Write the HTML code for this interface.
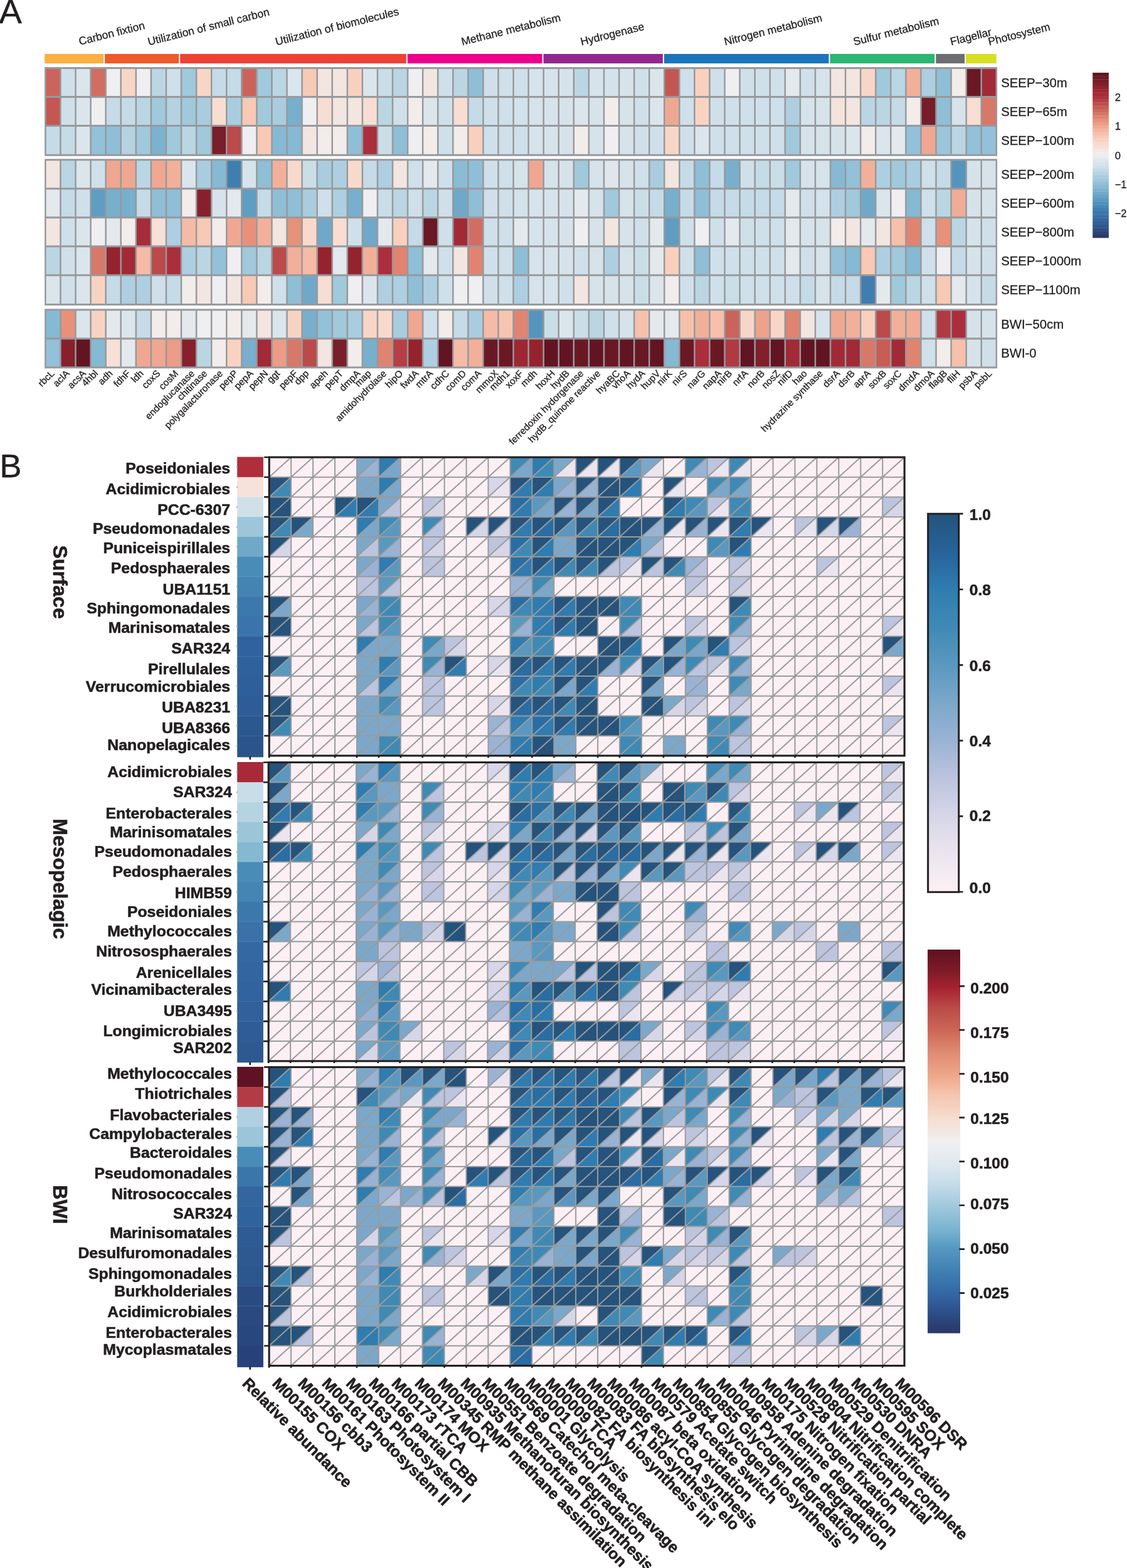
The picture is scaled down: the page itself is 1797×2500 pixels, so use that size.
<!DOCTYPE html>
<html lang="en">
<head>
<meta charset="utf-8">
<title>Figure: gene abundance heatmap and metabolic module completeness</title>
<style>
html,body{margin:0;padding:0;background:#fff}
body{width:1797px;height:2500px;overflow:hidden}
svg{display:block}
</style>
</head>
<body>
<svg xmlns="http://www.w3.org/2000/svg" width="1797" height="2500" viewBox="0 0 1797 2500" font-family="'Liberation Sans', Arial, Helvetica, sans-serif" fill="#231f20">
<defs>
<linearGradient id="ga" x1="0" y1="0" x2="0" y2="1"><stop offset="0" stop-color="#5c1122"/><stop offset="0.03" stop-color="#6b1825"/><stop offset="0.06" stop-color="#7a1e2a"/><stop offset="0.1" stop-color="#95232d"/><stop offset="0.14" stop-color="#ab2e3c"/><stop offset="0.19" stop-color="#bb4a4a"/><stop offset="0.22" stop-color="#cc635a"/><stop offset="0.26" stop-color="#d87868"/><stop offset="0.29" stop-color="#e8917a"/><stop offset="0.33" stop-color="#efa791"/><stop offset="0.34" stop-color="#f2b09a"/><stop offset="0.36" stop-color="#f5bba6"/><stop offset="0.39" stop-color="#f8c9b5"/><stop offset="0.41" stop-color="#f9d3c2"/><stop offset="0.44" stop-color="#f7ddd2"/><stop offset="0.47" stop-color="#f3e5e0"/><stop offset="0.48" stop-color="#f2ecea"/><stop offset="0.5" stop-color="#efeef0"/><stop offset="0.53" stop-color="#e3e9ed"/><stop offset="0.54" stop-color="#dbe5ec"/><stop offset="0.57" stop-color="#cfe0ea"/><stop offset="0.59" stop-color="#c5dbe7"/><stop offset="0.6" stop-color="#bad6e3"/><stop offset="0.62" stop-color="#aecfe1"/><stop offset="0.65" stop-color="#a0c9dc"/><stop offset="0.67" stop-color="#93c1d9"/><stop offset="0.69" stop-color="#86b9d3"/><stop offset="0.74" stop-color="#6fa8c9"/><stop offset="0.78" stop-color="#5595bd"/><stop offset="0.83" stop-color="#3f7faf"/><stop offset="0.87" stop-color="#3a6fa8"/><stop offset="0.92" stop-color="#305b95"/><stop offset="1" stop-color="#2a3762"/></linearGradient>
<linearGradient id="gb" x1="0" y1="0" x2="0" y2="1"><stop offset="0" stop-color="#25537c"/><stop offset="0.1" stop-color="#26639a"/><stop offset="0.2" stop-color="#2f7cb0"/><stop offset="0.3" stop-color="#3f8ab5"/><stop offset="0.4" stop-color="#5a98bf"/><stop offset="0.5" stop-color="#7ba8ca"/><stop offset="0.6" stop-color="#9ab3d4"/><stop offset="0.7" stop-color="#bcc4de"/><stop offset="0.8" stop-color="#d6d6e8"/><stop offset="0.9" stop-color="#ebe5f0"/><stop offset="1" stop-color="#fdf0f4"/></linearGradient>
<linearGradient id="gc" x1="0" y1="0" x2="0" y2="1"><stop offset="0" stop-color="#5e1021"/><stop offset="0.05" stop-color="#7a1a27"/><stop offset="0.1" stop-color="#a5222f"/><stop offset="0.15" stop-color="#b94a48"/><stop offset="0.21" stop-color="#cc6656"/><stop offset="0.27" stop-color="#e08c74"/><stop offset="0.33" stop-color="#eea88c"/><stop offset="0.38" stop-color="#f5c6b0"/><stop offset="0.44" stop-color="#f6ddd0"/><stop offset="0.5" stop-color="#f0f0f1"/><stop offset="0.56" stop-color="#dde8ef"/><stop offset="0.61" stop-color="#c6dce9"/><stop offset="0.67" stop-color="#a0c8dd"/><stop offset="0.73" stop-color="#7ab3d0"/><stop offset="0.78" stop-color="#5597c0"/><stop offset="0.84" stop-color="#3f7fb2"/><stop offset="0.9" stop-color="#3366a3"/><stop offset="0.95" stop-color="#2d4c85"/><stop offset="1" stop-color="#2a3765"/></linearGradient>
</defs>
<rect width="1797" height="2500" fill="#fff"/>
<text x="-1.5" y="37" font-size="54.5" stroke="#231f20" stroke-width="0.4">A</text>
<text x="-0.5" y="760.6" font-size="52.5" stroke="#231f20" stroke-width="0.4">B</text>
<g id="a-cat">
<rect x="71.2" y="86" width="94" height="15.1" fill="#fbb040"/>
<rect x="167.2" y="86" width="118" height="15.1" fill="#f15a29"/>
<rect x="287.2" y="86" width="360.5" height="15.1" fill="#ef4136"/>
<rect x="649.7" y="86" width="214.8" height="15.1" fill="#ec008c"/>
<rect x="866.5" y="86" width="190.4" height="15.1" fill="#92278f"/>
<rect x="1058.9" y="86" width="262.6" height="15.1" fill="#1b75bc"/>
<rect x="1323.5" y="86" width="166.8" height="15.1" fill="#2bb673"/>
<rect x="1492.3" y="86" width="45.8" height="15.1" fill="#6d6e71"/>
<rect x="1540.1" y="86" width="48.6" height="15.1" fill="#d7df23"/>
</g>
<g id="a-catlab" font-size="17.5" stroke="#231f20" stroke-width="0.3">
<text transform="translate(127.2 72) rotate(-14)">Carbon fixtion</text>
<text transform="translate(237.2 72.5) rotate(-14)">Utilization of small carbon</text>
<text transform="translate(440.7 72.5) rotate(-14)">Utilization of biomolecules</text>
<text transform="translate(737.2 72.5) rotate(-14)">Methane metabolism</text>
<text transform="translate(927.2 72.5) rotate(-14)">Hydrogenase</text>
<text transform="translate(1156.2 72.5) rotate(-14)">Nitrogen metabolism</text>
<text transform="translate(1362.2 72.5) rotate(-14)">Sulfur metabolism</text>
<text transform="translate(1516.8 72.5) rotate(-14)">Flagellar</text>
<text transform="translate(1577.2 72.5) rotate(-14)">Photosystem</text>
</g>
<g id="a-heat">
<rect x="71.15" y="107" width="1518.91" height="141.8" fill="#97999c"/>
<rect x="73.65" y="110" width="21.57" height="43" fill="#cc635a"/>
<rect x="97.72" y="110" width="21.57" height="43" fill="#cfe0ea"/>
<rect x="121.79" y="110" width="21.57" height="43" fill="#dbe5ec"/>
<rect x="145.86" y="110" width="21.57" height="43" fill="#d26e61"/>
<rect x="169.93" y="110" width="21.57" height="43" fill="#efeef0"/>
<rect x="194" y="110" width="21.57" height="43" fill="#f8d6c7"/>
<rect x="218.07" y="110" width="21.57" height="43" fill="#efeef0"/>
<rect x="242.14" y="110" width="21.57" height="43" fill="#bad6e3"/>
<rect x="266.21" y="110" width="21.57" height="43" fill="#cfe0ea"/>
<rect x="290.28" y="110" width="21.57" height="43" fill="#a0c9dc"/>
<rect x="314.35" y="110" width="21.57" height="43" fill="#f8d6c7"/>
<rect x="338.42" y="110" width="21.57" height="43" fill="#c5dbe7"/>
<rect x="362.49" y="110" width="21.57" height="43" fill="#c5dbe7"/>
<rect x="386.56" y="110" width="21.57" height="43" fill="#cc635a"/>
<rect x="410.63" y="110" width="21.57" height="43" fill="#a0c9dc"/>
<rect x="434.7" y="110" width="21.57" height="43" fill="#bad6e3"/>
<rect x="458.77" y="110" width="21.57" height="43" fill="#dbe5ec"/>
<rect x="482.84" y="110" width="21.57" height="43" fill="#f8c9b5"/>
<rect x="506.91" y="110" width="21.57" height="43" fill="#f3e5e0"/>
<rect x="530.98" y="110" width="21.57" height="43" fill="#f3e5e0"/>
<rect x="555.05" y="110" width="21.57" height="43" fill="#f9d0be"/>
<rect x="579.12" y="110" width="21.57" height="43" fill="#dbe5ec"/>
<rect x="603.19" y="110" width="21.57" height="43" fill="#cadee8"/>
<rect x="627.26" y="110" width="21.57" height="43" fill="#bad6e3"/>
<rect x="651.33" y="110" width="21.57" height="43" fill="#efeef0"/>
<rect x="675.4" y="110" width="21.57" height="43" fill="#f3e5e0"/>
<rect x="699.47" y="110" width="21.57" height="43" fill="#cfe0ea"/>
<rect x="723.54" y="110" width="21.57" height="43" fill="#bad6e3"/>
<rect x="747.61" y="110" width="21.57" height="43" fill="#8fbed7"/>
<rect x="771.68" y="110" width="21.57" height="43" fill="#cfe0ea"/>
<rect x="795.75" y="110" width="21.57" height="43" fill="#cfe0ea"/>
<rect x="819.82" y="110" width="21.57" height="43" fill="#cfe0ea"/>
<rect x="843.89" y="110" width="21.57" height="43" fill="#d7e3eb"/>
<rect x="867.96" y="110" width="21.57" height="43" fill="#d7e3eb"/>
<rect x="892.03" y="110" width="21.57" height="43" fill="#d7e3eb"/>
<rect x="916.1" y="110" width="21.57" height="43" fill="#bad6e3"/>
<rect x="940.17" y="110" width="21.57" height="43" fill="#d7e3eb"/>
<rect x="964.24" y="110" width="21.57" height="43" fill="#d3e2eb"/>
<rect x="988.31" y="110" width="21.57" height="43" fill="#d7e3eb"/>
<rect x="1012.38" y="110" width="21.57" height="43" fill="#cfe0ea"/>
<rect x="1036.45" y="110" width="21.57" height="43" fill="#dbe5ec"/>
<rect x="1060.52" y="110" width="21.57" height="43" fill="#c45752"/>
<rect x="1084.59" y="110" width="21.57" height="43" fill="#cfe0ea"/>
<rect x="1108.66" y="110" width="21.57" height="43" fill="#f9d0be"/>
<rect x="1132.73" y="110" width="21.57" height="43" fill="#cfe0ea"/>
<rect x="1156.8" y="110" width="21.57" height="43" fill="#efeef0"/>
<rect x="1180.87" y="110" width="21.57" height="43" fill="#cfe0ea"/>
<rect x="1204.94" y="110" width="21.57" height="43" fill="#cfe0ea"/>
<rect x="1229.01" y="110" width="21.57" height="43" fill="#cfe0ea"/>
<rect x="1253.08" y="110" width="21.57" height="43" fill="#e3e9ed"/>
<rect x="1277.15" y="110" width="21.57" height="43" fill="#cfe0ea"/>
<rect x="1301.22" y="110" width="21.57" height="43" fill="#d7e3eb"/>
<rect x="1325.29" y="110" width="21.57" height="43" fill="#f3e5e0"/>
<rect x="1349.36" y="110" width="21.57" height="43" fill="#f3e5e0"/>
<rect x="1373.43" y="110" width="21.57" height="43" fill="#f8d6c7"/>
<rect x="1397.5" y="110" width="21.57" height="43" fill="#a0c9dc"/>
<rect x="1421.57" y="110" width="21.57" height="43" fill="#bad6e3"/>
<rect x="1445.64" y="110" width="21.57" height="43" fill="#f2b09a"/>
<rect x="1469.71" y="110" width="21.57" height="43" fill="#aecfe1"/>
<rect x="1493.78" y="110" width="21.57" height="43" fill="#8fbed7"/>
<rect x="1517.85" y="110" width="21.57" height="43" fill="#f2ecea"/>
<rect x="1541.92" y="110" width="21.57" height="43" fill="#6b1825"/>
<rect x="1565.99" y="110" width="21.57" height="43" fill="#a22a36"/>
<rect x="73.65" y="156" width="21.57" height="43" fill="#c45752"/>
<rect x="97.72" y="156" width="21.57" height="43" fill="#cfe0ea"/>
<rect x="121.79" y="156" width="21.57" height="43" fill="#dbe5ec"/>
<rect x="145.86" y="156" width="21.57" height="43" fill="#efeef0"/>
<rect x="169.93" y="156" width="21.57" height="43" fill="#c5dbe7"/>
<rect x="194" y="156" width="21.57" height="43" fill="#c5dbe7"/>
<rect x="218.07" y="156" width="21.57" height="43" fill="#bad6e3"/>
<rect x="242.14" y="156" width="21.57" height="43" fill="#a0c9dc"/>
<rect x="266.21" y="156" width="21.57" height="43" fill="#b4d2e2"/>
<rect x="290.28" y="156" width="21.57" height="43" fill="#a0c9dc"/>
<rect x="314.35" y="156" width="21.57" height="43" fill="#a9cddf"/>
<rect x="338.42" y="156" width="21.57" height="43" fill="#f7ddd2"/>
<rect x="362.49" y="156" width="21.57" height="43" fill="#a9cddf"/>
<rect x="386.56" y="156" width="21.57" height="43" fill="#f8c9b5"/>
<rect x="410.63" y="156" width="21.57" height="43" fill="#a0c9dc"/>
<rect x="434.7" y="156" width="21.57" height="43" fill="#a9cddf"/>
<rect x="458.77" y="156" width="21.57" height="43" fill="#78afcd"/>
<rect x="482.84" y="156" width="21.57" height="43" fill="#efeef0"/>
<rect x="506.91" y="156" width="21.57" height="43" fill="#f7ddd2"/>
<rect x="530.98" y="156" width="21.57" height="43" fill="#f3e5e0"/>
<rect x="555.05" y="156" width="21.57" height="43" fill="#f3e5e0"/>
<rect x="579.12" y="156" width="21.57" height="43" fill="#f7ddd2"/>
<rect x="603.19" y="156" width="21.57" height="43" fill="#bad6e3"/>
<rect x="627.26" y="156" width="21.57" height="43" fill="#cfe0ea"/>
<rect x="651.33" y="156" width="21.57" height="43" fill="#f2ecea"/>
<rect x="675.4" y="156" width="21.57" height="43" fill="#dbe5ec"/>
<rect x="699.47" y="156" width="21.57" height="43" fill="#cfe0ea"/>
<rect x="723.54" y="156" width="21.57" height="43" fill="#f7ddd2"/>
<rect x="747.61" y="156" width="21.57" height="43" fill="#c5dbe7"/>
<rect x="771.68" y="156" width="21.57" height="43" fill="#cfe0ea"/>
<rect x="795.75" y="156" width="21.57" height="43" fill="#cfe0ea"/>
<rect x="819.82" y="156" width="21.57" height="43" fill="#d3e2eb"/>
<rect x="843.89" y="156" width="21.57" height="43" fill="#d7e3eb"/>
<rect x="867.96" y="156" width="21.57" height="43" fill="#d7e3eb"/>
<rect x="892.03" y="156" width="21.57" height="43" fill="#d7e3eb"/>
<rect x="916.1" y="156" width="21.57" height="43" fill="#dbe5ec"/>
<rect x="940.17" y="156" width="21.57" height="43" fill="#d7e3eb"/>
<rect x="964.24" y="156" width="21.57" height="43" fill="#f2ecea"/>
<rect x="988.31" y="156" width="21.57" height="43" fill="#d7e3eb"/>
<rect x="1012.38" y="156" width="21.57" height="43" fill="#cfe0ea"/>
<rect x="1036.45" y="156" width="21.57" height="43" fill="#dbe5ec"/>
<rect x="1060.52" y="156" width="21.57" height="43" fill="#efa791"/>
<rect x="1084.59" y="156" width="21.57" height="43" fill="#cfe0ea"/>
<rect x="1108.66" y="156" width="21.57" height="43" fill="#f9d3c2"/>
<rect x="1132.73" y="156" width="21.57" height="43" fill="#cfe0ea"/>
<rect x="1156.8" y="156" width="21.57" height="43" fill="#cfe0ea"/>
<rect x="1180.87" y="156" width="21.57" height="43" fill="#cfe0ea"/>
<rect x="1204.94" y="156" width="21.57" height="43" fill="#cfe0ea"/>
<rect x="1229.01" y="156" width="21.57" height="43" fill="#cfe0ea"/>
<rect x="1253.08" y="156" width="21.57" height="43" fill="#aecfe1"/>
<rect x="1277.15" y="156" width="21.57" height="43" fill="#d7e3eb"/>
<rect x="1301.22" y="156" width="21.57" height="43" fill="#d7e3eb"/>
<rect x="1325.29" y="156" width="21.57" height="43" fill="#f4e2db"/>
<rect x="1349.36" y="156" width="21.57" height="43" fill="#f3e5e0"/>
<rect x="1373.43" y="156" width="21.57" height="43" fill="#bad6e3"/>
<rect x="1397.5" y="156" width="21.57" height="43" fill="#bad6e3"/>
<rect x="1421.57" y="156" width="21.57" height="43" fill="#c5dbe7"/>
<rect x="1445.64" y="156" width="21.57" height="43" fill="#f2ecea"/>
<rect x="1469.71" y="156" width="21.57" height="43" fill="#761d29"/>
<rect x="1493.78" y="156" width="21.57" height="43" fill="#8fbed7"/>
<rect x="1517.85" y="156" width="21.57" height="43" fill="#d7e3eb"/>
<rect x="1541.92" y="156" width="21.57" height="43" fill="#f7ddd2"/>
<rect x="1565.99" y="156" width="21.57" height="43" fill="#d87868"/>
<rect x="73.65" y="202" width="21.57" height="43.8" fill="#c5dbe7"/>
<rect x="97.72" y="202" width="21.57" height="43.8" fill="#c5dbe7"/>
<rect x="121.79" y="202" width="21.57" height="43.8" fill="#dbe5ec"/>
<rect x="145.86" y="202" width="21.57" height="43.8" fill="#93c1d9"/>
<rect x="169.93" y="202" width="21.57" height="43.8" fill="#8fbed7"/>
<rect x="194" y="202" width="21.57" height="43.8" fill="#b4d2e2"/>
<rect x="218.07" y="202" width="21.57" height="43.8" fill="#a0c9dc"/>
<rect x="242.14" y="202" width="21.57" height="43.8" fill="#7db2cf"/>
<rect x="266.21" y="202" width="21.57" height="43.8" fill="#a0c9dc"/>
<rect x="290.28" y="202" width="21.57" height="43.8" fill="#bad6e3"/>
<rect x="314.35" y="202" width="21.57" height="43.8" fill="#a0c9dc"/>
<rect x="338.42" y="202" width="21.57" height="43.8" fill="#7a1e2a"/>
<rect x="362.49" y="202" width="21.57" height="43.8" fill="#bb4a4a"/>
<rect x="386.56" y="202" width="21.57" height="43.8" fill="#efeef0"/>
<rect x="410.63" y="202" width="21.57" height="43.8" fill="#f8c9b5"/>
<rect x="434.7" y="202" width="21.57" height="43.8" fill="#86b9d3"/>
<rect x="458.77" y="202" width="21.57" height="43.8" fill="#86b9d3"/>
<rect x="482.84" y="202" width="21.57" height="43.8" fill="#f3e5e0"/>
<rect x="506.91" y="202" width="21.57" height="43.8" fill="#f2ecea"/>
<rect x="530.98" y="202" width="21.57" height="43.8" fill="#f2ecea"/>
<rect x="555.05" y="202" width="21.57" height="43.8" fill="#8fbed7"/>
<rect x="579.12" y="202" width="21.57" height="43.8" fill="#ab2e3c"/>
<rect x="603.19" y="202" width="21.57" height="43.8" fill="#cadee8"/>
<rect x="627.26" y="202" width="21.57" height="43.8" fill="#8fbed7"/>
<rect x="651.33" y="202" width="21.57" height="43.8" fill="#efeef0"/>
<rect x="675.4" y="202" width="21.57" height="43.8" fill="#f2ecea"/>
<rect x="699.47" y="202" width="21.57" height="43.8" fill="#cfe0ea"/>
<rect x="723.54" y="202" width="21.57" height="43.8" fill="#f2ecea"/>
<rect x="747.61" y="202" width="21.57" height="43.8" fill="#f9d0be"/>
<rect x="771.68" y="202" width="21.57" height="43.8" fill="#cfe0ea"/>
<rect x="795.75" y="202" width="21.57" height="43.8" fill="#cfe0ea"/>
<rect x="819.82" y="202" width="21.57" height="43.8" fill="#cfe0ea"/>
<rect x="843.89" y="202" width="21.57" height="43.8" fill="#d7e3eb"/>
<rect x="867.96" y="202" width="21.57" height="43.8" fill="#d7e3eb"/>
<rect x="892.03" y="202" width="21.57" height="43.8" fill="#d7e3eb"/>
<rect x="916.1" y="202" width="21.57" height="43.8" fill="#f2ecea"/>
<rect x="940.17" y="202" width="21.57" height="43.8" fill="#d7e3eb"/>
<rect x="964.24" y="202" width="21.57" height="43.8" fill="#efeef0"/>
<rect x="988.31" y="202" width="21.57" height="43.8" fill="#d7e3eb"/>
<rect x="1012.38" y="202" width="21.57" height="43.8" fill="#cfe0ea"/>
<rect x="1036.45" y="202" width="21.57" height="43.8" fill="#cfe0ea"/>
<rect x="1060.52" y="202" width="21.57" height="43.8" fill="#f8d6c7"/>
<rect x="1084.59" y="202" width="21.57" height="43.8" fill="#cfe0ea"/>
<rect x="1108.66" y="202" width="21.57" height="43.8" fill="#dbe5ec"/>
<rect x="1132.73" y="202" width="21.57" height="43.8" fill="#cfe0ea"/>
<rect x="1156.8" y="202" width="21.57" height="43.8" fill="#cfe0ea"/>
<rect x="1180.87" y="202" width="21.57" height="43.8" fill="#cfe0ea"/>
<rect x="1204.94" y="202" width="21.57" height="43.8" fill="#cfe0ea"/>
<rect x="1229.01" y="202" width="21.57" height="43.8" fill="#cfe0ea"/>
<rect x="1253.08" y="202" width="21.57" height="43.8" fill="#a0c9dc"/>
<rect x="1277.15" y="202" width="21.57" height="43.8" fill="#d7e3eb"/>
<rect x="1301.22" y="202" width="21.57" height="43.8" fill="#d7e3eb"/>
<rect x="1325.29" y="202" width="21.57" height="43.8" fill="#d7e3eb"/>
<rect x="1349.36" y="202" width="21.57" height="43.8" fill="#dbe5ec"/>
<rect x="1373.43" y="202" width="21.57" height="43.8" fill="#f2ecea"/>
<rect x="1397.5" y="202" width="21.57" height="43.8" fill="#dbe5ec"/>
<rect x="1421.57" y="202" width="21.57" height="43.8" fill="#e3e9ed"/>
<rect x="1445.64" y="202" width="21.57" height="43.8" fill="#93c1d9"/>
<rect x="1469.71" y="202" width="21.57" height="43.8" fill="#efa791"/>
<rect x="1493.78" y="202" width="21.57" height="43.8" fill="#9ac5da"/>
<rect x="1517.85" y="202" width="21.57" height="43.8" fill="#bad6e3"/>
<rect x="1541.92" y="202" width="21.57" height="43.8" fill="#93c1d9"/>
<rect x="1565.99" y="202" width="21.57" height="43.8" fill="#93c1d9"/>
<rect x="71.15" y="253.3" width="1518.91" height="233.8" fill="#97999c"/>
<rect x="73.65" y="256.3" width="21.57" height="43" fill="#f3e5e0"/>
<rect x="97.72" y="256.3" width="21.57" height="43" fill="#bad6e3"/>
<rect x="121.79" y="256.3" width="21.57" height="43" fill="#dbe5ec"/>
<rect x="145.86" y="256.3" width="21.57" height="43" fill="#cfe0ea"/>
<rect x="169.93" y="256.3" width="21.57" height="43" fill="#efa791"/>
<rect x="194" y="256.3" width="21.57" height="43" fill="#efa791"/>
<rect x="218.07" y="256.3" width="21.57" height="43" fill="#bad6e3"/>
<rect x="242.14" y="256.3" width="21.57" height="43" fill="#efa791"/>
<rect x="266.21" y="256.3" width="21.57" height="43" fill="#f2b09a"/>
<rect x="290.28" y="256.3" width="21.57" height="43" fill="#dbe5ec"/>
<rect x="314.35" y="256.3" width="21.57" height="43" fill="#a9cddf"/>
<rect x="338.42" y="256.3" width="21.57" height="43" fill="#86b9d3"/>
<rect x="362.49" y="256.3" width="21.57" height="43" fill="#3f7faf"/>
<rect x="386.56" y="256.3" width="21.57" height="43" fill="#d7e3eb"/>
<rect x="410.63" y="256.3" width="21.57" height="43" fill="#8fbed7"/>
<rect x="434.7" y="256.3" width="21.57" height="43" fill="#f2b09a"/>
<rect x="458.77" y="256.3" width="21.57" height="43" fill="#f8dacd"/>
<rect x="482.84" y="256.3" width="21.57" height="43" fill="#cadee8"/>
<rect x="506.91" y="256.3" width="21.57" height="43" fill="#a9cddf"/>
<rect x="530.98" y="256.3" width="21.57" height="43" fill="#aecfe1"/>
<rect x="555.05" y="256.3" width="21.57" height="43" fill="#f8dacd"/>
<rect x="579.12" y="256.3" width="21.57" height="43" fill="#c5dbe7"/>
<rect x="603.19" y="256.3" width="21.57" height="43" fill="#aecfe1"/>
<rect x="627.26" y="256.3" width="21.57" height="43" fill="#f3e5e0"/>
<rect x="651.33" y="256.3" width="21.57" height="43" fill="#cfe0ea"/>
<rect x="675.4" y="256.3" width="21.57" height="43" fill="#e3e9ed"/>
<rect x="699.47" y="256.3" width="21.57" height="43" fill="#cfe0ea"/>
<rect x="723.54" y="256.3" width="21.57" height="43" fill="#8abcd5"/>
<rect x="747.61" y="256.3" width="21.57" height="43" fill="#8fbed7"/>
<rect x="771.68" y="256.3" width="21.57" height="43" fill="#cfe0ea"/>
<rect x="795.75" y="256.3" width="21.57" height="43" fill="#cfe0ea"/>
<rect x="819.82" y="256.3" width="21.57" height="43" fill="#d7e3eb"/>
<rect x="843.89" y="256.3" width="21.57" height="43" fill="#efa791"/>
<rect x="867.96" y="256.3" width="21.57" height="43" fill="#d7e3eb"/>
<rect x="892.03" y="256.3" width="21.57" height="43" fill="#d7e3eb"/>
<rect x="916.1" y="256.3" width="21.57" height="43" fill="#a0c9dc"/>
<rect x="940.17" y="256.3" width="21.57" height="43" fill="#d7e3eb"/>
<rect x="964.24" y="256.3" width="21.57" height="43" fill="#dfe7ec"/>
<rect x="988.31" y="256.3" width="21.57" height="43" fill="#d7e3eb"/>
<rect x="1012.38" y="256.3" width="21.57" height="43" fill="#cfe0ea"/>
<rect x="1036.45" y="256.3" width="21.57" height="43" fill="#a9cddf"/>
<rect x="1060.52" y="256.3" width="21.57" height="43" fill="#f3e5e0"/>
<rect x="1084.59" y="256.3" width="21.57" height="43" fill="#c5dbe7"/>
<rect x="1108.66" y="256.3" width="21.57" height="43" fill="#8fbed7"/>
<rect x="1132.73" y="256.3" width="21.57" height="43" fill="#c5dbe7"/>
<rect x="1156.8" y="256.3" width="21.57" height="43" fill="#78afcd"/>
<rect x="1180.87" y="256.3" width="21.57" height="43" fill="#cfe0ea"/>
<rect x="1204.94" y="256.3" width="21.57" height="43" fill="#c5dbe7"/>
<rect x="1229.01" y="256.3" width="21.57" height="43" fill="#cadee8"/>
<rect x="1253.08" y="256.3" width="21.57" height="43" fill="#a0c9dc"/>
<rect x="1277.15" y="256.3" width="21.57" height="43" fill="#d7e3eb"/>
<rect x="1301.22" y="256.3" width="21.57" height="43" fill="#d7e3eb"/>
<rect x="1325.29" y="256.3" width="21.57" height="43" fill="#86b9d3"/>
<rect x="1349.36" y="256.3" width="21.57" height="43" fill="#93c1d9"/>
<rect x="1373.43" y="256.3" width="21.57" height="43" fill="#f2b09a"/>
<rect x="1397.5" y="256.3" width="21.57" height="43" fill="#aecfe1"/>
<rect x="1421.57" y="256.3" width="21.57" height="43" fill="#a0c9dc"/>
<rect x="1445.64" y="256.3" width="21.57" height="43" fill="#a9cddf"/>
<rect x="1469.71" y="256.3" width="21.57" height="43" fill="#cfe0ea"/>
<rect x="1493.78" y="256.3" width="21.57" height="43" fill="#c5dbe7"/>
<rect x="1517.85" y="256.3" width="21.57" height="43" fill="#5595bd"/>
<rect x="1541.92" y="256.3" width="21.57" height="43" fill="#d7e3eb"/>
<rect x="1565.99" y="256.3" width="21.57" height="43" fill="#d7e3eb"/>
<rect x="73.65" y="302.3" width="21.57" height="43" fill="#e3e9ed"/>
<rect x="97.72" y="302.3" width="21.57" height="43" fill="#c5dbe7"/>
<rect x="121.79" y="302.3" width="21.57" height="43" fill="#cfe0ea"/>
<rect x="145.86" y="302.3" width="21.57" height="43" fill="#5f9dc2"/>
<rect x="169.93" y="302.3" width="21.57" height="43" fill="#78afcd"/>
<rect x="194" y="302.3" width="21.57" height="43" fill="#78afcd"/>
<rect x="218.07" y="302.3" width="21.57" height="43" fill="#c5dbe7"/>
<rect x="242.14" y="302.3" width="21.57" height="43" fill="#8fbed7"/>
<rect x="266.21" y="302.3" width="21.57" height="43" fill="#8fbed7"/>
<rect x="290.28" y="302.3" width="21.57" height="43" fill="#f2ecea"/>
<rect x="314.35" y="302.3" width="21.57" height="43" fill="#88202c"/>
<rect x="338.42" y="302.3" width="21.57" height="43" fill="#d7e3eb"/>
<rect x="362.49" y="302.3" width="21.57" height="43" fill="#e3e9ed"/>
<rect x="386.56" y="302.3" width="21.57" height="43" fill="#5f9dc2"/>
<rect x="410.63" y="302.3" width="21.57" height="43" fill="#c5dbe7"/>
<rect x="434.7" y="302.3" width="21.57" height="43" fill="#8fbed7"/>
<rect x="458.77" y="302.3" width="21.57" height="43" fill="#8fbed7"/>
<rect x="482.84" y="302.3" width="21.57" height="43" fill="#a9cddf"/>
<rect x="506.91" y="302.3" width="21.57" height="43" fill="#cfe0ea"/>
<rect x="530.98" y="302.3" width="21.57" height="43" fill="#aecfe1"/>
<rect x="555.05" y="302.3" width="21.57" height="43" fill="#78afcd"/>
<rect x="579.12" y="302.3" width="21.57" height="43" fill="#efeef0"/>
<rect x="603.19" y="302.3" width="21.57" height="43" fill="#cadee8"/>
<rect x="627.26" y="302.3" width="21.57" height="43" fill="#bad6e3"/>
<rect x="651.33" y="302.3" width="21.57" height="43" fill="#cfe0ea"/>
<rect x="675.4" y="302.3" width="21.57" height="43" fill="#bad6e3"/>
<rect x="699.47" y="302.3" width="21.57" height="43" fill="#cfe0ea"/>
<rect x="723.54" y="302.3" width="21.57" height="43" fill="#6fa8c9"/>
<rect x="747.61" y="302.3" width="21.57" height="43" fill="#8fbed7"/>
<rect x="771.68" y="302.3" width="21.57" height="43" fill="#cfe0ea"/>
<rect x="795.75" y="302.3" width="21.57" height="43" fill="#cfe0ea"/>
<rect x="819.82" y="302.3" width="21.57" height="43" fill="#d3e2eb"/>
<rect x="843.89" y="302.3" width="21.57" height="43" fill="#d7e3eb"/>
<rect x="867.96" y="302.3" width="21.57" height="43" fill="#d7e3eb"/>
<rect x="892.03" y="302.3" width="21.57" height="43" fill="#d7e3eb"/>
<rect x="916.1" y="302.3" width="21.57" height="43" fill="#e3e9ed"/>
<rect x="940.17" y="302.3" width="21.57" height="43" fill="#d7e3eb"/>
<rect x="964.24" y="302.3" width="21.57" height="43" fill="#a0c9dc"/>
<rect x="988.31" y="302.3" width="21.57" height="43" fill="#d7e3eb"/>
<rect x="1012.38" y="302.3" width="21.57" height="43" fill="#cadee8"/>
<rect x="1036.45" y="302.3" width="21.57" height="43" fill="#c5dbe7"/>
<rect x="1060.52" y="302.3" width="21.57" height="43" fill="#78afcd"/>
<rect x="1084.59" y="302.3" width="21.57" height="43" fill="#c5dbe7"/>
<rect x="1108.66" y="302.3" width="21.57" height="43" fill="#8fbed7"/>
<rect x="1132.73" y="302.3" width="21.57" height="43" fill="#c5dbe7"/>
<rect x="1156.8" y="302.3" width="21.57" height="43" fill="#c5dbe7"/>
<rect x="1180.87" y="302.3" width="21.57" height="43" fill="#c5dbe7"/>
<rect x="1204.94" y="302.3" width="21.57" height="43" fill="#c5dbe7"/>
<rect x="1229.01" y="302.3" width="21.57" height="43" fill="#c5dbe7"/>
<rect x="1253.08" y="302.3" width="21.57" height="43" fill="#e3e9ed"/>
<rect x="1277.15" y="302.3" width="21.57" height="43" fill="#cfe0ea"/>
<rect x="1301.22" y="302.3" width="21.57" height="43" fill="#d3e2eb"/>
<rect x="1325.29" y="302.3" width="21.57" height="43" fill="#aecfe1"/>
<rect x="1349.36" y="302.3" width="21.57" height="43" fill="#a0c9dc"/>
<rect x="1373.43" y="302.3" width="21.57" height="43" fill="#6fa8c9"/>
<rect x="1397.5" y="302.3" width="21.57" height="43" fill="#dbe5ec"/>
<rect x="1421.57" y="302.3" width="21.57" height="43" fill="#efeef0"/>
<rect x="1445.64" y="302.3" width="21.57" height="43" fill="#86b9d3"/>
<rect x="1469.71" y="302.3" width="21.57" height="43" fill="#cfe0ea"/>
<rect x="1493.78" y="302.3" width="21.57" height="43" fill="#bad6e3"/>
<rect x="1517.85" y="302.3" width="21.57" height="43" fill="#f0ac96"/>
<rect x="1541.92" y="302.3" width="21.57" height="43" fill="#d7e3eb"/>
<rect x="1565.99" y="302.3" width="21.57" height="43" fill="#d7e3eb"/>
<rect x="73.65" y="348.3" width="21.57" height="43" fill="#f3e5e0"/>
<rect x="97.72" y="348.3" width="21.57" height="43" fill="#cfe0ea"/>
<rect x="121.79" y="348.3" width="21.57" height="43" fill="#dbe5ec"/>
<rect x="145.86" y="348.3" width="21.57" height="43" fill="#efeef0"/>
<rect x="169.93" y="348.3" width="21.57" height="43" fill="#e3e9ed"/>
<rect x="194" y="348.3" width="21.57" height="43" fill="#f2ecea"/>
<rect x="218.07" y="348.3" width="21.57" height="43" fill="#a72c39"/>
<rect x="242.14" y="348.3" width="21.57" height="43" fill="#f6e0d7"/>
<rect x="266.21" y="348.3" width="21.57" height="43" fill="#aecfe1"/>
<rect x="290.28" y="348.3" width="21.57" height="43" fill="#f5bba6"/>
<rect x="314.35" y="348.3" width="21.57" height="43" fill="#f8c9b5"/>
<rect x="338.42" y="348.3" width="21.57" height="43" fill="#f2ecea"/>
<rect x="362.49" y="348.3" width="21.57" height="43" fill="#efa791"/>
<rect x="386.56" y="348.3" width="21.57" height="43" fill="#e8917a"/>
<rect x="410.63" y="348.3" width="21.57" height="43" fill="#f2b09a"/>
<rect x="434.7" y="348.3" width="21.57" height="43" fill="#f3e5e0"/>
<rect x="458.77" y="348.3" width="21.57" height="43" fill="#e8917a"/>
<rect x="482.84" y="348.3" width="21.57" height="43" fill="#f8dacd"/>
<rect x="506.91" y="348.3" width="21.57" height="43" fill="#6fa8c9"/>
<rect x="530.98" y="348.3" width="21.57" height="43" fill="#f7ddd2"/>
<rect x="555.05" y="348.3" width="21.57" height="43" fill="#cfe0ea"/>
<rect x="579.12" y="348.3" width="21.57" height="43" fill="#6fa8c9"/>
<rect x="603.19" y="348.3" width="21.57" height="43" fill="#e3e9ed"/>
<rect x="627.26" y="348.3" width="21.57" height="43" fill="#f9d0be"/>
<rect x="651.33" y="348.3" width="21.57" height="43" fill="#c5dbe7"/>
<rect x="675.4" y="348.3" width="21.57" height="43" fill="#6b1825"/>
<rect x="699.47" y="348.3" width="21.57" height="43" fill="#cfe0ea"/>
<rect x="723.54" y="348.3" width="21.57" height="43" fill="#a22a36"/>
<rect x="747.61" y="348.3" width="21.57" height="43" fill="#d26e61"/>
<rect x="771.68" y="348.3" width="21.57" height="43" fill="#cfe0ea"/>
<rect x="795.75" y="348.3" width="21.57" height="43" fill="#cfe0ea"/>
<rect x="819.82" y="348.3" width="21.57" height="43" fill="#e3e9ed"/>
<rect x="843.89" y="348.3" width="21.57" height="43" fill="#d7e3eb"/>
<rect x="867.96" y="348.3" width="21.57" height="43" fill="#d7e3eb"/>
<rect x="892.03" y="348.3" width="21.57" height="43" fill="#d7e3eb"/>
<rect x="916.1" y="348.3" width="21.57" height="43" fill="#efeef0"/>
<rect x="940.17" y="348.3" width="21.57" height="43" fill="#d7e3eb"/>
<rect x="964.24" y="348.3" width="21.57" height="43" fill="#f3e5e0"/>
<rect x="988.31" y="348.3" width="21.57" height="43" fill="#d7e3eb"/>
<rect x="1012.38" y="348.3" width="21.57" height="43" fill="#cfe0ea"/>
<rect x="1036.45" y="348.3" width="21.57" height="43" fill="#e3e9ed"/>
<rect x="1060.52" y="348.3" width="21.57" height="43" fill="#5f9dc2"/>
<rect x="1084.59" y="348.3" width="21.57" height="43" fill="#cfe0ea"/>
<rect x="1108.66" y="348.3" width="21.57" height="43" fill="#efeef0"/>
<rect x="1132.73" y="348.3" width="21.57" height="43" fill="#cfe0ea"/>
<rect x="1156.8" y="348.3" width="21.57" height="43" fill="#e3e9ed"/>
<rect x="1180.87" y="348.3" width="21.57" height="43" fill="#cfe0ea"/>
<rect x="1204.94" y="348.3" width="21.57" height="43" fill="#cfe0ea"/>
<rect x="1229.01" y="348.3" width="21.57" height="43" fill="#cfe0ea"/>
<rect x="1253.08" y="348.3" width="21.57" height="43" fill="#e3e9ed"/>
<rect x="1277.15" y="348.3" width="21.57" height="43" fill="#d7e3eb"/>
<rect x="1301.22" y="348.3" width="21.57" height="43" fill="#d7e3eb"/>
<rect x="1325.29" y="348.3" width="21.57" height="43" fill="#f2ecea"/>
<rect x="1349.36" y="348.3" width="21.57" height="43" fill="#f3e5e0"/>
<rect x="1373.43" y="348.3" width="21.57" height="43" fill="#e3e9ed"/>
<rect x="1397.5" y="348.3" width="21.57" height="43" fill="#f3e5e0"/>
<rect x="1421.57" y="348.3" width="21.57" height="43" fill="#f6c0ab"/>
<rect x="1445.64" y="348.3" width="21.57" height="43" fill="#e08471"/>
<rect x="1469.71" y="348.3" width="21.57" height="43" fill="#cfe0ea"/>
<rect x="1493.78" y="348.3" width="21.57" height="43" fill="#e8917a"/>
<rect x="1517.85" y="348.3" width="21.57" height="43" fill="#bad6e3"/>
<rect x="1541.92" y="348.3" width="21.57" height="43" fill="#d7e3eb"/>
<rect x="1565.99" y="348.3" width="21.57" height="43" fill="#cfe0ea"/>
<rect x="73.65" y="394.3" width="21.57" height="43" fill="#bad6e3"/>
<rect x="97.72" y="394.3" width="21.57" height="43" fill="#cfe0ea"/>
<rect x="121.79" y="394.3" width="21.57" height="43" fill="#dbe5ec"/>
<rect x="145.86" y="394.3" width="21.57" height="43" fill="#d87868"/>
<rect x="169.93" y="394.3" width="21.57" height="43" fill="#95232d"/>
<rect x="194" y="394.3" width="21.57" height="43" fill="#a22a36"/>
<rect x="218.07" y="394.3" width="21.57" height="43" fill="#f5bba6"/>
<rect x="242.14" y="394.3" width="21.57" height="43" fill="#bb4a4a"/>
<rect x="266.21" y="394.3" width="21.57" height="43" fill="#ab2e3c"/>
<rect x="290.28" y="394.3" width="21.57" height="43" fill="#aecfe1"/>
<rect x="314.35" y="394.3" width="21.57" height="43" fill="#bad6e3"/>
<rect x="338.42" y="394.3" width="21.57" height="43" fill="#93c1d9"/>
<rect x="362.49" y="394.3" width="21.57" height="43" fill="#efeef0"/>
<rect x="386.56" y="394.3" width="21.57" height="43" fill="#a0c9dc"/>
<rect x="410.63" y="394.3" width="21.57" height="43" fill="#bad6e3"/>
<rect x="434.7" y="394.3" width="21.57" height="43" fill="#bb4a4a"/>
<rect x="458.77" y="394.3" width="21.57" height="43" fill="#f2b09a"/>
<rect x="482.84" y="394.3" width="21.57" height="43" fill="#f5bba6"/>
<rect x="506.91" y="394.3" width="21.57" height="43" fill="#95232d"/>
<rect x="530.98" y="394.3" width="21.57" height="43" fill="#e3e9ed"/>
<rect x="555.05" y="394.3" width="21.57" height="43" fill="#95232d"/>
<rect x="579.12" y="394.3" width="21.57" height="43" fill="#f2b09a"/>
<rect x="603.19" y="394.3" width="21.57" height="43" fill="#ab2e3c"/>
<rect x="627.26" y="394.3" width="21.57" height="43" fill="#e08471"/>
<rect x="651.33" y="394.3" width="21.57" height="43" fill="#8fbed7"/>
<rect x="675.4" y="394.3" width="21.57" height="43" fill="#e3e9ed"/>
<rect x="699.47" y="394.3" width="21.57" height="43" fill="#cfe0ea"/>
<rect x="723.54" y="394.3" width="21.57" height="43" fill="#f3e5e0"/>
<rect x="747.61" y="394.3" width="21.57" height="43" fill="#e08471"/>
<rect x="771.68" y="394.3" width="21.57" height="43" fill="#cfe0ea"/>
<rect x="795.75" y="394.3" width="21.57" height="43" fill="#cfe0ea"/>
<rect x="819.82" y="394.3" width="21.57" height="43" fill="#8fbed7"/>
<rect x="843.89" y="394.3" width="21.57" height="43" fill="#d7e3eb"/>
<rect x="867.96" y="394.3" width="21.57" height="43" fill="#d7e3eb"/>
<rect x="892.03" y="394.3" width="21.57" height="43" fill="#d7e3eb"/>
<rect x="916.1" y="394.3" width="21.57" height="43" fill="#cfe0ea"/>
<rect x="940.17" y="394.3" width="21.57" height="43" fill="#d7e3eb"/>
<rect x="964.24" y="394.3" width="21.57" height="43" fill="#aecfe1"/>
<rect x="988.31" y="394.3" width="21.57" height="43" fill="#d7e3eb"/>
<rect x="1012.38" y="394.3" width="21.57" height="43" fill="#cadee8"/>
<rect x="1036.45" y="394.3" width="21.57" height="43" fill="#e3e9ed"/>
<rect x="1060.52" y="394.3" width="21.57" height="43" fill="#f9d0be"/>
<rect x="1084.59" y="394.3" width="21.57" height="43" fill="#cfe0ea"/>
<rect x="1108.66" y="394.3" width="21.57" height="43" fill="#8fbed7"/>
<rect x="1132.73" y="394.3" width="21.57" height="43" fill="#cfe0ea"/>
<rect x="1156.8" y="394.3" width="21.57" height="43" fill="#cfe0ea"/>
<rect x="1180.87" y="394.3" width="21.57" height="43" fill="#cfe0ea"/>
<rect x="1204.94" y="394.3" width="21.57" height="43" fill="#cfe0ea"/>
<rect x="1229.01" y="394.3" width="21.57" height="43" fill="#cfe0ea"/>
<rect x="1253.08" y="394.3" width="21.57" height="43" fill="#e3e9ed"/>
<rect x="1277.15" y="394.3" width="21.57" height="43" fill="#cfe0ea"/>
<rect x="1301.22" y="394.3" width="21.57" height="43" fill="#d7e3eb"/>
<rect x="1325.29" y="394.3" width="21.57" height="43" fill="#93c1d9"/>
<rect x="1349.36" y="394.3" width="21.57" height="43" fill="#86b9d3"/>
<rect x="1373.43" y="394.3" width="21.57" height="43" fill="#f8c9b5"/>
<rect x="1397.5" y="394.3" width="21.57" height="43" fill="#aecfe1"/>
<rect x="1421.57" y="394.3" width="21.57" height="43" fill="#a0c9dc"/>
<rect x="1445.64" y="394.3" width="21.57" height="43" fill="#86b9d3"/>
<rect x="1469.71" y="394.3" width="21.57" height="43" fill="#cfe0ea"/>
<rect x="1493.78" y="394.3" width="21.57" height="43" fill="#efeef0"/>
<rect x="1517.85" y="394.3" width="21.57" height="43" fill="#c5dbe7"/>
<rect x="1541.92" y="394.3" width="21.57" height="43" fill="#d7e3eb"/>
<rect x="1565.99" y="394.3" width="21.57" height="43" fill="#cfe0ea"/>
<rect x="73.65" y="440.3" width="21.57" height="43.8" fill="#dbe5ec"/>
<rect x="97.72" y="440.3" width="21.57" height="43.8" fill="#cfe0ea"/>
<rect x="121.79" y="440.3" width="21.57" height="43.8" fill="#dbe5ec"/>
<rect x="145.86" y="440.3" width="21.57" height="43.8" fill="#f9d3c2"/>
<rect x="169.93" y="440.3" width="21.57" height="43.8" fill="#c5dbe7"/>
<rect x="194" y="440.3" width="21.57" height="43.8" fill="#aecfe1"/>
<rect x="218.07" y="440.3" width="21.57" height="43.8" fill="#aecfe1"/>
<rect x="242.14" y="440.3" width="21.57" height="43.8" fill="#cfe0ea"/>
<rect x="266.21" y="440.3" width="21.57" height="43.8" fill="#c5dbe7"/>
<rect x="290.28" y="440.3" width="21.57" height="43.8" fill="#f2ecea"/>
<rect x="314.35" y="440.3" width="21.57" height="43.8" fill="#f3e5e0"/>
<rect x="338.42" y="440.3" width="21.57" height="43.8" fill="#efeef0"/>
<rect x="362.49" y="440.3" width="21.57" height="43.8" fill="#f3e5e0"/>
<rect x="386.56" y="440.3" width="21.57" height="43.8" fill="#f8c9b5"/>
<rect x="410.63" y="440.3" width="21.57" height="43.8" fill="#f2ecea"/>
<rect x="434.7" y="440.3" width="21.57" height="43.8" fill="#cfe0ea"/>
<rect x="458.77" y="440.3" width="21.57" height="43.8" fill="#8fbed7"/>
<rect x="482.84" y="440.3" width="21.57" height="43.8" fill="#6fa8c9"/>
<rect x="506.91" y="440.3" width="21.57" height="43.8" fill="#f7ddd2"/>
<rect x="530.98" y="440.3" width="21.57" height="43.8" fill="#a0c9dc"/>
<rect x="555.05" y="440.3" width="21.57" height="43.8" fill="#efeef0"/>
<rect x="579.12" y="440.3" width="21.57" height="43.8" fill="#dbe5ec"/>
<rect x="603.19" y="440.3" width="21.57" height="43.8" fill="#aecfe1"/>
<rect x="627.26" y="440.3" width="21.57" height="43.8" fill="#aecfe1"/>
<rect x="651.33" y="440.3" width="21.57" height="43.8" fill="#8fbed7"/>
<rect x="675.4" y="440.3" width="21.57" height="43.8" fill="#aecfe1"/>
<rect x="699.47" y="440.3" width="21.57" height="43.8" fill="#cfe0ea"/>
<rect x="723.54" y="440.3" width="21.57" height="43.8" fill="#efeef0"/>
<rect x="747.61" y="440.3" width="21.57" height="43.8" fill="#efeef0"/>
<rect x="771.68" y="440.3" width="21.57" height="43.8" fill="#cfe0ea"/>
<rect x="795.75" y="440.3" width="21.57" height="43.8" fill="#cfe0ea"/>
<rect x="819.82" y="440.3" width="21.57" height="43.8" fill="#aecfe1"/>
<rect x="843.89" y="440.3" width="21.57" height="43.8" fill="#d7e3eb"/>
<rect x="867.96" y="440.3" width="21.57" height="43.8" fill="#d7e3eb"/>
<rect x="892.03" y="440.3" width="21.57" height="43.8" fill="#cfe0ea"/>
<rect x="916.1" y="440.3" width="21.57" height="43.8" fill="#f3e5e0"/>
<rect x="940.17" y="440.3" width="21.57" height="43.8" fill="#d7e3eb"/>
<rect x="964.24" y="440.3" width="21.57" height="43.8" fill="#d7e3eb"/>
<rect x="988.31" y="440.3" width="21.57" height="43.8" fill="#d7e3eb"/>
<rect x="1012.38" y="440.3" width="21.57" height="43.8" fill="#cadee8"/>
<rect x="1036.45" y="440.3" width="21.57" height="43.8" fill="#dbe5ec"/>
<rect x="1060.52" y="440.3" width="21.57" height="43.8" fill="#f2ecea"/>
<rect x="1084.59" y="440.3" width="21.57" height="43.8" fill="#cfe0ea"/>
<rect x="1108.66" y="440.3" width="21.57" height="43.8" fill="#bad6e3"/>
<rect x="1132.73" y="440.3" width="21.57" height="43.8" fill="#cfe0ea"/>
<rect x="1156.8" y="440.3" width="21.57" height="43.8" fill="#cadee8"/>
<rect x="1180.87" y="440.3" width="21.57" height="43.8" fill="#cfe0ea"/>
<rect x="1204.94" y="440.3" width="21.57" height="43.8" fill="#cfe0ea"/>
<rect x="1229.01" y="440.3" width="21.57" height="43.8" fill="#cfe0ea"/>
<rect x="1253.08" y="440.3" width="21.57" height="43.8" fill="#cfe0ea"/>
<rect x="1277.15" y="440.3" width="21.57" height="43.8" fill="#c5dbe7"/>
<rect x="1301.22" y="440.3" width="21.57" height="43.8" fill="#d7e3eb"/>
<rect x="1325.29" y="440.3" width="21.57" height="43.8" fill="#c5dbe7"/>
<rect x="1349.36" y="440.3" width="21.57" height="43.8" fill="#c5dbe7"/>
<rect x="1373.43" y="440.3" width="21.57" height="43.8" fill="#3f7faf"/>
<rect x="1397.5" y="440.3" width="21.57" height="43.8" fill="#e3e9ed"/>
<rect x="1421.57" y="440.3" width="21.57" height="43.8" fill="#a0c9dc"/>
<rect x="1445.64" y="440.3" width="21.57" height="43.8" fill="#bad6e3"/>
<rect x="1469.71" y="440.3" width="21.57" height="43.8" fill="#cfe0ea"/>
<rect x="1493.78" y="440.3" width="21.57" height="43.8" fill="#f8c9b5"/>
<rect x="1517.85" y="440.3" width="21.57" height="43.8" fill="#e3e9ed"/>
<rect x="1541.92" y="440.3" width="21.57" height="43.8" fill="#d7e3eb"/>
<rect x="1565.99" y="440.3" width="21.57" height="43.8" fill="#c5dbe7"/>
<rect x="71.15" y="492.4" width="1518.91" height="95" fill="#97999c"/>
<rect x="73.65" y="495.4" width="21.57" height="43" fill="#86b9d3"/>
<rect x="97.72" y="495.4" width="21.57" height="43" fill="#e8917a"/>
<rect x="121.79" y="495.4" width="21.57" height="43" fill="#dbe5ec"/>
<rect x="145.86" y="495.4" width="21.57" height="43" fill="#f9d3c2"/>
<rect x="169.93" y="495.4" width="21.57" height="43" fill="#e3e9ed"/>
<rect x="194" y="495.4" width="21.57" height="43" fill="#dbe5ec"/>
<rect x="218.07" y="495.4" width="21.57" height="43" fill="#c5dbe7"/>
<rect x="242.14" y="495.4" width="21.57" height="43" fill="#f2ecea"/>
<rect x="266.21" y="495.4" width="21.57" height="43" fill="#f2ecea"/>
<rect x="290.28" y="495.4" width="21.57" height="43" fill="#e3e9ed"/>
<rect x="314.35" y="495.4" width="21.57" height="43" fill="#efeef0"/>
<rect x="338.42" y="495.4" width="21.57" height="43" fill="#efeef0"/>
<rect x="362.49" y="495.4" width="21.57" height="43" fill="#f2ecea"/>
<rect x="386.56" y="495.4" width="21.57" height="43" fill="#e3e9ed"/>
<rect x="410.63" y="495.4" width="21.57" height="43" fill="#f3e5e0"/>
<rect x="434.7" y="495.4" width="21.57" height="43" fill="#dbe5ec"/>
<rect x="458.77" y="495.4" width="21.57" height="43" fill="#f9d3c2"/>
<rect x="482.84" y="495.4" width="21.57" height="43" fill="#78afcd"/>
<rect x="506.91" y="495.4" width="21.57" height="43" fill="#93c1d9"/>
<rect x="530.98" y="495.4" width="21.57" height="43" fill="#a0c9dc"/>
<rect x="555.05" y="495.4" width="21.57" height="43" fill="#a9cddf"/>
<rect x="579.12" y="495.4" width="21.57" height="43" fill="#f8d6c7"/>
<rect x="603.19" y="495.4" width="21.57" height="43" fill="#f8dacd"/>
<rect x="627.26" y="495.4" width="21.57" height="43" fill="#a9cddf"/>
<rect x="651.33" y="495.4" width="21.57" height="43" fill="#efa791"/>
<rect x="675.4" y="495.4" width="21.57" height="43" fill="#cfe0ea"/>
<rect x="699.47" y="495.4" width="21.57" height="43" fill="#f2ecea"/>
<rect x="723.54" y="495.4" width="21.57" height="43" fill="#c5dbe7"/>
<rect x="747.61" y="495.4" width="21.57" height="43" fill="#a9cddf"/>
<rect x="771.68" y="495.4" width="21.57" height="43" fill="#f5bba6"/>
<rect x="795.75" y="495.4" width="21.57" height="43" fill="#f7c4b0"/>
<rect x="819.82" y="495.4" width="21.57" height="43" fill="#e08471"/>
<rect x="843.89" y="495.4" width="21.57" height="43" fill="#5595bd"/>
<rect x="867.96" y="495.4" width="21.57" height="43" fill="#cadee8"/>
<rect x="892.03" y="495.4" width="21.57" height="43" fill="#dbe5ec"/>
<rect x="916.1" y="495.4" width="21.57" height="43" fill="#cadee8"/>
<rect x="940.17" y="495.4" width="21.57" height="43" fill="#bad6e3"/>
<rect x="964.24" y="495.4" width="21.57" height="43" fill="#cfe0ea"/>
<rect x="988.31" y="495.4" width="21.57" height="43" fill="#d7e3eb"/>
<rect x="1012.38" y="495.4" width="21.57" height="43" fill="#f6c0ab"/>
<rect x="1036.45" y="495.4" width="21.57" height="43" fill="#e3e9ed"/>
<rect x="1060.52" y="495.4" width="21.57" height="43" fill="#e3e9ed"/>
<rect x="1084.59" y="495.4" width="21.57" height="43" fill="#f6c0ab"/>
<rect x="1108.66" y="495.4" width="21.57" height="43" fill="#f2b09a"/>
<rect x="1132.73" y="495.4" width="21.57" height="43" fill="#f6c0ab"/>
<rect x="1156.8" y="495.4" width="21.57" height="43" fill="#cc635a"/>
<rect x="1180.87" y="495.4" width="21.57" height="43" fill="#f8d6c7"/>
<rect x="1204.94" y="495.4" width="21.57" height="43" fill="#eda28b"/>
<rect x="1229.01" y="495.4" width="21.57" height="43" fill="#f8d6c7"/>
<rect x="1253.08" y="495.4" width="21.57" height="43" fill="#e08471"/>
<rect x="1277.15" y="495.4" width="21.57" height="43" fill="#f3e5e0"/>
<rect x="1301.22" y="495.4" width="21.57" height="43" fill="#d7e3eb"/>
<rect x="1325.29" y="495.4" width="21.57" height="43" fill="#efa791"/>
<rect x="1349.36" y="495.4" width="21.57" height="43" fill="#f2b09a"/>
<rect x="1373.43" y="495.4" width="21.57" height="43" fill="#f9d0be"/>
<rect x="1397.5" y="495.4" width="21.57" height="43" fill="#bb4a4a"/>
<rect x="1421.57" y="495.4" width="21.57" height="43" fill="#f2b09a"/>
<rect x="1445.64" y="495.4" width="21.57" height="43" fill="#f0ac96"/>
<rect x="1469.71" y="495.4" width="21.57" height="43" fill="#cfe0ea"/>
<rect x="1493.78" y="495.4" width="21.57" height="43" fill="#b13942"/>
<rect x="1517.85" y="495.4" width="21.57" height="43" fill="#ab2e3c"/>
<rect x="1541.92" y="495.4" width="21.57" height="43" fill="#d7e3eb"/>
<rect x="1565.99" y="495.4" width="21.57" height="43" fill="#d7e3eb"/>
<rect x="73.65" y="541.4" width="21.57" height="43" fill="#93c1d9"/>
<rect x="97.72" y="541.4" width="21.57" height="43" fill="#88202c"/>
<rect x="121.79" y="541.4" width="21.57" height="43" fill="#621423"/>
<rect x="145.86" y="541.4" width="21.57" height="43" fill="#86b9d3"/>
<rect x="169.93" y="541.4" width="21.57" height="43" fill="#f6e0d7"/>
<rect x="194" y="541.4" width="21.57" height="43" fill="#e3e9ed"/>
<rect x="218.07" y="541.4" width="21.57" height="43" fill="#efa791"/>
<rect x="242.14" y="541.4" width="21.57" height="43" fill="#efa791"/>
<rect x="266.21" y="541.4" width="21.57" height="43" fill="#ec9c86"/>
<rect x="290.28" y="541.4" width="21.57" height="43" fill="#88202c"/>
<rect x="314.35" y="541.4" width="21.57" height="43" fill="#bad6e3"/>
<rect x="338.42" y="541.4" width="21.57" height="43" fill="#f2ecea"/>
<rect x="362.49" y="541.4" width="21.57" height="43" fill="#f9d3c2"/>
<rect x="386.56" y="541.4" width="21.57" height="43" fill="#78afcd"/>
<rect x="410.63" y="541.4" width="21.57" height="43" fill="#a22a36"/>
<rect x="434.7" y="541.4" width="21.57" height="43" fill="#ec9c86"/>
<rect x="458.77" y="541.4" width="21.57" height="43" fill="#d87868"/>
<rect x="482.84" y="541.4" width="21.57" height="43" fill="#bb4a4a"/>
<rect x="506.91" y="541.4" width="21.57" height="43" fill="#f3e5e0"/>
<rect x="530.98" y="541.4" width="21.57" height="43" fill="#7a1e2a"/>
<rect x="555.05" y="541.4" width="21.57" height="43" fill="#f2ecea"/>
<rect x="579.12" y="541.4" width="21.57" height="43" fill="#78afcd"/>
<rect x="603.19" y="541.4" width="21.57" height="43" fill="#e08471"/>
<rect x="627.26" y="541.4" width="21.57" height="43" fill="#b53f44"/>
<rect x="651.33" y="541.4" width="21.57" height="43" fill="#95232d"/>
<rect x="675.4" y="541.4" width="21.57" height="43" fill="#aecfe1"/>
<rect x="699.47" y="541.4" width="21.57" height="43" fill="#621423"/>
<rect x="723.54" y="541.4" width="21.57" height="43" fill="#f5bba6"/>
<rect x="747.61" y="541.4" width="21.57" height="43" fill="#f2b09a"/>
<rect x="771.68" y="541.4" width="21.57" height="43" fill="#6b1825"/>
<rect x="795.75" y="541.4" width="21.57" height="43" fill="#6b1825"/>
<rect x="819.82" y="541.4" width="21.57" height="43" fill="#9e2733"/>
<rect x="843.89" y="541.4" width="21.57" height="43" fill="#95232d"/>
<rect x="867.96" y="541.4" width="21.57" height="43" fill="#621423"/>
<rect x="892.03" y="541.4" width="21.57" height="43" fill="#621423"/>
<rect x="916.1" y="541.4" width="21.57" height="43" fill="#6b1825"/>
<rect x="940.17" y="541.4" width="21.57" height="43" fill="#621423"/>
<rect x="964.24" y="541.4" width="21.57" height="43" fill="#6b1825"/>
<rect x="988.31" y="541.4" width="21.57" height="43" fill="#621423"/>
<rect x="1012.38" y="541.4" width="21.57" height="43" fill="#6b1825"/>
<rect x="1036.45" y="541.4" width="21.57" height="43" fill="#621423"/>
<rect x="1060.52" y="541.4" width="21.57" height="43" fill="#86b9d3"/>
<rect x="1084.59" y="541.4" width="21.57" height="43" fill="#6b1825"/>
<rect x="1108.66" y="541.4" width="21.57" height="43" fill="#ab2e3c"/>
<rect x="1132.73" y="541.4" width="21.57" height="43" fill="#6b1825"/>
<rect x="1156.8" y="541.4" width="21.57" height="43" fill="#b13942"/>
<rect x="1180.87" y="541.4" width="21.57" height="43" fill="#621423"/>
<rect x="1204.94" y="541.4" width="21.57" height="43" fill="#811f2b"/>
<rect x="1229.01" y="541.4" width="21.57" height="43" fill="#621423"/>
<rect x="1253.08" y="541.4" width="21.57" height="43" fill="#a22a36"/>
<rect x="1277.15" y="541.4" width="21.57" height="43" fill="#621423"/>
<rect x="1301.22" y="541.4" width="21.57" height="43" fill="#621423"/>
<rect x="1325.29" y="541.4" width="21.57" height="43" fill="#a22a36"/>
<rect x="1349.36" y="541.4" width="21.57" height="43" fill="#a22a36"/>
<rect x="1373.43" y="541.4" width="21.57" height="43" fill="#d87868"/>
<rect x="1397.5" y="541.4" width="21.57" height="43" fill="#c85d56"/>
<rect x="1421.57" y="541.4" width="21.57" height="43" fill="#a22a36"/>
<rect x="1445.64" y="541.4" width="21.57" height="43" fill="#e08471"/>
<rect x="1469.71" y="541.4" width="21.57" height="43" fill="#cfe0ea"/>
<rect x="1493.78" y="541.4" width="21.57" height="43" fill="#f2ecea"/>
<rect x="1517.85" y="541.4" width="21.57" height="43" fill="#f6c0ab"/>
<rect x="1541.92" y="541.4" width="21.57" height="43" fill="#d7e3eb"/>
<rect x="1565.99" y="541.4" width="21.57" height="43" fill="#cfe0ea"/>
</g>
<g id="a-rowlab" font-size="20.3" stroke="#231f20" stroke-width="0.3">
<text x="1596.3" y="139">SEEP−30m</text>
<text x="1596.3" y="185">SEEP−65m</text>
<text x="1596.3" y="231">SEEP−100m</text>
<text x="1596.3" y="285.3">SEEP−200m</text>
<text x="1596.3" y="331.3">SEEP−600m</text>
<text x="1596.3" y="377.3">SEEP−800m</text>
<text x="1596.3" y="423.3">SEEP−1000m</text>
<text x="1596.3" y="469.3">SEEP−1100m</text>
<text x="1596.3" y="524.4">BWI−50cm</text>
<text x="1596.3" y="570.4">BWI-0</text>
</g>
<g id="a-collab" font-size="15.3" text-anchor="end" stroke="#231f20" stroke-width="0.3">
<text transform="translate(87.73 596.4) rotate(-45)">rbcL</text>
<text transform="translate(111.81 596.4) rotate(-45)">aclA</text>
<text transform="translate(138.07 596.4) rotate(-45)">acsA</text>
<text transform="translate(157.05 596.4) rotate(-45)">4hbl</text>
<text transform="translate(180.52 596.4) rotate(-45)">adh</text>
<text transform="translate(208.78 596.4) rotate(-45)">fdhF</text>
<text transform="translate(229.76 596.4) rotate(-45)">ldh</text>
<text transform="translate(256.43 596.4) rotate(-45)">coxS</text>
<text transform="translate(285.3 596.4) rotate(-45)">cosM</text>
<text transform="translate(311.17 596.4) rotate(-45)">endoglucanase</text>
<text transform="translate(331.53 596.4) rotate(-45)">chitinase</text>
<text transform="translate(356.21 596.4) rotate(-45)">polygalacturonase</text>
<text transform="translate(380.27 596.4) rotate(-45)">pepP</text>
<text transform="translate(404.65 596.4) rotate(-45)">pepA</text>
<text transform="translate(428.41 596.4) rotate(-45)">pepN</text>
<text transform="translate(446.99 596.4) rotate(-45)">ggt</text>
<text transform="translate(475.66 596.4) rotate(-45)">pepF</text>
<text transform="translate(493.62 596.4) rotate(-45)">dpp</text>
<text transform="translate(523.8 596.4) rotate(-45)">apeh</text>
<text transform="translate(548.16 596.4) rotate(-45)">pepT</text>
<text transform="translate(575.54 596.4) rotate(-45)">dmpA</text>
<text transform="translate(592.7 596.4) rotate(-45)">map</text>
<text transform="translate(617.27 596.4) rotate(-45)">amidohydrolase</text>
<text transform="translate(643.34 596.4) rotate(-45)">hipO</text>
<text transform="translate(668.51 596.4) rotate(-45)">fwdA</text>
<text transform="translate(691.28 596.4) rotate(-45)">mtrA</text>
<text transform="translate(717.25 596.4) rotate(-45)">cdhC</text>
<text transform="translate(744.22 596.4) rotate(-45)">comD</text>
<text transform="translate(768.5 596.4) rotate(-45)">comA</text>
<text transform="translate(795.67 596.4) rotate(-45)">mmoX</text>
<text transform="translate(813.83 596.4) rotate(-45)">mdh1</text>
<text transform="translate(835.21 596.4) rotate(-45)">xoxF</text>
<text transform="translate(857.47 596.4) rotate(-45)">mdh</text>
<text transform="translate(885.75 596.4) rotate(-45)">hoxH</text>
<text transform="translate(908.91 596.4) rotate(-45)">hydB</text>
<text transform="translate(931.49 596.4) rotate(-45)">ferredoxin hydorgenase</text>
<text transform="translate(958.46 596.4) rotate(-45)">hydB_quinone reactive</text>
<text transform="translate(989.32 596.4) rotate(-45)">hyaBC</text>
<text transform="translate(1006.1 596.4) rotate(-45)">vhoA</text>
<text transform="translate(1029.57 596.4) rotate(-45)">hydA</text>
<text transform="translate(1053.64 596.4) rotate(-45)">hupV</text>
<text transform="translate(1072.81 596.4) rotate(-45)">nirK</text>
<text transform="translate(1096.47 596.4) rotate(-45)">nirS</text>
<text transform="translate(1125.55 596.4) rotate(-45)">narG</text>
<text transform="translate(1151.22 596.4) rotate(-45)">napA</text>
<text transform="translate(1168.09 596.4) rotate(-45)">nirB</text>
<text transform="translate(1193.76 596.4) rotate(-45)">nrfA</text>
<text transform="translate(1220.33 596.4) rotate(-45)">norB</text>
<text transform="translate(1244.89 596.4) rotate(-45)">nosZ</text>
<text transform="translate(1264.77 596.4) rotate(-45)">nifD</text>
<text transform="translate(1287.74 596.4) rotate(-45)">hao</text>
<text transform="translate(1312.91 596.4) rotate(-45)">hydrazine synthase</text>
<text transform="translate(1340.28 596.4) rotate(-45)">dsrA</text>
<text transform="translate(1363.95 596.4) rotate(-45)">dsrB</text>
<text transform="translate(1389.32 596.4) rotate(-45)">aprA</text>
<text transform="translate(1414.19 596.4) rotate(-45)">soxB</text>
<text transform="translate(1438.65 596.4) rotate(-45)">soxC</text>
<text transform="translate(1466.43 596.4) rotate(-45)">dmdA</text>
<text transform="translate(1490.8 596.4) rotate(-45)">dmoA</text>
<text transform="translate(1511.16 596.4) rotate(-45)">flagB</text>
<text transform="translate(1531.94 596.4) rotate(-45)">fliH</text>
<text transform="translate(1559.11 596.4) rotate(-45)">psbA</text>
<text transform="translate(1582.48 596.4) rotate(-45)">psbL</text>
</g>
<g id="a-cb">
<rect x="1742.2" y="115.9" width="25.7" height="5.56" fill="#611423"/>
<rect x="1742.2" y="121.16" width="25.7" height="5.56" fill="#6c1825"/>
<rect x="1742.2" y="126.43" width="25.7" height="5.56" fill="#741c28"/>
<rect x="1742.2" y="131.69" width="25.7" height="5.56" fill="#7f1f2b"/>
<rect x="1742.2" y="136.96" width="25.7" height="5.56" fill="#8f222c"/>
<rect x="1742.2" y="142.22" width="25.7" height="5.56" fill="#9b2631"/>
<rect x="1742.2" y="147.48" width="25.7" height="5.56" fill="#a52b38"/>
<rect x="1742.2" y="152.75" width="25.7" height="5.56" fill="#ae333f"/>
<rect x="1742.2" y="158.01" width="25.7" height="5.56" fill="#b54045"/>
<rect x="1742.2" y="163.28" width="25.7" height="5.56" fill="#bd4d4c"/>
<rect x="1742.2" y="168.54" width="25.7" height="5.56" fill="#c75c55"/>
<rect x="1742.2" y="173.8" width="25.7" height="5.56" fill="#cf695e"/>
<rect x="1742.2" y="179.07" width="25.7" height="5.56" fill="#d67566"/>
<rect x="1742.2" y="184.33" width="25.7" height="5.56" fill="#df8370"/>
<rect x="1742.2" y="189.6" width="25.7" height="5.56" fill="#e8917a"/>
<rect x="1742.2" y="194.86" width="25.7" height="5.56" fill="#ec9d87"/>
<rect x="1742.2" y="200.12" width="25.7" height="5.56" fill="#f0a993"/>
<rect x="1742.2" y="205.39" width="25.7" height="5.56" fill="#f3b59f"/>
<rect x="1742.2" y="210.65" width="25.7" height="5.56" fill="#f6c0ac"/>
<rect x="1742.2" y="215.92" width="25.7" height="5.56" fill="#f8cab7"/>
<rect x="1742.2" y="221.18" width="25.7" height="5.56" fill="#f9d2c1"/>
<rect x="1742.2" y="226.44" width="25.7" height="5.56" fill="#f8dacd"/>
<rect x="1742.2" y="231.71" width="25.7" height="5.56" fill="#f5e0d8"/>
<rect x="1742.2" y="236.97" width="25.7" height="5.56" fill="#f3e7e3"/>
<rect x="1742.2" y="242.24" width="25.7" height="5.56" fill="#f1eded"/>
<rect x="1742.2" y="247.5" width="25.7" height="5.56" fill="#eaecef"/>
<rect x="1742.2" y="252.76" width="25.7" height="5.56" fill="#e1e8ed"/>
<rect x="1742.2" y="258.03" width="25.7" height="5.56" fill="#d8e4ec"/>
<rect x="1742.2" y="263.29" width="25.7" height="5.56" fill="#cfe0ea"/>
<rect x="1742.2" y="268.56" width="25.7" height="5.56" fill="#c3dae6"/>
<rect x="1742.2" y="273.82" width="25.7" height="5.56" fill="#b6d4e2"/>
<rect x="1742.2" y="279.08" width="25.7" height="5.56" fill="#aacde0"/>
<rect x="1742.2" y="284.35" width="25.7" height="5.56" fill="#9fc8dc"/>
<rect x="1742.2" y="289.61" width="25.7" height="5.56" fill="#91c0d8"/>
<rect x="1742.2" y="294.88" width="25.7" height="5.56" fill="#87bad4"/>
<rect x="1742.2" y="300.14" width="25.7" height="5.56" fill="#7db2cf"/>
<rect x="1742.2" y="305.4" width="25.7" height="5.56" fill="#72aaca"/>
<rect x="1742.2" y="310.67" width="25.7" height="5.56" fill="#67a2c5"/>
<rect x="1742.2" y="315.93" width="25.7" height="5.56" fill="#5b99c0"/>
<rect x="1742.2" y="321.2" width="25.7" height="5.56" fill="#5191ba"/>
<rect x="1742.2" y="326.46" width="25.7" height="5.56" fill="#4888b5"/>
<rect x="1742.2" y="331.72" width="25.7" height="5.56" fill="#4080b0"/>
<rect x="1742.2" y="336.99" width="25.7" height="5.56" fill="#3c77ab"/>
<rect x="1742.2" y="342.25" width="25.7" height="5.56" fill="#396ea7"/>
<rect x="1742.2" y="347.52" width="25.7" height="5.56" fill="#3666a0"/>
<rect x="1742.2" y="352.78" width="25.7" height="5.56" fill="#325f98"/>
<rect x="1742.2" y="358.04" width="25.7" height="5.56" fill="#2f568e"/>
<rect x="1742.2" y="363.31" width="25.7" height="5.56" fill="#2e4d82"/>
<rect x="1742.2" y="368.57" width="25.7" height="5.56" fill="#2c4475"/>
<rect x="1742.2" y="373.84" width="25.7" height="5.56" fill="#2b3b68"/>
</g>
<g id="a-cblab" font-size="16.5" stroke="#231f20" stroke-width="0.3">
<text x="1777.7" y="161.4">2</text>
<text x="1777.7" y="207.4">1</text>
<text x="1777.7" y="253.8">0</text>
<text x="1777.7" y="299.8">−1</text>
<text x="1777.7" y="345.8">−2</text>
</g>
<g id="b-heat">
<rect x="378.2" y="728.5" width="41.7" height="32.53" fill="#b02d3b"/>
<rect x="378.2" y="760.73" width="41.7" height="32.03" fill="#f6e2da"/>
<rect x="378.2" y="792.45" width="41.7" height="32.03" fill="#cfe0e8"/>
<rect x="378.2" y="824.18" width="41.7" height="32.03" fill="#9dc6da"/>
<rect x="378.2" y="855.91" width="41.7" height="32.03" fill="#6fa8c8"/>
<rect x="378.2" y="887.63" width="41.7" height="32.03" fill="#4a8cb8"/>
<rect x="378.2" y="919.36" width="41.7" height="32.03" fill="#4484b3"/>
<rect x="378.2" y="951.09" width="41.7" height="32.03" fill="#3d78ad"/>
<rect x="378.2" y="982.82" width="41.7" height="32.03" fill="#3a74aa"/>
<rect x="378.2" y="1014.54" width="41.7" height="32.03" fill="#30629f"/>
<rect x="378.2" y="1046.27" width="41.7" height="32.03" fill="#2f619d"/>
<rect x="378.2" y="1078" width="41.7" height="32.03" fill="#2e5f9a"/>
<rect x="378.2" y="1109.72" width="41.7" height="32.03" fill="#2d5c96"/>
<rect x="378.2" y="1141.45" width="41.7" height="32.03" fill="#2c5890"/>
<rect x="378.2" y="1173.18" width="41.7" height="34.13" fill="#2b548b"/>
<path d="M377.8 743.26V746.46M377.8 774.99V778.19M377.8 806.72V809.92M377.8 838.44V841.64M377.8 870.17V873.37M377.8 901.9V905.1M377.8 933.63V936.83M377.8 965.35V968.55M377.8 997.08V1000.28M377.8 1028.81V1032.01M377.8 1060.53V1063.73M377.8 1092.26V1095.46M377.8 1123.99V1127.19M377.8 1155.71V1158.91M377.8 1187.44V1190.64" fill="none" stroke="#b3b5b7" stroke-width="1.6"/>
<rect x="429.2" y="729" width="1012.97" height="475.9" fill="#fdf0f4"/>
<path d="M568.92 729H603.85L568.92 760.73Z" fill="#7ba8ca"/>
<path d="M603.85 729V760.73H568.92Z" fill="#9ab3d4"/>
<path d="M603.85 729H638.78L603.85 760.73Z" fill="#2f7cb0"/>
<path d="M638.78 729V760.73H603.85Z" fill="#7ba8ca"/>
<path d="M813.43 729H848.36L813.43 760.73Z" fill="#3f8ab5"/>
<path d="M848.36 729V760.73H813.43Z" fill="#7ba8ca"/>
<path d="M848.36 729H883.29L848.36 760.73Z" fill="#2f7cb0"/>
<path d="M883.29 729V760.73H848.36Z" fill="#3f8ab5"/>
<path d="M883.29 729H918.22L883.29 760.73Z" fill="#7ba8ca"/>
<path d="M918.22 729V760.73H883.29Z" fill="#ebe5f0"/>
<path d="M918.22 729H953.15L918.22 760.73Z" fill="#25537c"/>
<path d="M953.15 729V760.73H918.22Z" fill="#ebe5f0"/>
<path d="M953.15 729H988.08L953.15 760.73Z" fill="#25537c"/>
<path d="M988.08 729V760.73H953.15Z" fill="#ebe5f0"/>
<path d="M988.08 729H1023.01L988.08 760.73Z" fill="#25537c"/>
<path d="M1023.01 729V760.73H988.08Z" fill="#5a98bf"/>
<path d="M1023.01 729H1057.94L1023.01 760.73Z" fill="#7ba8ca"/>
<path d="M1057.94 729V760.73H1023.01Z" fill="#ebe5f0"/>
<path d="M1092.87 729H1127.8L1092.87 760.73Z" fill="#3f8ab5"/>
<path d="M1127.8 729V760.73H1092.87Z" fill="#9ab3d4"/>
<path d="M1127.8 729H1162.73L1127.8 760.73Z" fill="#bcc4de"/>
<path d="M1162.73 729V760.73H1127.8Z" fill="#ebe5f0"/>
<path d="M1162.73 729H1197.66L1162.73 760.73Z" fill="#3f8ab5"/>
<path d="M1197.66 729V760.73H1162.73Z" fill="#ebe5f0"/>
<path d="M429.2 760.73H464.13L429.2 792.45Z" fill="#25537c"/>
<path d="M464.13 760.73V792.45H429.2Z" fill="#3f8ab5"/>
<path d="M568.92 760.73H603.85L568.92 792.45Z" fill="#7ba8ca"/>
<path d="M603.85 760.73V792.45H568.92Z" fill="#7ba8ca"/>
<path d="M603.85 760.73H638.78L603.85 792.45Z" fill="#2f7cb0"/>
<path d="M638.78 760.73V792.45H603.85Z" fill="#7ba8ca"/>
<path d="M778.5 760.73H813.43L778.5 792.45Z" fill="#d6d6e8"/>
<path d="M813.43 760.73V792.45H778.5Z" fill="#ebe5f0"/>
<path d="M813.43 760.73H848.36L813.43 792.45Z" fill="#25537c"/>
<path d="M848.36 760.73V792.45H813.43Z" fill="#2f7cb0"/>
<path d="M848.36 760.73H883.29L848.36 792.45Z" fill="#25537c"/>
<path d="M883.29 760.73V792.45H848.36Z" fill="#2f7cb0"/>
<path d="M883.29 760.73H918.22L883.29 792.45Z" fill="#7ba8ca"/>
<path d="M918.22 760.73V792.45H883.29Z" fill="#9ab3d4"/>
<path d="M918.22 760.73H953.15L918.22 792.45Z" fill="#25537c"/>
<path d="M953.15 760.73V792.45H918.22Z" fill="#9ab3d4"/>
<path d="M953.15 760.73H988.08L953.15 792.45Z" fill="#25537c"/>
<path d="M988.08 760.73V792.45H953.15Z" fill="#25537c"/>
<path d="M988.08 760.73H1023.01L988.08 792.45Z" fill="#25537c"/>
<path d="M1023.01 760.73V792.45H988.08Z" fill="#2f7cb0"/>
<path d="M1057.94 760.73H1092.87L1057.94 792.45Z" fill="#25537c"/>
<path d="M1092.87 760.73V792.45H1057.94Z" fill="#ebe5f0"/>
<path d="M1127.8 760.73H1162.73L1127.8 792.45Z" fill="#3f8ab5"/>
<path d="M1162.73 760.73V792.45H1127.8Z" fill="#7ba8ca"/>
<path d="M1162.73 760.73H1197.66L1162.73 792.45Z" fill="#3f8ab5"/>
<path d="M1197.66 760.73V792.45H1162.73Z" fill="#7ba8ca"/>
<path d="M429.2 792.45H464.13L429.2 824.18Z" fill="#25537c"/>
<path d="M464.13 792.45V824.18H429.2Z" fill="#25537c"/>
<path d="M533.99 792.45H568.92L533.99 824.18Z" fill="#25537c"/>
<path d="M568.92 792.45V824.18H533.99Z" fill="#2f7cb0"/>
<path d="M568.92 792.45H603.85L568.92 824.18Z" fill="#25537c"/>
<path d="M603.85 792.45V824.18H568.92Z" fill="#2f7cb0"/>
<path d="M603.85 792.45H638.78L603.85 824.18Z" fill="#7ba8ca"/>
<path d="M638.78 792.45V824.18H603.85Z" fill="#bcc4de"/>
<path d="M673.71 792.45H708.64L673.71 824.18Z" fill="#bcc4de"/>
<path d="M708.64 792.45V824.18H673.71Z" fill="#d6d6e8"/>
<path d="M813.43 792.45H848.36L813.43 824.18Z" fill="#2a6da3"/>
<path d="M848.36 792.45V824.18H813.43Z" fill="#2f7cb0"/>
<path d="M848.36 792.45H883.29L848.36 824.18Z" fill="#5a98bf"/>
<path d="M883.29 792.45V824.18H848.36Z" fill="#7ba8ca"/>
<path d="M883.29 792.45H918.22L883.29 824.18Z" fill="#25537c"/>
<path d="M918.22 792.45V824.18H883.29Z" fill="#9ab3d4"/>
<path d="M918.22 792.45H953.15L918.22 824.18Z" fill="#25537c"/>
<path d="M953.15 792.45V824.18H918.22Z" fill="#7ba8ca"/>
<path d="M953.15 792.45H988.08L953.15 824.18Z" fill="#25537c"/>
<path d="M988.08 792.45V824.18H953.15Z" fill="#2f7cb0"/>
<path d="M1057.94 792.45H1092.87L1057.94 824.18Z" fill="#25537c"/>
<path d="M1092.87 792.45V824.18H1057.94Z" fill="#2f7cb0"/>
<path d="M1092.87 792.45H1127.8L1092.87 824.18Z" fill="#3f8ab5"/>
<path d="M1127.8 792.45V824.18H1092.87Z" fill="#5a98bf"/>
<path d="M1127.8 792.45H1162.73L1127.8 824.18Z" fill="#bcc4de"/>
<path d="M1162.73 792.45V824.18H1127.8Z" fill="#ebe5f0"/>
<path d="M1162.73 792.45H1197.66L1162.73 824.18Z" fill="#3f8ab5"/>
<path d="M1197.66 792.45V824.18H1162.73Z" fill="#3f8ab5"/>
<path d="M1407.24 792.45H1442.17L1407.24 824.18Z" fill="#bcc4de"/>
<path d="M1442.17 792.45V824.18H1407.24Z" fill="#d6d6e8"/>
<path d="M429.2 824.18H464.13L429.2 855.91Z" fill="#25537c"/>
<path d="M464.13 824.18V855.91H429.2Z" fill="#3f8ab5"/>
<path d="M464.13 824.18H499.06L464.13 855.91Z" fill="#25537c"/>
<path d="M499.06 824.18V855.91H464.13Z" fill="#7ba8ca"/>
<path d="M568.92 824.18H603.85L568.92 855.91Z" fill="#2f7cb0"/>
<path d="M603.85 824.18V855.91H568.92Z" fill="#7ba8ca"/>
<path d="M603.85 824.18H638.78L603.85 855.91Z" fill="#3f8ab5"/>
<path d="M638.78 824.18V855.91H603.85Z" fill="#5a98bf"/>
<path d="M673.71 824.18H708.64L673.71 855.91Z" fill="#3f8ab5"/>
<path d="M708.64 824.18V855.91H673.71Z" fill="#bcc4de"/>
<path d="M743.57 824.18H778.5L743.57 855.91Z" fill="#25537c"/>
<path d="M778.5 824.18V855.91H743.57Z" fill="#d6d6e8"/>
<path d="M778.5 824.18H813.43L778.5 855.91Z" fill="#25537c"/>
<path d="M813.43 824.18V855.91H778.5Z" fill="#d6d6e8"/>
<path d="M813.43 824.18H848.36L813.43 855.91Z" fill="#25537c"/>
<path d="M848.36 824.18V855.91H813.43Z" fill="#2f7cb0"/>
<path d="M848.36 824.18H883.29L848.36 855.91Z" fill="#25537c"/>
<path d="M883.29 824.18V855.91H848.36Z" fill="#2a6da3"/>
<path d="M883.29 824.18H918.22L883.29 855.91Z" fill="#25537c"/>
<path d="M918.22 824.18V855.91H883.29Z" fill="#5a98bf"/>
<path d="M918.22 824.18H953.15L918.22 855.91Z" fill="#25537c"/>
<path d="M953.15 824.18V855.91H918.22Z" fill="#3f8ab5"/>
<path d="M953.15 824.18H988.08L953.15 855.91Z" fill="#25537c"/>
<path d="M988.08 824.18V855.91H953.15Z" fill="#2a6da3"/>
<path d="M988.08 824.18H1023.01L988.08 855.91Z" fill="#25537c"/>
<path d="M1023.01 824.18V855.91H988.08Z" fill="#25537c"/>
<path d="M1023.01 824.18H1057.94L1023.01 855.91Z" fill="#25537c"/>
<path d="M1057.94 824.18V855.91H1023.01Z" fill="#9ab3d4"/>
<path d="M1057.94 824.18H1092.87L1057.94 855.91Z" fill="#25537c"/>
<path d="M1092.87 824.18V855.91H1057.94Z" fill="#ebe5f0"/>
<path d="M1092.87 824.18H1127.8L1092.87 855.91Z" fill="#25537c"/>
<path d="M1127.8 824.18V855.91H1092.87Z" fill="#9ab3d4"/>
<path d="M1127.8 824.18H1162.73L1127.8 855.91Z" fill="#25537c"/>
<path d="M1162.73 824.18V855.91H1127.8Z" fill="#ebe5f0"/>
<path d="M1162.73 824.18H1197.66L1162.73 855.91Z" fill="#25537c"/>
<path d="M1197.66 824.18V855.91H1162.73Z" fill="#2f7cb0"/>
<path d="M1197.66 824.18H1232.59L1197.66 855.91Z" fill="#25537c"/>
<path d="M1232.59 824.18V855.91H1197.66Z" fill="#ebe5f0"/>
<path d="M1267.52 824.18H1302.45L1267.52 855.91Z" fill="#bcc4de"/>
<path d="M1302.45 824.18V855.91H1267.52Z" fill="#ebe5f0"/>
<path d="M1302.45 824.18H1337.38L1302.45 855.91Z" fill="#25537c"/>
<path d="M1337.38 824.18V855.91H1302.45Z" fill="#d6d6e8"/>
<path d="M1337.38 824.18H1372.31L1337.38 855.91Z" fill="#25537c"/>
<path d="M1372.31 824.18V855.91H1337.38Z" fill="#9ab3d4"/>
<path d="M429.2 855.91H464.13L429.2 887.63Z" fill="#25537c"/>
<path d="M464.13 855.91V887.63H429.2Z" fill="#d6d6e8"/>
<path d="M568.92 855.91H603.85L568.92 887.63Z" fill="#7ba8ca"/>
<path d="M603.85 855.91V887.63H568.92Z" fill="#bcc4de"/>
<path d="M603.85 855.91H638.78L603.85 887.63Z" fill="#5a98bf"/>
<path d="M638.78 855.91V887.63H603.85Z" fill="#9ab3d4"/>
<path d="M673.71 855.91H708.64L673.71 887.63Z" fill="#bcc4de"/>
<path d="M708.64 855.91V887.63H673.71Z" fill="#d6d6e8"/>
<path d="M778.5 855.91H813.43L778.5 887.63Z" fill="#bcc4de"/>
<path d="M813.43 855.91V887.63H778.5Z" fill="#d6d6e8"/>
<path d="M813.43 855.91H848.36L813.43 887.63Z" fill="#2a6da3"/>
<path d="M848.36 855.91V887.63H813.43Z" fill="#3f8ab5"/>
<path d="M848.36 855.91H883.29L848.36 887.63Z" fill="#25537c"/>
<path d="M883.29 855.91V887.63H848.36Z" fill="#2f7cb0"/>
<path d="M883.29 855.91H918.22L883.29 887.63Z" fill="#7ba8ca"/>
<path d="M918.22 855.91V887.63H883.29Z" fill="#7ba8ca"/>
<path d="M918.22 855.91H953.15L918.22 887.63Z" fill="#25537c"/>
<path d="M953.15 855.91V887.63H918.22Z" fill="#25537c"/>
<path d="M953.15 855.91H988.08L953.15 887.63Z" fill="#25537c"/>
<path d="M988.08 855.91V887.63H953.15Z" fill="#25537c"/>
<path d="M988.08 855.91H1023.01L988.08 887.63Z" fill="#25537c"/>
<path d="M1023.01 855.91V887.63H988.08Z" fill="#2f7cb0"/>
<path d="M1023.01 855.91H1057.94L1023.01 887.63Z" fill="#7ba8ca"/>
<path d="M1057.94 855.91V887.63H1023.01Z" fill="#bcc4de"/>
<path d="M1127.8 855.91H1162.73L1127.8 887.63Z" fill="#3f8ab5"/>
<path d="M1162.73 855.91V887.63H1127.8Z" fill="#5a98bf"/>
<path d="M1162.73 855.91H1197.66L1162.73 887.63Z" fill="#25537c"/>
<path d="M1197.66 855.91V887.63H1162.73Z" fill="#2f7cb0"/>
<path d="M568.92 887.63H603.85L568.92 919.36Z" fill="#7ba8ca"/>
<path d="M603.85 887.63V919.36H568.92Z" fill="#9ab3d4"/>
<path d="M603.85 887.63H638.78L603.85 919.36Z" fill="#2f7cb0"/>
<path d="M638.78 887.63V919.36H603.85Z" fill="#5a98bf"/>
<path d="M673.71 887.63H708.64L673.71 919.36Z" fill="#bcc4de"/>
<path d="M708.64 887.63V919.36H673.71Z" fill="#bcc4de"/>
<path d="M813.43 887.63H848.36L813.43 919.36Z" fill="#2a6da3"/>
<path d="M848.36 887.63V919.36H813.43Z" fill="#2f7cb0"/>
<path d="M848.36 887.63H883.29L848.36 919.36Z" fill="#25537c"/>
<path d="M883.29 887.63V919.36H848.36Z" fill="#2f7cb0"/>
<path d="M883.29 887.63H918.22L883.29 919.36Z" fill="#25537c"/>
<path d="M918.22 887.63V919.36H883.29Z" fill="#3f8ab5"/>
<path d="M918.22 887.63H953.15L918.22 919.36Z" fill="#25537c"/>
<path d="M953.15 887.63V919.36H918.22Z" fill="#3f8ab5"/>
<path d="M953.15 887.63H988.08L953.15 919.36Z" fill="#25537c"/>
<path d="M988.08 887.63V919.36H953.15Z" fill="#bcc4de"/>
<path d="M988.08 887.63H1023.01L988.08 919.36Z" fill="#bcc4de"/>
<path d="M1023.01 887.63V919.36H988.08Z" fill="#ebe5f0"/>
<path d="M1023.01 887.63H1057.94L1023.01 919.36Z" fill="#25537c"/>
<path d="M1057.94 887.63V919.36H1023.01Z" fill="#bcc4de"/>
<path d="M1057.94 887.63H1092.87L1057.94 919.36Z" fill="#25537c"/>
<path d="M1092.87 887.63V919.36H1057.94Z" fill="#3f8ab5"/>
<path d="M1092.87 887.63H1127.8L1092.87 919.36Z" fill="#9ab3d4"/>
<path d="M1127.8 887.63V919.36H1092.87Z" fill="#bcc4de"/>
<path d="M1162.73 887.63H1197.66L1162.73 919.36Z" fill="#bcc4de"/>
<path d="M1197.66 887.63V919.36H1162.73Z" fill="#d6d6e8"/>
<path d="M1302.45 887.63H1337.38L1302.45 919.36Z" fill="#bcc4de"/>
<path d="M1337.38 887.63V919.36H1302.45Z" fill="#ebe5f0"/>
<path d="M568.92 919.36H603.85L568.92 951.09Z" fill="#bcc4de"/>
<path d="M603.85 919.36V951.09H568.92Z" fill="#bcc4de"/>
<path d="M603.85 919.36H638.78L603.85 951.09Z" fill="#5a98bf"/>
<path d="M638.78 919.36V951.09H603.85Z" fill="#bcc4de"/>
<path d="M813.43 919.36H848.36L813.43 951.09Z" fill="#9ab3d4"/>
<path d="M848.36 919.36V951.09H813.43Z" fill="#9ab3d4"/>
<path d="M848.36 919.36H883.29L848.36 951.09Z" fill="#3f8ab5"/>
<path d="M883.29 919.36V951.09H848.36Z" fill="#7ba8ca"/>
<path d="M1092.87 919.36H1127.8L1092.87 951.09Z" fill="#bcc4de"/>
<path d="M1127.8 919.36V951.09H1092.87Z" fill="#d6d6e8"/>
<path d="M1162.73 919.36H1197.66L1162.73 951.09Z" fill="#bcc4de"/>
<path d="M1197.66 919.36V951.09H1162.73Z" fill="#d6d6e8"/>
<path d="M429.2 951.09H464.13L429.2 982.82Z" fill="#25537c"/>
<path d="M464.13 951.09V982.82H429.2Z" fill="#7ba8ca"/>
<path d="M568.92 951.09H603.85L568.92 982.82Z" fill="#7ba8ca"/>
<path d="M603.85 951.09V982.82H568.92Z" fill="#9ab3d4"/>
<path d="M603.85 951.09H638.78L603.85 982.82Z" fill="#3f8ab5"/>
<path d="M638.78 951.09V982.82H603.85Z" fill="#3f8ab5"/>
<path d="M778.5 951.09H813.43L778.5 982.82Z" fill="#d6d6e8"/>
<path d="M813.43 951.09V982.82H778.5Z" fill="#d6d6e8"/>
<path d="M813.43 951.09H848.36L813.43 982.82Z" fill="#2a6da3"/>
<path d="M848.36 951.09V982.82H813.43Z" fill="#3f8ab5"/>
<path d="M848.36 951.09H883.29L848.36 982.82Z" fill="#2f7cb0"/>
<path d="M883.29 951.09V982.82H848.36Z" fill="#2f7cb0"/>
<path d="M883.29 951.09H918.22L883.29 982.82Z" fill="#25537c"/>
<path d="M918.22 951.09V982.82H883.29Z" fill="#2f7cb0"/>
<path d="M918.22 951.09H953.15L918.22 982.82Z" fill="#25537c"/>
<path d="M953.15 951.09V982.82H918.22Z" fill="#25537c"/>
<path d="M953.15 951.09H988.08L953.15 982.82Z" fill="#25537c"/>
<path d="M988.08 951.09V982.82H953.15Z" fill="#25537c"/>
<path d="M988.08 951.09H1023.01L988.08 982.82Z" fill="#3f8ab5"/>
<path d="M1023.01 951.09V982.82H988.08Z" fill="#3f8ab5"/>
<path d="M1162.73 951.09H1197.66L1162.73 982.82Z" fill="#25537c"/>
<path d="M1197.66 951.09V982.82H1162.73Z" fill="#3f8ab5"/>
<path d="M429.2 982.82H464.13L429.2 1014.54Z" fill="#25537c"/>
<path d="M464.13 982.82V1014.54H429.2Z" fill="#25537c"/>
<path d="M568.92 982.82H603.85L568.92 1014.54Z" fill="#7ba8ca"/>
<path d="M603.85 982.82V1014.54H568.92Z" fill="#bcc4de"/>
<path d="M603.85 982.82H638.78L603.85 1014.54Z" fill="#3f8ab5"/>
<path d="M638.78 982.82V1014.54H603.85Z" fill="#5a98bf"/>
<path d="M813.43 982.82H848.36L813.43 1014.54Z" fill="#5a98bf"/>
<path d="M848.36 982.82V1014.54H813.43Z" fill="#9ab3d4"/>
<path d="M848.36 982.82H883.29L848.36 1014.54Z" fill="#2f7cb0"/>
<path d="M883.29 982.82V1014.54H848.36Z" fill="#2f7cb0"/>
<path d="M883.29 982.82H918.22L883.29 1014.54Z" fill="#25537c"/>
<path d="M918.22 982.82V1014.54H883.29Z" fill="#2f7cb0"/>
<path d="M918.22 982.82H953.15L918.22 1014.54Z" fill="#25537c"/>
<path d="M953.15 982.82V1014.54H918.22Z" fill="#25537c"/>
<path d="M988.08 982.82H1023.01L988.08 1014.54Z" fill="#3f8ab5"/>
<path d="M1023.01 982.82V1014.54H988.08Z" fill="#bcc4de"/>
<path d="M1092.87 982.82H1127.8L1092.87 1014.54Z" fill="#bcc4de"/>
<path d="M1127.8 982.82V1014.54H1092.87Z" fill="#d6d6e8"/>
<path d="M1162.73 982.82H1197.66L1162.73 1014.54Z" fill="#3f8ab5"/>
<path d="M1197.66 982.82V1014.54H1162.73Z" fill="#9ab3d4"/>
<path d="M1407.24 982.82H1442.17L1407.24 1014.54Z" fill="#bcc4de"/>
<path d="M1442.17 982.82V1014.54H1407.24Z" fill="#ebe5f0"/>
<path d="M568.92 1014.54H603.85L568.92 1046.27Z" fill="#2f7cb0"/>
<path d="M603.85 1014.54V1046.27H568.92Z" fill="#7ba8ca"/>
<path d="M603.85 1014.54H638.78L603.85 1046.27Z" fill="#7ba8ca"/>
<path d="M638.78 1014.54V1046.27H603.85Z" fill="#7ba8ca"/>
<path d="M673.71 1014.54H708.64L673.71 1046.27Z" fill="#3f8ab5"/>
<path d="M708.64 1014.54V1046.27H673.71Z" fill="#7ba8ca"/>
<path d="M708.64 1014.54H743.57L708.64 1046.27Z" fill="#bcc4de"/>
<path d="M743.57 1014.54V1046.27H708.64Z" fill="#d6d6e8"/>
<path d="M813.43 1014.54H848.36L813.43 1046.27Z" fill="#2f7cb0"/>
<path d="M848.36 1014.54V1046.27H813.43Z" fill="#5a98bf"/>
<path d="M848.36 1014.54H883.29L848.36 1046.27Z" fill="#3f8ab5"/>
<path d="M883.29 1014.54V1046.27H848.36Z" fill="#3f8ab5"/>
<path d="M953.15 1014.54H988.08L953.15 1046.27Z" fill="#25537c"/>
<path d="M988.08 1014.54V1046.27H953.15Z" fill="#25537c"/>
<path d="M988.08 1014.54H1023.01L988.08 1046.27Z" fill="#25537c"/>
<path d="M1023.01 1014.54V1046.27H988.08Z" fill="#2f7cb0"/>
<path d="M1057.94 1014.54H1092.87L1057.94 1046.27Z" fill="#25537c"/>
<path d="M1092.87 1014.54V1046.27H1057.94Z" fill="#7ba8ca"/>
<path d="M1092.87 1014.54H1127.8L1092.87 1046.27Z" fill="#3f8ab5"/>
<path d="M1127.8 1014.54V1046.27H1092.87Z" fill="#7ba8ca"/>
<path d="M1127.8 1014.54H1162.73L1127.8 1046.27Z" fill="#25537c"/>
<path d="M1162.73 1014.54V1046.27H1127.8Z" fill="#2f7cb0"/>
<path d="M1162.73 1014.54H1197.66L1162.73 1046.27Z" fill="#bcc4de"/>
<path d="M1197.66 1014.54V1046.27H1162.73Z" fill="#d6d6e8"/>
<path d="M1407.24 1014.54H1442.17L1407.24 1046.27Z" fill="#25537c"/>
<path d="M1442.17 1014.54V1046.27H1407.24Z" fill="#7ba8ca"/>
<path d="M429.2 1046.27H464.13L429.2 1078Z" fill="#25537c"/>
<path d="M464.13 1046.27V1078H429.2Z" fill="#5a98bf"/>
<path d="M568.92 1046.27H603.85L568.92 1078Z" fill="#7ba8ca"/>
<path d="M603.85 1046.27V1078H568.92Z" fill="#7ba8ca"/>
<path d="M603.85 1046.27H638.78L603.85 1078Z" fill="#2f7cb0"/>
<path d="M638.78 1046.27V1078H603.85Z" fill="#5a98bf"/>
<path d="M673.71 1046.27H708.64L673.71 1078Z" fill="#3f8ab5"/>
<path d="M708.64 1046.27V1078H673.71Z" fill="#9ab3d4"/>
<path d="M708.64 1046.27H743.57L708.64 1078Z" fill="#25537c"/>
<path d="M743.57 1046.27V1078H708.64Z" fill="#2f7cb0"/>
<path d="M778.5 1046.27H813.43L778.5 1078Z" fill="#d6d6e8"/>
<path d="M813.43 1046.27V1078H778.5Z" fill="#ebe5f0"/>
<path d="M813.43 1046.27H848.36L813.43 1078Z" fill="#25537c"/>
<path d="M848.36 1046.27V1078H813.43Z" fill="#2a6da3"/>
<path d="M848.36 1046.27H883.29L848.36 1078Z" fill="#25537c"/>
<path d="M883.29 1046.27V1078H848.36Z" fill="#2f7cb0"/>
<path d="M883.29 1046.27H918.22L883.29 1078Z" fill="#25537c"/>
<path d="M918.22 1046.27V1078H883.29Z" fill="#2f7cb0"/>
<path d="M918.22 1046.27H953.15L918.22 1078Z" fill="#25537c"/>
<path d="M953.15 1046.27V1078H918.22Z" fill="#25537c"/>
<path d="M953.15 1046.27H988.08L953.15 1078Z" fill="#25537c"/>
<path d="M988.08 1046.27V1078H953.15Z" fill="#9ab3d4"/>
<path d="M988.08 1046.27H1023.01L988.08 1078Z" fill="#3f8ab5"/>
<path d="M1023.01 1046.27V1078H988.08Z" fill="#d6d6e8"/>
<path d="M1023.01 1046.27H1057.94L1023.01 1078Z" fill="#25537c"/>
<path d="M1057.94 1046.27V1078H1023.01Z" fill="#5a98bf"/>
<path d="M1057.94 1046.27H1092.87L1057.94 1078Z" fill="#25537c"/>
<path d="M1092.87 1046.27V1078H1057.94Z" fill="#9ab3d4"/>
<path d="M1092.87 1046.27H1127.8L1092.87 1078Z" fill="#3f8ab5"/>
<path d="M1127.8 1046.27V1078H1092.87Z" fill="#bcc4de"/>
<path d="M1127.8 1046.27H1162.73L1127.8 1078Z" fill="#bcc4de"/>
<path d="M1162.73 1046.27V1078H1127.8Z" fill="#ebe5f0"/>
<path d="M1162.73 1046.27H1197.66L1162.73 1078Z" fill="#3f8ab5"/>
<path d="M1197.66 1046.27V1078H1162.73Z" fill="#9ab3d4"/>
<path d="M568.92 1078H603.85L568.92 1109.72Z" fill="#7ba8ca"/>
<path d="M603.85 1078V1109.72H568.92Z" fill="#bcc4de"/>
<path d="M603.85 1078H638.78L603.85 1109.72Z" fill="#2f7cb0"/>
<path d="M638.78 1078V1109.72H603.85Z" fill="#7ba8ca"/>
<path d="M673.71 1078H708.64L673.71 1109.72Z" fill="#bcc4de"/>
<path d="M708.64 1078V1109.72H673.71Z" fill="#bcc4de"/>
<path d="M813.43 1078H848.36L813.43 1109.72Z" fill="#2a6da3"/>
<path d="M848.36 1078V1109.72H813.43Z" fill="#3f8ab5"/>
<path d="M848.36 1078H883.29L848.36 1109.72Z" fill="#2f7cb0"/>
<path d="M883.29 1078V1109.72H848.36Z" fill="#3f8ab5"/>
<path d="M883.29 1078H918.22L883.29 1109.72Z" fill="#25537c"/>
<path d="M918.22 1078V1109.72H883.29Z" fill="#7ba8ca"/>
<path d="M918.22 1078H953.15L918.22 1109.72Z" fill="#25537c"/>
<path d="M953.15 1078V1109.72H918.22Z" fill="#2f7cb0"/>
<path d="M1023.01 1078H1057.94L1023.01 1109.72Z" fill="#25537c"/>
<path d="M1057.94 1078V1109.72H1023.01Z" fill="#7ba8ca"/>
<path d="M1092.87 1078H1127.8L1092.87 1109.72Z" fill="#9ab3d4"/>
<path d="M1127.8 1078V1109.72H1092.87Z" fill="#9ab3d4"/>
<path d="M1162.73 1078H1197.66L1162.73 1109.72Z" fill="#3f8ab5"/>
<path d="M1197.66 1078V1109.72H1162.73Z" fill="#7ba8ca"/>
<path d="M1407.24 1078H1442.17L1407.24 1109.72Z" fill="#bcc4de"/>
<path d="M1442.17 1078V1109.72H1407.24Z" fill="#ebe5f0"/>
<path d="M429.2 1109.72H464.13L429.2 1141.45Z" fill="#25537c"/>
<path d="M464.13 1109.72V1141.45H429.2Z" fill="#25537c"/>
<path d="M568.92 1109.72H603.85L568.92 1141.45Z" fill="#7ba8ca"/>
<path d="M603.85 1109.72V1141.45H568.92Z" fill="#7ba8ca"/>
<path d="M603.85 1109.72H638.78L603.85 1141.45Z" fill="#3f8ab5"/>
<path d="M638.78 1109.72V1141.45H603.85Z" fill="#5a98bf"/>
<path d="M673.71 1109.72H708.64L673.71 1141.45Z" fill="#bcc4de"/>
<path d="M708.64 1109.72V1141.45H673.71Z" fill="#bcc4de"/>
<path d="M778.5 1109.72H813.43L778.5 1141.45Z" fill="#d6d6e8"/>
<path d="M813.43 1109.72V1141.45H778.5Z" fill="#ebe5f0"/>
<path d="M813.43 1109.72H848.36L813.43 1141.45Z" fill="#25537c"/>
<path d="M848.36 1109.72V1141.45H813.43Z" fill="#2a6da3"/>
<path d="M848.36 1109.72H883.29L848.36 1141.45Z" fill="#25537c"/>
<path d="M883.29 1109.72V1141.45H848.36Z" fill="#2a6da3"/>
<path d="M883.29 1109.72H918.22L883.29 1141.45Z" fill="#25537c"/>
<path d="M918.22 1109.72V1141.45H883.29Z" fill="#3f8ab5"/>
<path d="M918.22 1109.72H953.15L918.22 1141.45Z" fill="#25537c"/>
<path d="M953.15 1109.72V1141.45H918.22Z" fill="#25537c"/>
<path d="M1023.01 1109.72H1057.94L1023.01 1141.45Z" fill="#25537c"/>
<path d="M1057.94 1109.72V1141.45H1023.01Z" fill="#25537c"/>
<path d="M1057.94 1109.72H1092.87L1057.94 1141.45Z" fill="#7ba8ca"/>
<path d="M1092.87 1109.72V1141.45H1057.94Z" fill="#d6d6e8"/>
<path d="M1092.87 1109.72H1127.8L1092.87 1141.45Z" fill="#bcc4de"/>
<path d="M1127.8 1109.72V1141.45H1092.87Z" fill="#d6d6e8"/>
<path d="M1162.73 1109.72H1197.66L1162.73 1141.45Z" fill="#bcc4de"/>
<path d="M1197.66 1109.72V1141.45H1162.73Z" fill="#d6d6e8"/>
<path d="M429.2 1141.45H464.13L429.2 1173.18Z" fill="#25537c"/>
<path d="M464.13 1141.45V1173.18H429.2Z" fill="#3f8ab5"/>
<path d="M568.92 1141.45H603.85L568.92 1173.18Z" fill="#7ba8ca"/>
<path d="M603.85 1141.45V1173.18H568.92Z" fill="#7ba8ca"/>
<path d="M603.85 1141.45H638.78L603.85 1173.18Z" fill="#7ba8ca"/>
<path d="M638.78 1141.45V1173.18H603.85Z" fill="#7ba8ca"/>
<path d="M778.5 1141.45H813.43L778.5 1173.18Z" fill="#9ab3d4"/>
<path d="M813.43 1141.45V1173.18H778.5Z" fill="#bcc4de"/>
<path d="M813.43 1141.45H848.36L813.43 1173.18Z" fill="#2f7cb0"/>
<path d="M848.36 1141.45V1173.18H813.43Z" fill="#5a98bf"/>
<path d="M848.36 1141.45H883.29L848.36 1173.18Z" fill="#2a6da3"/>
<path d="M883.29 1141.45V1173.18H848.36Z" fill="#2f7cb0"/>
<path d="M883.29 1141.45H918.22L883.29 1173.18Z" fill="#25537c"/>
<path d="M918.22 1141.45V1173.18H883.29Z" fill="#2f7cb0"/>
<path d="M918.22 1141.45H953.15L918.22 1173.18Z" fill="#25537c"/>
<path d="M953.15 1141.45V1173.18H918.22Z" fill="#25537c"/>
<path d="M953.15 1141.45H988.08L953.15 1173.18Z" fill="#25537c"/>
<path d="M988.08 1141.45V1173.18H953.15Z" fill="#25537c"/>
<path d="M988.08 1141.45H1023.01L988.08 1173.18Z" fill="#3f8ab5"/>
<path d="M1023.01 1141.45V1173.18H988.08Z" fill="#5a98bf"/>
<path d="M1127.8 1141.45H1162.73L1127.8 1173.18Z" fill="#3f8ab5"/>
<path d="M1162.73 1141.45V1173.18H1127.8Z" fill="#5a98bf"/>
<path d="M1162.73 1141.45H1197.66L1162.73 1173.18Z" fill="#3f8ab5"/>
<path d="M1197.66 1141.45V1173.18H1162.73Z" fill="#9ab3d4"/>
<path d="M1407.24 1141.45H1442.17L1407.24 1173.18Z" fill="#bcc4de"/>
<path d="M1442.17 1141.45V1173.18H1407.24Z" fill="#ebe5f0"/>
<path d="M568.92 1173.18H603.85L568.92 1204.9Z" fill="#7ba8ca"/>
<path d="M603.85 1173.18V1204.9H568.92Z" fill="#7ba8ca"/>
<path d="M603.85 1173.18H638.78L603.85 1204.9Z" fill="#3f8ab5"/>
<path d="M638.78 1173.18V1204.9H603.85Z" fill="#3f8ab5"/>
<path d="M778.5 1173.18H813.43L778.5 1204.9Z" fill="#9ab3d4"/>
<path d="M813.43 1173.18V1204.9H778.5Z" fill="#9ab3d4"/>
<path d="M813.43 1173.18H848.36L813.43 1204.9Z" fill="#2f7cb0"/>
<path d="M848.36 1173.18V1204.9H813.43Z" fill="#2f7cb0"/>
<path d="M848.36 1173.18H883.29L848.36 1204.9Z" fill="#25537c"/>
<path d="M883.29 1173.18V1204.9H848.36Z" fill="#25537c"/>
<path d="M883.29 1173.18H918.22L883.29 1204.9Z" fill="#7ba8ca"/>
<path d="M918.22 1173.18V1204.9H883.29Z" fill="#7ba8ca"/>
<path d="M988.08 1173.18H1023.01L988.08 1204.9Z" fill="#3f8ab5"/>
<path d="M1023.01 1173.18V1204.9H988.08Z" fill="#3f8ab5"/>
<path d="M1057.94 1173.18H1092.87L1057.94 1204.9Z" fill="#7ba8ca"/>
<path d="M1092.87 1173.18V1204.9H1057.94Z" fill="#7ba8ca"/>
<path d="M1127.8 1173.18H1162.73L1127.8 1204.9Z" fill="#3f8ab5"/>
<path d="M1162.73 1173.18V1204.9H1127.8Z" fill="#3f8ab5"/>
<path d="M1162.73 1173.18H1197.66L1162.73 1204.9Z" fill="#bcc4de"/>
<path d="M1197.66 1173.18V1204.9H1162.73Z" fill="#bcc4de"/>
<path d="M464.13 729V1204.9M499.06 729V1204.9M533.99 729V1204.9M568.92 729V1204.9M603.85 729V1204.9M638.78 729V1204.9M673.71 729V1204.9M708.64 729V1204.9M743.57 729V1204.9M778.5 729V1204.9M813.43 729V1204.9M848.36 729V1204.9M883.29 729V1204.9M918.22 729V1204.9M953.15 729V1204.9M988.08 729V1204.9M1023.01 729V1204.9M1057.94 729V1204.9M1092.87 729V1204.9M1127.8 729V1204.9M1162.73 729V1204.9M1197.66 729V1204.9M1232.59 729V1204.9M1267.52 729V1204.9M1302.45 729V1204.9M1337.38 729V1204.9M1372.31 729V1204.9M1407.24 729V1204.9M429.2 760.73H1442.17M429.2 792.45H1442.17M429.2 824.18H1442.17M429.2 855.91H1442.17M429.2 887.63H1442.17M429.2 919.36H1442.17M429.2 951.09H1442.17M429.2 982.82H1442.17M429.2 1014.54H1442.17M429.2 1046.27H1442.17M429.2 1078H1442.17M429.2 1109.72H1442.17M429.2 1141.45H1442.17M429.2 1173.18H1442.17M429.2 760.73L464.13 729M429.2 792.45L499.06 729M429.2 824.18L533.99 729M429.2 855.91L568.92 729M429.2 887.63L603.85 729M429.2 919.36L638.78 729M429.2 951.09L673.71 729M429.2 982.82L708.64 729M429.2 1014.54L743.57 729M429.2 1046.27L778.5 729M429.2 1078L813.43 729M429.2 1109.72L848.36 729M429.2 1141.45L883.29 729M429.2 1173.18L918.22 729M429.2 1204.9L953.15 729M464.13 1204.9L988.08 729M499.06 1204.9L1023.01 729M533.99 1204.9L1057.94 729M568.92 1204.9L1092.87 729M603.85 1204.9L1127.8 729M638.78 1204.9L1162.73 729M673.71 1204.9L1197.66 729M708.64 1204.9L1232.59 729M743.57 1204.9L1267.52 729M778.5 1204.9L1302.45 729M813.43 1204.9L1337.38 729M848.36 1204.9L1372.31 729M883.29 1204.9L1407.24 729M918.22 1204.9L1442.17 729M953.15 1204.9L1442.17 760.73M988.08 1204.9L1442.17 792.45M1023.01 1204.9L1442.17 824.18M1057.94 1204.9L1442.17 855.91M1092.87 1204.9L1442.17 887.63M1127.8 1204.9L1442.17 919.36M1162.73 1204.9L1442.17 951.09M1197.66 1204.9L1442.17 982.82M1232.59 1204.9L1442.17 1014.54M1267.52 1204.9L1442.17 1046.27M1302.45 1204.9L1442.17 1078M1337.38 1204.9L1442.17 1109.72M1372.31 1204.9L1442.17 1141.45M1407.24 1204.9L1442.17 1173.18" fill="none" stroke="#999b9d" stroke-width="2"/>
<path d="M421.1 729H429.2M421.1 760.73H429.2M421.1 792.45H429.2M421.1 824.18H429.2M421.1 855.91H429.2M421.1 887.63H429.2M421.1 919.36H429.2M421.1 951.09H429.2M421.1 982.82H429.2M421.1 1014.54H429.2M421.1 1046.27H429.2M421.1 1078H429.2M421.1 1109.72H429.2M421.1 1141.45H429.2M421.1 1173.18H429.2" fill="none" stroke="#231f20" stroke-width="2.7"/>
<path d="M429.2 1204.9V1208.2M464.13 1204.9V1208.2M499.06 1204.9V1208.2M533.99 1204.9V1208.2M568.92 1204.9V1208.2M603.85 1204.9V1208.2M638.78 1204.9V1208.2M673.71 1204.9V1208.2M708.64 1204.9V1208.2M743.57 1204.9V1208.2M778.5 1204.9V1208.2M813.43 1204.9V1208.2M848.36 1204.9V1208.2M883.29 1204.9V1208.2M918.22 1204.9V1208.2M953.15 1204.9V1208.2M988.08 1204.9V1208.2M1023.01 1204.9V1208.2M1057.94 1204.9V1208.2M1092.87 1204.9V1208.2M1127.8 1204.9V1208.2M1162.73 1204.9V1208.2M1197.66 1204.9V1208.2M1232.59 1204.9V1208.2M1267.52 1204.9V1208.2M1302.45 1204.9V1208.2M1337.38 1204.9V1208.2M1372.31 1204.9V1208.2M1407.24 1204.9V1208.2M398.75 1206.4V1211.11" fill="none" stroke="#231f20" stroke-width="2.7"/>
<rect x="429.2" y="729" width="1012.97" height="475.9" fill="none" stroke="#231f20" stroke-width="3.1"/>
<rect x="378.2" y="1215" width="41.7" height="32.55" fill="#a82a38"/>
<rect x="378.2" y="1247.25" width="41.7" height="32.05" fill="#c9dde8"/>
<rect x="378.2" y="1279.01" width="41.7" height="32.05" fill="#b5d3e1"/>
<rect x="378.2" y="1310.76" width="41.7" height="32.05" fill="#9cc5d9"/>
<rect x="378.2" y="1342.51" width="41.7" height="32.05" fill="#85b8d1"/>
<rect x="378.2" y="1374.26" width="41.7" height="32.05" fill="#4a8cb8"/>
<rect x="378.2" y="1406.02" width="41.7" height="32.05" fill="#4585b4"/>
<rect x="378.2" y="1437.77" width="41.7" height="32.05" fill="#3d78ad"/>
<rect x="378.2" y="1469.52" width="41.7" height="32.05" fill="#3a72a8"/>
<rect x="378.2" y="1501.28" width="41.7" height="32.05" fill="#3468a3"/>
<rect x="378.2" y="1533.03" width="41.7" height="32.05" fill="#3366a1"/>
<rect x="378.2" y="1564.78" width="41.7" height="32.05" fill="#32639e"/>
<rect x="378.2" y="1596.54" width="41.7" height="32.05" fill="#31609b"/>
<rect x="378.2" y="1628.29" width="41.7" height="32.05" fill="#2f5c96"/>
<rect x="378.2" y="1660.04" width="41.7" height="34.15" fill="#2e5890"/>
<path d="M377.8 1229.78V1232.98M377.8 1261.53V1264.73M377.8 1293.28V1296.48M377.8 1325.04V1328.24M377.8 1356.79V1359.99M377.8 1388.54V1391.74M377.8 1420.29V1423.49M377.8 1452.05V1455.25M377.8 1483.8V1487M377.8 1515.55V1518.75M377.8 1547.31V1550.51M377.8 1579.06V1582.26M377.8 1610.81V1614.01M377.8 1642.57V1645.77M377.8 1674.32V1677.52" fill="none" stroke="#b3b5b7" stroke-width="1.6"/>
<rect x="428.15" y="1215.5" width="1012.97" height="476.3" fill="#fdf0f4"/>
<path d="M428.15 1215.5H463.08L428.15 1247.25Z" fill="#25537c"/>
<path d="M463.08 1215.5V1247.25H428.15Z" fill="#5a98bf"/>
<path d="M567.87 1215.5H602.8L567.87 1247.25Z" fill="#7ba8ca"/>
<path d="M602.8 1215.5V1247.25H567.87Z" fill="#9ab3d4"/>
<path d="M602.8 1215.5H637.73L602.8 1247.25Z" fill="#2f7cb0"/>
<path d="M637.73 1215.5V1247.25H602.8Z" fill="#5a98bf"/>
<path d="M777.45 1215.5H812.38L777.45 1247.25Z" fill="#d6d6e8"/>
<path d="M812.38 1215.5V1247.25H777.45Z" fill="#ebe5f0"/>
<path d="M812.38 1215.5H847.31L812.38 1247.25Z" fill="#25537c"/>
<path d="M847.31 1215.5V1247.25H812.38Z" fill="#2f7cb0"/>
<path d="M847.31 1215.5H882.24L847.31 1247.25Z" fill="#25537c"/>
<path d="M882.24 1215.5V1247.25H847.31Z" fill="#2f7cb0"/>
<path d="M882.24 1215.5H917.17L882.24 1247.25Z" fill="#7ba8ca"/>
<path d="M917.17 1215.5V1247.25H882.24Z" fill="#9ab3d4"/>
<path d="M952.1 1215.5H987.03L952.1 1247.25Z" fill="#25537c"/>
<path d="M987.03 1215.5V1247.25H952.1Z" fill="#3f8ab5"/>
<path d="M987.03 1215.5H1021.96L987.03 1247.25Z" fill="#25537c"/>
<path d="M1021.96 1215.5V1247.25H987.03Z" fill="#5a98bf"/>
<path d="M1021.96 1215.5H1056.89L1021.96 1247.25Z" fill="#7ba8ca"/>
<path d="M1056.89 1215.5V1247.25H1021.96Z" fill="#ebe5f0"/>
<path d="M1126.75 1215.5H1161.68L1126.75 1247.25Z" fill="#3f8ab5"/>
<path d="M1161.68 1215.5V1247.25H1126.75Z" fill="#7ba8ca"/>
<path d="M1161.68 1215.5H1196.61L1161.68 1247.25Z" fill="#3f8ab5"/>
<path d="M1196.61 1215.5V1247.25H1161.68Z" fill="#7ba8ca"/>
<path d="M1406.19 1215.5H1441.12L1406.19 1247.25Z" fill="#bcc4de"/>
<path d="M1441.12 1215.5V1247.25H1406.19Z" fill="#ebe5f0"/>
<path d="M428.15 1247.25H463.08L428.15 1279.01Z" fill="#25537c"/>
<path d="M463.08 1247.25V1279.01H428.15Z" fill="#7ba8ca"/>
<path d="M567.87 1247.25H602.8L567.87 1279.01Z" fill="#2f7cb0"/>
<path d="M602.8 1247.25V1279.01H567.87Z" fill="#5a98bf"/>
<path d="M602.8 1247.25H637.73L602.8 1279.01Z" fill="#7ba8ca"/>
<path d="M637.73 1247.25V1279.01H602.8Z" fill="#7ba8ca"/>
<path d="M672.66 1247.25H707.59L672.66 1279.01Z" fill="#3f8ab5"/>
<path d="M707.59 1247.25V1279.01H672.66Z" fill="#bcc4de"/>
<path d="M812.38 1247.25H847.31L812.38 1279.01Z" fill="#2f7cb0"/>
<path d="M847.31 1247.25V1279.01H812.38Z" fill="#3f8ab5"/>
<path d="M847.31 1247.25H882.24L847.31 1279.01Z" fill="#2f7cb0"/>
<path d="M882.24 1247.25V1279.01H847.31Z" fill="#3f8ab5"/>
<path d="M952.1 1247.25H987.03L952.1 1279.01Z" fill="#25537c"/>
<path d="M987.03 1247.25V1279.01H952.1Z" fill="#25537c"/>
<path d="M987.03 1247.25H1021.96L987.03 1279.01Z" fill="#25537c"/>
<path d="M1021.96 1247.25V1279.01H987.03Z" fill="#3f8ab5"/>
<path d="M1056.89 1247.25H1091.82L1056.89 1279.01Z" fill="#25537c"/>
<path d="M1091.82 1247.25V1279.01H1056.89Z" fill="#25537c"/>
<path d="M1091.82 1247.25H1126.75L1091.82 1279.01Z" fill="#3f8ab5"/>
<path d="M1126.75 1247.25V1279.01H1091.82Z" fill="#5a98bf"/>
<path d="M1126.75 1247.25H1161.68L1126.75 1279.01Z" fill="#25537c"/>
<path d="M1161.68 1247.25V1279.01H1126.75Z" fill="#3f8ab5"/>
<path d="M1161.68 1247.25H1196.61L1161.68 1279.01Z" fill="#bcc4de"/>
<path d="M1196.61 1247.25V1279.01H1161.68Z" fill="#d6d6e8"/>
<path d="M1406.19 1247.25H1441.12L1406.19 1279.01Z" fill="#bcc4de"/>
<path d="M1441.12 1247.25V1279.01H1406.19Z" fill="#d6d6e8"/>
<path d="M428.15 1279.01H463.08L428.15 1310.76Z" fill="#25537c"/>
<path d="M463.08 1279.01V1310.76H428.15Z" fill="#2f7cb0"/>
<path d="M463.08 1279.01H498.01L463.08 1310.76Z" fill="#25537c"/>
<path d="M498.01 1279.01V1310.76H463.08Z" fill="#3f8ab5"/>
<path d="M567.87 1279.01H602.8L567.87 1310.76Z" fill="#2f7cb0"/>
<path d="M602.8 1279.01V1310.76H567.87Z" fill="#5a98bf"/>
<path d="M602.8 1279.01H637.73L602.8 1310.76Z" fill="#5a98bf"/>
<path d="M637.73 1279.01V1310.76H602.8Z" fill="#9ab3d4"/>
<path d="M672.66 1279.01H707.59L672.66 1310.76Z" fill="#3f8ab5"/>
<path d="M707.59 1279.01V1310.76H672.66Z" fill="#9ab3d4"/>
<path d="M812.38 1279.01H847.31L812.38 1310.76Z" fill="#25537c"/>
<path d="M847.31 1279.01V1310.76H812.38Z" fill="#2a6da3"/>
<path d="M847.31 1279.01H882.24L847.31 1310.76Z" fill="#2a6da3"/>
<path d="M882.24 1279.01V1310.76H847.31Z" fill="#5a98bf"/>
<path d="M882.24 1279.01H917.17L882.24 1310.76Z" fill="#25537c"/>
<path d="M917.17 1279.01V1310.76H882.24Z" fill="#3f8ab5"/>
<path d="M917.17 1279.01H952.1L917.17 1310.76Z" fill="#25537c"/>
<path d="M952.1 1279.01V1310.76H917.17Z" fill="#7ba8ca"/>
<path d="M952.1 1279.01H987.03L952.1 1310.76Z" fill="#25537c"/>
<path d="M987.03 1279.01V1310.76H952.1Z" fill="#25537c"/>
<path d="M987.03 1279.01H1021.96L987.03 1310.76Z" fill="#25537c"/>
<path d="M1021.96 1279.01V1310.76H987.03Z" fill="#25537c"/>
<path d="M1021.96 1279.01H1056.89L1021.96 1310.76Z" fill="#25537c"/>
<path d="M1056.89 1279.01V1310.76H1021.96Z" fill="#2f7cb0"/>
<path d="M1056.89 1279.01H1091.82L1056.89 1310.76Z" fill="#25537c"/>
<path d="M1091.82 1279.01V1310.76H1056.89Z" fill="#2a6da3"/>
<path d="M1091.82 1279.01H1126.75L1091.82 1310.76Z" fill="#25537c"/>
<path d="M1126.75 1279.01V1310.76H1091.82Z" fill="#2f7cb0"/>
<path d="M1161.68 1279.01H1196.61L1161.68 1310.76Z" fill="#25537c"/>
<path d="M1196.61 1279.01V1310.76H1161.68Z" fill="#3f8ab5"/>
<path d="M1266.47 1279.01H1301.4L1266.47 1310.76Z" fill="#bcc4de"/>
<path d="M1301.4 1279.01V1310.76H1266.47Z" fill="#ebe5f0"/>
<path d="M1301.4 1279.01H1336.33L1301.4 1310.76Z" fill="#7ba8ca"/>
<path d="M1336.33 1279.01V1310.76H1301.4Z" fill="#ebe5f0"/>
<path d="M1336.33 1279.01H1371.26L1336.33 1310.76Z" fill="#25537c"/>
<path d="M1371.26 1279.01V1310.76H1336.33Z" fill="#bcc4de"/>
<path d="M428.15 1310.76H463.08L428.15 1342.51Z" fill="#25537c"/>
<path d="M463.08 1310.76V1342.51H428.15Z" fill="#ebe5f0"/>
<path d="M567.87 1310.76H602.8L567.87 1342.51Z" fill="#7ba8ca"/>
<path d="M602.8 1310.76V1342.51H567.87Z" fill="#d6d6e8"/>
<path d="M602.8 1310.76H637.73L602.8 1342.51Z" fill="#3f8ab5"/>
<path d="M637.73 1310.76V1342.51H602.8Z" fill="#7ba8ca"/>
<path d="M672.66 1310.76H707.59L672.66 1342.51Z" fill="#bcc4de"/>
<path d="M707.59 1310.76V1342.51H672.66Z" fill="#ebe5f0"/>
<path d="M777.45 1310.76H812.38L777.45 1342.51Z" fill="#d6d6e8"/>
<path d="M812.38 1310.76V1342.51H777.45Z" fill="#ebe5f0"/>
<path d="M812.38 1310.76H847.31L812.38 1342.51Z" fill="#2f7cb0"/>
<path d="M847.31 1310.76V1342.51H812.38Z" fill="#7ba8ca"/>
<path d="M847.31 1310.76H882.24L847.31 1342.51Z" fill="#25537c"/>
<path d="M882.24 1310.76V1342.51H847.31Z" fill="#3f8ab5"/>
<path d="M882.24 1310.76H917.17L882.24 1342.51Z" fill="#25537c"/>
<path d="M917.17 1310.76V1342.51H882.24Z" fill="#9ab3d4"/>
<path d="M917.17 1310.76H952.1L917.17 1342.51Z" fill="#25537c"/>
<path d="M952.1 1310.76V1342.51H917.17Z" fill="#d6d6e8"/>
<path d="M952.1 1310.76H987.03L952.1 1342.51Z" fill="#25537c"/>
<path d="M987.03 1310.76V1342.51H952.1Z" fill="#5a98bf"/>
<path d="M987.03 1310.76H1021.96L987.03 1342.51Z" fill="#25537c"/>
<path d="M1021.96 1310.76V1342.51H987.03Z" fill="#5a98bf"/>
<path d="M1091.82 1310.76H1126.75L1091.82 1342.51Z" fill="#bcc4de"/>
<path d="M1126.75 1310.76V1342.51H1091.82Z" fill="#d6d6e8"/>
<path d="M1126.75 1310.76H1161.68L1126.75 1342.51Z" fill="#3f8ab5"/>
<path d="M1161.68 1310.76V1342.51H1126.75Z" fill="#bcc4de"/>
<path d="M1161.68 1310.76H1196.61L1161.68 1342.51Z" fill="#25537c"/>
<path d="M1196.61 1310.76V1342.51H1161.68Z" fill="#7ba8ca"/>
<path d="M1406.19 1310.76H1441.12L1406.19 1342.51Z" fill="#bcc4de"/>
<path d="M1441.12 1310.76V1342.51H1406.19Z" fill="#ebe5f0"/>
<path d="M428.15 1342.51H463.08L428.15 1374.26Z" fill="#25537c"/>
<path d="M463.08 1342.51V1374.26H428.15Z" fill="#2a6da3"/>
<path d="M463.08 1342.51H498.01L463.08 1374.26Z" fill="#25537c"/>
<path d="M498.01 1342.51V1374.26H463.08Z" fill="#3f8ab5"/>
<path d="M567.87 1342.51H602.8L567.87 1374.26Z" fill="#2f7cb0"/>
<path d="M602.8 1342.51V1374.26H567.87Z" fill="#7ba8ca"/>
<path d="M602.8 1342.51H637.73L602.8 1374.26Z" fill="#3f8ab5"/>
<path d="M637.73 1342.51V1374.26H602.8Z" fill="#5a98bf"/>
<path d="M672.66 1342.51H707.59L672.66 1374.26Z" fill="#3f8ab5"/>
<path d="M707.59 1342.51V1374.26H672.66Z" fill="#bcc4de"/>
<path d="M742.52 1342.51H777.45L742.52 1374.26Z" fill="#25537c"/>
<path d="M777.45 1342.51V1374.26H742.52Z" fill="#bcc4de"/>
<path d="M777.45 1342.51H812.38L777.45 1374.26Z" fill="#25537c"/>
<path d="M812.38 1342.51V1374.26H777.45Z" fill="#d6d6e8"/>
<path d="M812.38 1342.51H847.31L812.38 1374.26Z" fill="#25537c"/>
<path d="M847.31 1342.51V1374.26H812.38Z" fill="#2f7cb0"/>
<path d="M847.31 1342.51H882.24L847.31 1374.26Z" fill="#25537c"/>
<path d="M882.24 1342.51V1374.26H847.31Z" fill="#2a6da3"/>
<path d="M882.24 1342.51H917.17L882.24 1374.26Z" fill="#25537c"/>
<path d="M917.17 1342.51V1374.26H882.24Z" fill="#7ba8ca"/>
<path d="M917.17 1342.51H952.1L917.17 1374.26Z" fill="#25537c"/>
<path d="M952.1 1342.51V1374.26H917.17Z" fill="#2a6da3"/>
<path d="M952.1 1342.51H987.03L952.1 1374.26Z" fill="#25537c"/>
<path d="M987.03 1342.51V1374.26H952.1Z" fill="#2a6da3"/>
<path d="M987.03 1342.51H1021.96L987.03 1374.26Z" fill="#25537c"/>
<path d="M1021.96 1342.51V1374.26H987.03Z" fill="#2a6da3"/>
<path d="M1021.96 1342.51H1056.89L1021.96 1374.26Z" fill="#25537c"/>
<path d="M1056.89 1342.51V1374.26H1021.96Z" fill="#7ba8ca"/>
<path d="M1056.89 1342.51H1091.82L1056.89 1374.26Z" fill="#25537c"/>
<path d="M1091.82 1342.51V1374.26H1056.89Z" fill="#ebe5f0"/>
<path d="M1091.82 1342.51H1126.75L1091.82 1374.26Z" fill="#25537c"/>
<path d="M1126.75 1342.51V1374.26H1091.82Z" fill="#9ab3d4"/>
<path d="M1126.75 1342.51H1161.68L1126.75 1374.26Z" fill="#25537c"/>
<path d="M1161.68 1342.51V1374.26H1126.75Z" fill="#ebe5f0"/>
<path d="M1161.68 1342.51H1196.61L1161.68 1374.26Z" fill="#25537c"/>
<path d="M1196.61 1342.51V1374.26H1161.68Z" fill="#5a98bf"/>
<path d="M1196.61 1342.51H1231.54L1196.61 1374.26Z" fill="#25537c"/>
<path d="M1231.54 1342.51V1374.26H1196.61Z" fill="#ebe5f0"/>
<path d="M1266.47 1342.51H1301.4L1266.47 1374.26Z" fill="#bcc4de"/>
<path d="M1301.4 1342.51V1374.26H1266.47Z" fill="#ebe5f0"/>
<path d="M1301.4 1342.51H1336.33L1301.4 1374.26Z" fill="#25537c"/>
<path d="M1336.33 1342.51V1374.26H1301.4Z" fill="#d6d6e8"/>
<path d="M1336.33 1342.51H1371.26L1336.33 1374.26Z" fill="#25537c"/>
<path d="M1371.26 1342.51V1374.26H1336.33Z" fill="#7ba8ca"/>
<path d="M1406.19 1342.51H1441.12L1406.19 1374.26Z" fill="#bcc4de"/>
<path d="M1441.12 1342.51V1374.26H1406.19Z" fill="#ebe5f0"/>
<path d="M567.87 1374.26H602.8L567.87 1406.02Z" fill="#7ba8ca"/>
<path d="M602.8 1374.26V1406.02H567.87Z" fill="#7ba8ca"/>
<path d="M602.8 1374.26H637.73L602.8 1406.02Z" fill="#3f8ab5"/>
<path d="M637.73 1374.26V1406.02H602.8Z" fill="#7ba8ca"/>
<path d="M672.66 1374.26H707.59L672.66 1406.02Z" fill="#bcc4de"/>
<path d="M707.59 1374.26V1406.02H672.66Z" fill="#d6d6e8"/>
<path d="M777.45 1374.26H812.38L777.45 1406.02Z" fill="#d6d6e8"/>
<path d="M812.38 1374.26V1406.02H777.45Z" fill="#ebe5f0"/>
<path d="M812.38 1374.26H847.31L812.38 1406.02Z" fill="#2a6da3"/>
<path d="M847.31 1374.26V1406.02H812.38Z" fill="#3f8ab5"/>
<path d="M847.31 1374.26H882.24L847.31 1406.02Z" fill="#2f7cb0"/>
<path d="M882.24 1374.26V1406.02H847.31Z" fill="#5a98bf"/>
<path d="M882.24 1374.26H917.17L882.24 1406.02Z" fill="#25537c"/>
<path d="M917.17 1374.26V1406.02H882.24Z" fill="#bcc4de"/>
<path d="M917.17 1374.26H952.1L917.17 1406.02Z" fill="#25537c"/>
<path d="M952.1 1374.26V1406.02H917.17Z" fill="#9ab3d4"/>
<path d="M952.1 1374.26H987.03L952.1 1406.02Z" fill="#25537c"/>
<path d="M987.03 1374.26V1406.02H952.1Z" fill="#7ba8ca"/>
<path d="M987.03 1374.26H1021.96L987.03 1406.02Z" fill="#3f8ab5"/>
<path d="M1021.96 1374.26V1406.02H987.03Z" fill="#ebe5f0"/>
<path d="M1021.96 1374.26H1056.89L1021.96 1406.02Z" fill="#25537c"/>
<path d="M1056.89 1374.26V1406.02H1021.96Z" fill="#5a98bf"/>
<path d="M1056.89 1374.26H1091.82L1056.89 1406.02Z" fill="#25537c"/>
<path d="M1091.82 1374.26V1406.02H1056.89Z" fill="#5a98bf"/>
<path d="M1091.82 1374.26H1126.75L1091.82 1406.02Z" fill="#bcc4de"/>
<path d="M1126.75 1374.26V1406.02H1091.82Z" fill="#bcc4de"/>
<path d="M1126.75 1374.26H1161.68L1126.75 1406.02Z" fill="#bcc4de"/>
<path d="M1161.68 1374.26V1406.02H1126.75Z" fill="#ebe5f0"/>
<path d="M1161.68 1374.26H1196.61L1161.68 1406.02Z" fill="#bcc4de"/>
<path d="M1196.61 1374.26V1406.02H1161.68Z" fill="#d6d6e8"/>
<path d="M567.87 1406.02H602.8L567.87 1437.77Z" fill="#7ba8ca"/>
<path d="M602.8 1406.02V1437.77H567.87Z" fill="#9ab3d4"/>
<path d="M602.8 1406.02H637.73L602.8 1437.77Z" fill="#5a98bf"/>
<path d="M637.73 1406.02V1437.77H602.8Z" fill="#9ab3d4"/>
<path d="M672.66 1406.02H707.59L672.66 1437.77Z" fill="#bcc4de"/>
<path d="M707.59 1406.02V1437.77H672.66Z" fill="#bcc4de"/>
<path d="M777.45 1406.02H812.38L777.45 1437.77Z" fill="#d6d6e8"/>
<path d="M812.38 1406.02V1437.77H777.45Z" fill="#d6d6e8"/>
<path d="M812.38 1406.02H847.31L812.38 1437.77Z" fill="#3f8ab5"/>
<path d="M847.31 1406.02V1437.77H812.38Z" fill="#7ba8ca"/>
<path d="M847.31 1406.02H882.24L847.31 1437.77Z" fill="#5a98bf"/>
<path d="M882.24 1406.02V1437.77H847.31Z" fill="#9ab3d4"/>
<path d="M882.24 1406.02H917.17L882.24 1437.77Z" fill="#7ba8ca"/>
<path d="M917.17 1406.02V1437.77H882.24Z" fill="#7ba8ca"/>
<path d="M917.17 1406.02H952.1L917.17 1437.77Z" fill="#25537c"/>
<path d="M952.1 1406.02V1437.77H917.17Z" fill="#25537c"/>
<path d="M952.1 1406.02H987.03L952.1 1437.77Z" fill="#25537c"/>
<path d="M987.03 1406.02V1437.77H952.1Z" fill="#25537c"/>
<path d="M987.03 1406.02H1021.96L987.03 1437.77Z" fill="#bcc4de"/>
<path d="M1021.96 1406.02V1437.77H987.03Z" fill="#bcc4de"/>
<path d="M1161.68 1406.02H1196.61L1161.68 1437.77Z" fill="#bcc4de"/>
<path d="M1196.61 1406.02V1437.77H1161.68Z" fill="#bcc4de"/>
<path d="M567.87 1437.77H602.8L567.87 1469.52Z" fill="#7ba8ca"/>
<path d="M602.8 1437.77V1469.52H567.87Z" fill="#9ab3d4"/>
<path d="M602.8 1437.77H637.73L602.8 1469.52Z" fill="#5a98bf"/>
<path d="M637.73 1437.77V1469.52H602.8Z" fill="#7ba8ca"/>
<path d="M812.38 1437.77H847.31L812.38 1469.52Z" fill="#5a98bf"/>
<path d="M847.31 1437.77V1469.52H812.38Z" fill="#9ab3d4"/>
<path d="M847.31 1437.77H882.24L847.31 1469.52Z" fill="#2f7cb0"/>
<path d="M882.24 1437.77V1469.52H847.31Z" fill="#5a98bf"/>
<path d="M952.1 1437.77H987.03L952.1 1469.52Z" fill="#25537c"/>
<path d="M987.03 1437.77V1469.52H952.1Z" fill="#bcc4de"/>
<path d="M987.03 1437.77H1021.96L987.03 1469.52Z" fill="#3f8ab5"/>
<path d="M1021.96 1437.77V1469.52H987.03Z" fill="#3f8ab5"/>
<path d="M1091.82 1437.77H1126.75L1091.82 1469.52Z" fill="#3f8ab5"/>
<path d="M1126.75 1437.77V1469.52H1091.82Z" fill="#9ab3d4"/>
<path d="M428.15 1469.52H463.08L428.15 1501.28Z" fill="#25537c"/>
<path d="M463.08 1469.52V1501.28H428.15Z" fill="#7ba8ca"/>
<path d="M567.87 1469.52H602.8L567.87 1501.28Z" fill="#7ba8ca"/>
<path d="M602.8 1469.52V1501.28H567.87Z" fill="#9ab3d4"/>
<path d="M602.8 1469.52H637.73L602.8 1501.28Z" fill="#5a98bf"/>
<path d="M637.73 1469.52V1501.28H602.8Z" fill="#9ab3d4"/>
<path d="M637.73 1469.52H672.66L637.73 1501.28Z" fill="#7ba8ca"/>
<path d="M672.66 1469.52V1501.28H637.73Z" fill="#7ba8ca"/>
<path d="M672.66 1469.52H707.59L672.66 1501.28Z" fill="#bcc4de"/>
<path d="M707.59 1469.52V1501.28H672.66Z" fill="#d6d6e8"/>
<path d="M707.59 1469.52H742.52L707.59 1501.28Z" fill="#25537c"/>
<path d="M742.52 1469.52V1501.28H707.59Z" fill="#25537c"/>
<path d="M812.38 1469.52H847.31L812.38 1501.28Z" fill="#3f8ab5"/>
<path d="M847.31 1469.52V1501.28H812.38Z" fill="#3f8ab5"/>
<path d="M847.31 1469.52H882.24L847.31 1501.28Z" fill="#2f7cb0"/>
<path d="M882.24 1469.52V1501.28H847.31Z" fill="#5a98bf"/>
<path d="M882.24 1469.52H917.17L882.24 1501.28Z" fill="#7ba8ca"/>
<path d="M917.17 1469.52V1501.28H882.24Z" fill="#7ba8ca"/>
<path d="M952.1 1469.52H987.03L952.1 1501.28Z" fill="#25537c"/>
<path d="M987.03 1469.52V1501.28H952.1Z" fill="#25537c"/>
<path d="M987.03 1469.52H1021.96L987.03 1501.28Z" fill="#3f8ab5"/>
<path d="M1021.96 1469.52V1501.28H987.03Z" fill="#bcc4de"/>
<path d="M1091.82 1469.52H1126.75L1091.82 1501.28Z" fill="#bcc4de"/>
<path d="M1126.75 1469.52V1501.28H1091.82Z" fill="#d6d6e8"/>
<path d="M1161.68 1469.52H1196.61L1161.68 1501.28Z" fill="#3f8ab5"/>
<path d="M1196.61 1469.52V1501.28H1161.68Z" fill="#5a98bf"/>
<path d="M1231.54 1469.52H1266.47L1231.54 1501.28Z" fill="#7ba8ca"/>
<path d="M1266.47 1469.52V1501.28H1231.54Z" fill="#d6d6e8"/>
<path d="M1266.47 1469.52H1301.4L1266.47 1501.28Z" fill="#bcc4de"/>
<path d="M1301.4 1469.52V1501.28H1266.47Z" fill="#d6d6e8"/>
<path d="M1336.33 1469.52H1371.26L1336.33 1501.28Z" fill="#7ba8ca"/>
<path d="M1371.26 1469.52V1501.28H1336.33Z" fill="#7ba8ca"/>
<path d="M567.87 1501.28H602.8L567.87 1533.03Z" fill="#7ba8ca"/>
<path d="M602.8 1501.28V1533.03H567.87Z" fill="#7ba8ca"/>
<path d="M602.8 1501.28H637.73L602.8 1533.03Z" fill="#bcc4de"/>
<path d="M637.73 1501.28V1533.03H602.8Z" fill="#bcc4de"/>
<path d="M812.38 1501.28H847.31L812.38 1533.03Z" fill="#7ba8ca"/>
<path d="M847.31 1501.28V1533.03H812.38Z" fill="#7ba8ca"/>
<path d="M847.31 1501.28H882.24L847.31 1533.03Z" fill="#5a98bf"/>
<path d="M882.24 1501.28V1533.03H847.31Z" fill="#5a98bf"/>
<path d="M1126.75 1501.28H1161.68L1126.75 1533.03Z" fill="#bcc4de"/>
<path d="M1161.68 1501.28V1533.03H1126.75Z" fill="#bcc4de"/>
<path d="M1301.4 1501.28H1336.33L1301.4 1533.03Z" fill="#bcc4de"/>
<path d="M1336.33 1501.28V1533.03H1301.4Z" fill="#bcc4de"/>
<path d="M1406.19 1501.28H1441.12L1406.19 1533.03Z" fill="#bcc4de"/>
<path d="M1441.12 1501.28V1533.03H1406.19Z" fill="#bcc4de"/>
<path d="M567.87 1533.03H602.8L567.87 1564.78Z" fill="#bcc4de"/>
<path d="M602.8 1533.03V1564.78H567.87Z" fill="#d6d6e8"/>
<path d="M602.8 1533.03H637.73L602.8 1564.78Z" fill="#9ab3d4"/>
<path d="M637.73 1533.03V1564.78H602.8Z" fill="#bcc4de"/>
<path d="M777.45 1533.03H812.38L777.45 1564.78Z" fill="#d6d6e8"/>
<path d="M812.38 1533.03V1564.78H777.45Z" fill="#ebe5f0"/>
<path d="M812.38 1533.03H847.31L812.38 1564.78Z" fill="#3f8ab5"/>
<path d="M847.31 1533.03V1564.78H812.38Z" fill="#7ba8ca"/>
<path d="M847.31 1533.03H882.24L847.31 1564.78Z" fill="#7ba8ca"/>
<path d="M882.24 1533.03V1564.78H847.31Z" fill="#7ba8ca"/>
<path d="M882.24 1533.03H917.17L882.24 1564.78Z" fill="#7ba8ca"/>
<path d="M917.17 1533.03V1564.78H882.24Z" fill="#bcc4de"/>
<path d="M917.17 1533.03H952.1L917.17 1564.78Z" fill="#25537c"/>
<path d="M952.1 1533.03V1564.78H917.17Z" fill="#bcc4de"/>
<path d="M952.1 1533.03H987.03L952.1 1564.78Z" fill="#25537c"/>
<path d="M987.03 1533.03V1564.78H952.1Z" fill="#25537c"/>
<path d="M987.03 1533.03H1021.96L987.03 1564.78Z" fill="#25537c"/>
<path d="M1021.96 1533.03V1564.78H987.03Z" fill="#2f7cb0"/>
<path d="M1021.96 1533.03H1056.89L1021.96 1564.78Z" fill="#7ba8ca"/>
<path d="M1056.89 1533.03V1564.78H1021.96Z" fill="#d6d6e8"/>
<path d="M1091.82 1533.03H1126.75L1091.82 1564.78Z" fill="#bcc4de"/>
<path d="M1126.75 1533.03V1564.78H1091.82Z" fill="#bcc4de"/>
<path d="M1126.75 1533.03H1161.68L1126.75 1564.78Z" fill="#3f8ab5"/>
<path d="M1161.68 1533.03V1564.78H1126.75Z" fill="#5a98bf"/>
<path d="M1161.68 1533.03H1196.61L1161.68 1564.78Z" fill="#25537c"/>
<path d="M1196.61 1533.03V1564.78H1161.68Z" fill="#2f7cb0"/>
<path d="M1406.19 1533.03H1441.12L1406.19 1564.78Z" fill="#25537c"/>
<path d="M1441.12 1533.03V1564.78H1406.19Z" fill="#5a98bf"/>
<path d="M428.15 1564.78H463.08L428.15 1596.54Z" fill="#25537c"/>
<path d="M463.08 1564.78V1596.54H428.15Z" fill="#2f7cb0"/>
<path d="M567.87 1564.78H602.8L567.87 1596.54Z" fill="#7ba8ca"/>
<path d="M602.8 1564.78V1596.54H567.87Z" fill="#7ba8ca"/>
<path d="M602.8 1564.78H637.73L602.8 1596.54Z" fill="#2f7cb0"/>
<path d="M637.73 1564.78V1596.54H602.8Z" fill="#3f8ab5"/>
<path d="M777.45 1564.78H812.38L777.45 1596.54Z" fill="#d6d6e8"/>
<path d="M812.38 1564.78V1596.54H777.45Z" fill="#d6d6e8"/>
<path d="M812.38 1564.78H847.31L812.38 1596.54Z" fill="#2f7cb0"/>
<path d="M847.31 1564.78V1596.54H812.38Z" fill="#5a98bf"/>
<path d="M847.31 1564.78H882.24L847.31 1596.54Z" fill="#25537c"/>
<path d="M882.24 1564.78V1596.54H847.31Z" fill="#2a6da3"/>
<path d="M882.24 1564.78H917.17L882.24 1596.54Z" fill="#25537c"/>
<path d="M917.17 1564.78V1596.54H882.24Z" fill="#5a98bf"/>
<path d="M917.17 1564.78H952.1L917.17 1596.54Z" fill="#25537c"/>
<path d="M952.1 1564.78V1596.54H917.17Z" fill="#2f7cb0"/>
<path d="M952.1 1564.78H987.03L952.1 1596.54Z" fill="#25537c"/>
<path d="M987.03 1564.78V1596.54H952.1Z" fill="#25537c"/>
<path d="M987.03 1564.78H1021.96L987.03 1596.54Z" fill="#3f8ab5"/>
<path d="M1021.96 1564.78V1596.54H987.03Z" fill="#bcc4de"/>
<path d="M1056.89 1564.78H1091.82L1056.89 1596.54Z" fill="#25537c"/>
<path d="M1091.82 1564.78V1596.54H1056.89Z" fill="#d6d6e8"/>
<path d="M1091.82 1564.78H1126.75L1091.82 1596.54Z" fill="#bcc4de"/>
<path d="M1126.75 1564.78V1596.54H1091.82Z" fill="#d6d6e8"/>
<path d="M1126.75 1564.78H1161.68L1126.75 1596.54Z" fill="#bcc4de"/>
<path d="M1161.68 1564.78V1596.54H1126.75Z" fill="#d6d6e8"/>
<path d="M1161.68 1564.78H1196.61L1161.68 1596.54Z" fill="#bcc4de"/>
<path d="M1196.61 1564.78V1596.54H1161.68Z" fill="#ebe5f0"/>
<path d="M567.87 1596.54H602.8L567.87 1628.29Z" fill="#7ba8ca"/>
<path d="M602.8 1596.54V1628.29H567.87Z" fill="#9ab3d4"/>
<path d="M602.8 1596.54H637.73L602.8 1628.29Z" fill="#2f7cb0"/>
<path d="M637.73 1596.54V1628.29H602.8Z" fill="#5a98bf"/>
<path d="M777.45 1596.54H812.38L777.45 1628.29Z" fill="#9ab3d4"/>
<path d="M812.38 1596.54V1628.29H777.45Z" fill="#bcc4de"/>
<path d="M812.38 1596.54H847.31L812.38 1628.29Z" fill="#2a6da3"/>
<path d="M847.31 1596.54V1628.29H812.38Z" fill="#3f8ab5"/>
<path d="M847.31 1596.54H882.24L847.31 1628.29Z" fill="#2a6da3"/>
<path d="M882.24 1596.54V1628.29H847.31Z" fill="#2f7cb0"/>
<path d="M987.03 1596.54H1021.96L987.03 1628.29Z" fill="#bcc4de"/>
<path d="M1021.96 1596.54V1628.29H987.03Z" fill="#ebe5f0"/>
<path d="M1126.75 1596.54H1161.68L1126.75 1628.29Z" fill="#3f8ab5"/>
<path d="M1161.68 1596.54V1628.29H1126.75Z" fill="#5a98bf"/>
<path d="M1406.19 1596.54H1441.12L1406.19 1628.29Z" fill="#3f8ab5"/>
<path d="M1441.12 1596.54V1628.29H1406.19Z" fill="#7ba8ca"/>
<path d="M567.87 1628.29H602.8L567.87 1660.04Z" fill="#7ba8ca"/>
<path d="M602.8 1628.29V1660.04H567.87Z" fill="#bcc4de"/>
<path d="M602.8 1628.29H637.73L602.8 1660.04Z" fill="#3f8ab5"/>
<path d="M637.73 1628.29V1660.04H602.8Z" fill="#3f8ab5"/>
<path d="M637.73 1628.29H672.66L637.73 1660.04Z" fill="#7ba8ca"/>
<path d="M672.66 1628.29V1660.04H637.73Z" fill="#d6d6e8"/>
<path d="M812.38 1628.29H847.31L812.38 1660.04Z" fill="#2a6da3"/>
<path d="M847.31 1628.29V1660.04H812.38Z" fill="#3f8ab5"/>
<path d="M847.31 1628.29H882.24L847.31 1660.04Z" fill="#25537c"/>
<path d="M882.24 1628.29V1660.04H847.31Z" fill="#2a6da3"/>
<path d="M882.24 1628.29H917.17L882.24 1660.04Z" fill="#25537c"/>
<path d="M917.17 1628.29V1660.04H882.24Z" fill="#2f7cb0"/>
<path d="M917.17 1628.29H952.1L917.17 1660.04Z" fill="#25537c"/>
<path d="M952.1 1628.29V1660.04H917.17Z" fill="#25537c"/>
<path d="M952.1 1628.29H987.03L952.1 1660.04Z" fill="#25537c"/>
<path d="M987.03 1628.29V1660.04H952.1Z" fill="#25537c"/>
<path d="M987.03 1628.29H1021.96L987.03 1660.04Z" fill="#25537c"/>
<path d="M1021.96 1628.29V1660.04H987.03Z" fill="#2a6da3"/>
<path d="M1021.96 1628.29H1056.89L1021.96 1660.04Z" fill="#7ba8ca"/>
<path d="M1056.89 1628.29V1660.04H1021.96Z" fill="#d6d6e8"/>
<path d="M1091.82 1628.29H1126.75L1091.82 1660.04Z" fill="#bcc4de"/>
<path d="M1126.75 1628.29V1660.04H1091.82Z" fill="#d6d6e8"/>
<path d="M1126.75 1628.29H1161.68L1126.75 1660.04Z" fill="#3f8ab5"/>
<path d="M1161.68 1628.29V1660.04H1126.75Z" fill="#9ab3d4"/>
<path d="M1161.68 1628.29H1196.61L1161.68 1660.04Z" fill="#3f8ab5"/>
<path d="M1196.61 1628.29V1660.04H1161.68Z" fill="#5a98bf"/>
<path d="M1406.19 1628.29H1441.12L1406.19 1660.04Z" fill="#bcc4de"/>
<path d="M1441.12 1628.29V1660.04H1406.19Z" fill="#ebe5f0"/>
<path d="M567.87 1660.04H602.8L567.87 1691.79Z" fill="#7ba8ca"/>
<path d="M602.8 1660.04V1691.79H567.87Z" fill="#d6d6e8"/>
<path d="M602.8 1660.04H637.73L602.8 1691.79Z" fill="#5a98bf"/>
<path d="M637.73 1660.04V1691.79H602.8Z" fill="#5a98bf"/>
<path d="M707.59 1660.04H742.52L707.59 1691.79Z" fill="#bcc4de"/>
<path d="M742.52 1660.04V1691.79H707.59Z" fill="#d6d6e8"/>
<path d="M777.45 1660.04H812.38L777.45 1691.79Z" fill="#9ab3d4"/>
<path d="M812.38 1660.04V1691.79H777.45Z" fill="#d6d6e8"/>
<path d="M812.38 1660.04H847.31L812.38 1691.79Z" fill="#2a6da3"/>
<path d="M847.31 1660.04V1691.79H812.38Z" fill="#5a98bf"/>
<path d="M847.31 1660.04H882.24L847.31 1691.79Z" fill="#3f8ab5"/>
<path d="M882.24 1660.04V1691.79H847.31Z" fill="#3f8ab5"/>
<path d="M987.03 1660.04H1021.96L987.03 1691.79Z" fill="#bcc4de"/>
<path d="M1021.96 1660.04V1691.79H987.03Z" fill="#bcc4de"/>
<path d="M1126.75 1660.04H1161.68L1126.75 1691.79Z" fill="#bcc4de"/>
<path d="M1161.68 1660.04V1691.79H1126.75Z" fill="#bcc4de"/>
<path d="M1161.68 1660.04H1196.61L1161.68 1691.79Z" fill="#bcc4de"/>
<path d="M1196.61 1660.04V1691.79H1161.68Z" fill="#d6d6e8"/>
<path d="M463.08 1215.5V1691.8M498.01 1215.5V1691.8M532.94 1215.5V1691.8M567.87 1215.5V1691.8M602.8 1215.5V1691.8M637.73 1215.5V1691.8M672.66 1215.5V1691.8M707.59 1215.5V1691.8M742.52 1215.5V1691.8M777.45 1215.5V1691.8M812.38 1215.5V1691.8M847.31 1215.5V1691.8M882.24 1215.5V1691.8M917.17 1215.5V1691.8M952.1 1215.5V1691.8M987.03 1215.5V1691.8M1021.96 1215.5V1691.8M1056.89 1215.5V1691.8M1091.82 1215.5V1691.8M1126.75 1215.5V1691.8M1161.68 1215.5V1691.8M1196.61 1215.5V1691.8M1231.54 1215.5V1691.8M1266.47 1215.5V1691.8M1301.4 1215.5V1691.8M1336.33 1215.5V1691.8M1371.26 1215.5V1691.8M1406.19 1215.5V1691.8M428.15 1247.25H1441.12M428.15 1279.01H1441.12M428.15 1310.76H1441.12M428.15 1342.51H1441.12M428.15 1374.26H1441.12M428.15 1406.02H1441.12M428.15 1437.77H1441.12M428.15 1469.52H1441.12M428.15 1501.28H1441.12M428.15 1533.03H1441.12M428.15 1564.78H1441.12M428.15 1596.54H1441.12M428.15 1628.29H1441.12M428.15 1660.04H1441.12M428.15 1247.25L463.08 1215.5M428.15 1279.01L498.01 1215.5M428.15 1310.76L532.94 1215.5M428.15 1342.51L567.87 1215.5M428.15 1374.26L602.8 1215.5M428.15 1406.02L637.73 1215.5M428.15 1437.77L672.66 1215.5M428.15 1469.52L707.59 1215.5M428.15 1501.28L742.52 1215.5M428.15 1533.03L777.45 1215.5M428.15 1564.78L812.38 1215.5M428.15 1596.54L847.31 1215.5M428.15 1628.29L882.24 1215.5M428.15 1660.04L917.17 1215.5M428.15 1691.8L952.1 1215.5M463.08 1691.8L987.03 1215.5M498.01 1691.8L1021.96 1215.5M532.94 1691.8L1056.89 1215.5M567.87 1691.8L1091.82 1215.5M602.8 1691.8L1126.75 1215.5M637.73 1691.8L1161.68 1215.5M672.66 1691.8L1196.61 1215.5M707.59 1691.8L1231.54 1215.5M742.52 1691.8L1266.47 1215.5M777.45 1691.8L1301.4 1215.5M812.38 1691.8L1336.33 1215.5M847.31 1691.8L1371.26 1215.5M882.24 1691.8L1406.19 1215.5M917.17 1691.8L1441.12 1215.5M952.1 1691.8L1441.12 1247.25M987.03 1691.8L1441.12 1279.01M1021.96 1691.8L1441.12 1310.76M1056.89 1691.8L1441.12 1342.51M1091.82 1691.8L1441.12 1374.26M1126.75 1691.8L1441.12 1406.02M1161.68 1691.8L1441.12 1437.77M1196.61 1691.8L1441.12 1469.52M1231.54 1691.8L1441.12 1501.28M1266.47 1691.8L1441.12 1533.03M1301.4 1691.8L1441.12 1564.78M1336.33 1691.8L1441.12 1596.54M1371.26 1691.8L1441.12 1628.29M1406.19 1691.8L1441.12 1660.04" fill="none" stroke="#999b9d" stroke-width="2"/>
<path d="M420.05 1215.5H428.15M420.05 1247.25H428.15M420.05 1279.01H428.15M420.05 1310.76H428.15M420.05 1342.51H428.15M420.05 1374.26H428.15M420.05 1406.02H428.15M420.05 1437.77H428.15M420.05 1469.52H428.15M420.05 1501.28H428.15M420.05 1533.03H428.15M420.05 1564.78H428.15M420.05 1596.54H428.15M420.05 1628.29H428.15M420.05 1660.04H428.15" fill="none" stroke="#231f20" stroke-width="2.7"/>
<path d="M428.15 1691.8V1695.1M463.08 1691.8V1695.1M498.01 1691.8V1695.1M532.94 1691.8V1695.1M567.87 1691.8V1695.1M602.8 1691.8V1695.1M637.73 1691.8V1695.1M672.66 1691.8V1695.1M707.59 1691.8V1695.1M742.52 1691.8V1695.1M777.45 1691.8V1695.1M812.38 1691.8V1695.1M847.31 1691.8V1695.1M882.24 1691.8V1695.1M917.17 1691.8V1695.1M952.1 1691.8V1695.1M987.03 1691.8V1695.1M1021.96 1691.8V1695.1M1056.89 1691.8V1695.1M1091.82 1691.8V1695.1M1126.75 1691.8V1695.1M1161.68 1691.8V1695.1M1196.61 1691.8V1695.1M1231.54 1691.8V1695.1M1266.47 1691.8V1695.1M1301.4 1691.8V1695.1M1336.33 1691.8V1695.1M1371.26 1691.8V1695.1M1406.19 1691.8V1695.1M398.75 1693.3V1698" fill="none" stroke="#231f20" stroke-width="2.7"/>
<rect x="428.15" y="1215.5" width="1012.97" height="476.3" fill="none" stroke="#231f20" stroke-width="3.1"/>
<rect x="378.2" y="1700.9" width="41.7" height="32.54" fill="#5e1224"/>
<rect x="378.2" y="1733.14" width="41.7" height="32.04" fill="#b33b45"/>
<rect x="378.2" y="1764.88" width="41.7" height="32.04" fill="#b0d0e2"/>
<rect x="378.2" y="1796.62" width="41.7" height="32.04" fill="#9cc5d9"/>
<rect x="378.2" y="1828.36" width="41.7" height="32.04" fill="#4a8cb8"/>
<rect x="378.2" y="1860.1" width="41.7" height="32.04" fill="#3b76ab"/>
<rect x="378.2" y="1891.84" width="41.7" height="32.04" fill="#33659f"/>
<rect x="378.2" y="1923.58" width="41.7" height="32.04" fill="#30629d"/>
<rect x="378.2" y="1955.32" width="41.7" height="32.04" fill="#2e5b94"/>
<rect x="378.2" y="1987.06" width="41.7" height="32.04" fill="#2d5890"/>
<rect x="378.2" y="2018.8" width="41.7" height="32.04" fill="#2c568e"/>
<rect x="378.2" y="2050.54" width="41.7" height="32.04" fill="#2a4b82"/>
<rect x="378.2" y="2082.28" width="41.7" height="32.04" fill="#294980"/>
<rect x="378.2" y="2114.02" width="41.7" height="32.04" fill="#28477e"/>
<rect x="378.2" y="2145.76" width="41.7" height="34.14" fill="#27427a"/>
<path d="M377.8 1715.67V1718.87M377.8 1747.41V1750.61M377.8 1779.15V1782.35M377.8 1810.89V1814.09M377.8 1842.63V1845.83M377.8 1874.37V1877.57M377.8 1906.11V1909.31M377.8 1937.85V1941.05M377.8 1969.59V1972.79M377.8 2001.33V2004.53M377.8 2033.07V2036.27M377.8 2064.81V2068.01M377.8 2096.55V2099.75M377.8 2128.29V2131.49M377.8 2160.03V2163.23" fill="none" stroke="#b3b5b7" stroke-width="1.6"/>
<rect x="429.1" y="1701.4" width="1012.97" height="476.1" fill="#fdf0f4"/>
<path d="M429.1 1701.4H464.03L429.1 1733.14Z" fill="#25537c"/>
<path d="M464.03 1701.4V1733.14H429.1Z" fill="#2f7cb0"/>
<path d="M568.82 1701.4H603.75L568.82 1733.14Z" fill="#7ba8ca"/>
<path d="M603.75 1701.4V1733.14H568.82Z" fill="#9ab3d4"/>
<path d="M603.75 1701.4H638.68L603.75 1733.14Z" fill="#2f7cb0"/>
<path d="M638.68 1701.4V1733.14H603.75Z" fill="#5a98bf"/>
<path d="M638.68 1701.4H673.61L638.68 1733.14Z" fill="#25537c"/>
<path d="M673.61 1701.4V1733.14H638.68Z" fill="#5a98bf"/>
<path d="M673.61 1701.4H708.54L673.61 1733.14Z" fill="#25537c"/>
<path d="M708.54 1701.4V1733.14H673.61Z" fill="#7ba8ca"/>
<path d="M708.54 1701.4H743.47L708.54 1733.14Z" fill="#25537c"/>
<path d="M743.47 1701.4V1733.14H708.54Z" fill="#25537c"/>
<path d="M778.4 1701.4H813.33L778.4 1733.14Z" fill="#9ab3d4"/>
<path d="M813.33 1701.4V1733.14H778.4Z" fill="#ebe5f0"/>
<path d="M813.33 1701.4H848.26L813.33 1733.14Z" fill="#25537c"/>
<path d="M848.26 1701.4V1733.14H813.33Z" fill="#2f7cb0"/>
<path d="M848.26 1701.4H883.19L848.26 1733.14Z" fill="#25537c"/>
<path d="M883.19 1701.4V1733.14H848.26Z" fill="#2f7cb0"/>
<path d="M883.19 1701.4H918.12L883.19 1733.14Z" fill="#25537c"/>
<path d="M918.12 1701.4V1733.14H883.19Z" fill="#2f7cb0"/>
<path d="M918.12 1701.4H953.05L918.12 1733.14Z" fill="#25537c"/>
<path d="M953.05 1701.4V1733.14H918.12Z" fill="#2f7cb0"/>
<path d="M953.05 1701.4H987.98L953.05 1733.14Z" fill="#25537c"/>
<path d="M987.98 1701.4V1733.14H953.05Z" fill="#bcc4de"/>
<path d="M987.98 1701.4H1022.91L987.98 1733.14Z" fill="#25537c"/>
<path d="M1022.91 1701.4V1733.14H987.98Z" fill="#ebe5f0"/>
<path d="M1022.91 1701.4H1057.84L1022.91 1733.14Z" fill="#7ba8ca"/>
<path d="M1057.84 1701.4V1733.14H1022.91Z" fill="#ebe5f0"/>
<path d="M1057.84 1701.4H1092.77L1057.84 1733.14Z" fill="#25537c"/>
<path d="M1092.77 1701.4V1733.14H1057.84Z" fill="#2f7cb0"/>
<path d="M1092.77 1701.4H1127.7L1092.77 1733.14Z" fill="#3f8ab5"/>
<path d="M1127.7 1701.4V1733.14H1092.77Z" fill="#5a98bf"/>
<path d="M1127.7 1701.4H1162.63L1127.7 1733.14Z" fill="#bcc4de"/>
<path d="M1162.63 1701.4V1733.14H1127.7Z" fill="#ebe5f0"/>
<path d="M1162.63 1701.4H1197.56L1162.63 1733.14Z" fill="#25537c"/>
<path d="M1197.56 1701.4V1733.14H1162.63Z" fill="#3f8ab5"/>
<path d="M1232.49 1701.4H1267.42L1232.49 1733.14Z" fill="#25537c"/>
<path d="M1267.42 1701.4V1733.14H1232.49Z" fill="#7ba8ca"/>
<path d="M1267.42 1701.4H1302.35L1267.42 1733.14Z" fill="#25537c"/>
<path d="M1302.35 1701.4V1733.14H1267.42Z" fill="#7ba8ca"/>
<path d="M1302.35 1701.4H1337.28L1302.35 1733.14Z" fill="#2f7cb0"/>
<path d="M1337.28 1701.4V1733.14H1302.35Z" fill="#bcc4de"/>
<path d="M1337.28 1701.4H1372.21L1337.28 1733.14Z" fill="#25537c"/>
<path d="M1372.21 1701.4V1733.14H1337.28Z" fill="#7ba8ca"/>
<path d="M1372.21 1701.4H1407.14L1372.21 1733.14Z" fill="#25537c"/>
<path d="M1407.14 1701.4V1733.14H1372.21Z" fill="#9ab3d4"/>
<path d="M1407.14 1701.4H1442.07L1407.14 1733.14Z" fill="#bcc4de"/>
<path d="M1442.07 1701.4V1733.14H1407.14Z" fill="#ebe5f0"/>
<path d="M429.1 1733.14H464.03L429.1 1764.88Z" fill="#25537c"/>
<path d="M464.03 1733.14V1764.88H429.1Z" fill="#bcc4de"/>
<path d="M568.82 1733.14H603.75L568.82 1764.88Z" fill="#25537c"/>
<path d="M603.75 1733.14V1764.88H568.82Z" fill="#3f8ab5"/>
<path d="M603.75 1733.14H638.68L603.75 1764.88Z" fill="#5a98bf"/>
<path d="M638.68 1733.14V1764.88H603.75Z" fill="#9ab3d4"/>
<path d="M638.68 1733.14H673.61L638.68 1764.88Z" fill="#7ba8ca"/>
<path d="M673.61 1733.14V1764.88H638.68Z" fill="#ebe5f0"/>
<path d="M673.61 1733.14H708.54L673.61 1764.88Z" fill="#3f8ab5"/>
<path d="M708.54 1733.14V1764.88H673.61Z" fill="#bcc4de"/>
<path d="M708.54 1733.14H743.47L708.54 1764.88Z" fill="#bcc4de"/>
<path d="M743.47 1733.14V1764.88H708.54Z" fill="#ebe5f0"/>
<path d="M813.33 1733.14H848.26L813.33 1764.88Z" fill="#25537c"/>
<path d="M848.26 1733.14V1764.88H813.33Z" fill="#2f7cb0"/>
<path d="M848.26 1733.14H883.19L848.26 1764.88Z" fill="#2a6da3"/>
<path d="M883.19 1733.14V1764.88H848.26Z" fill="#2f7cb0"/>
<path d="M883.19 1733.14H918.12L883.19 1764.88Z" fill="#25537c"/>
<path d="M918.12 1733.14V1764.88H883.19Z" fill="#2f7cb0"/>
<path d="M918.12 1733.14H953.05L918.12 1764.88Z" fill="#25537c"/>
<path d="M953.05 1733.14V1764.88H918.12Z" fill="#2a6da3"/>
<path d="M953.05 1733.14H987.98L953.05 1764.88Z" fill="#25537c"/>
<path d="M987.98 1733.14V1764.88H953.05Z" fill="#2f7cb0"/>
<path d="M987.98 1733.14H1022.91L987.98 1764.88Z" fill="#3f8ab5"/>
<path d="M1022.91 1733.14V1764.88H987.98Z" fill="#ebe5f0"/>
<path d="M1057.84 1733.14H1092.77L1057.84 1764.88Z" fill="#25537c"/>
<path d="M1092.77 1733.14V1764.88H1057.84Z" fill="#9ab3d4"/>
<path d="M1092.77 1733.14H1127.7L1092.77 1764.88Z" fill="#3f8ab5"/>
<path d="M1127.7 1733.14V1764.88H1092.77Z" fill="#9ab3d4"/>
<path d="M1127.7 1733.14H1162.63L1127.7 1764.88Z" fill="#3f8ab5"/>
<path d="M1162.63 1733.14V1764.88H1127.7Z" fill="#ebe5f0"/>
<path d="M1162.63 1733.14H1197.56L1162.63 1764.88Z" fill="#25537c"/>
<path d="M1197.56 1733.14V1764.88H1162.63Z" fill="#3f8ab5"/>
<path d="M1232.49 1733.14H1267.42L1232.49 1764.88Z" fill="#7ba8ca"/>
<path d="M1267.42 1733.14V1764.88H1232.49Z" fill="#9ab3d4"/>
<path d="M1267.42 1733.14H1302.35L1267.42 1764.88Z" fill="#bcc4de"/>
<path d="M1302.35 1733.14V1764.88H1267.42Z" fill="#bcc4de"/>
<path d="M1302.35 1733.14H1337.28L1302.35 1764.88Z" fill="#25537c"/>
<path d="M1337.28 1733.14V1764.88H1302.35Z" fill="#5a98bf"/>
<path d="M1337.28 1733.14H1372.21L1337.28 1764.88Z" fill="#7ba8ca"/>
<path d="M1372.21 1733.14V1764.88H1337.28Z" fill="#7ba8ca"/>
<path d="M1372.21 1733.14H1407.14L1372.21 1764.88Z" fill="#25537c"/>
<path d="M1407.14 1733.14V1764.88H1372.21Z" fill="#2f7cb0"/>
<path d="M1407.14 1733.14H1442.07L1407.14 1764.88Z" fill="#25537c"/>
<path d="M1442.07 1733.14V1764.88H1407.14Z" fill="#5a98bf"/>
<path d="M429.1 1764.88H464.03L429.1 1796.62Z" fill="#25537c"/>
<path d="M464.03 1764.88V1796.62H429.1Z" fill="#9ab3d4"/>
<path d="M464.03 1764.88H498.96L464.03 1796.62Z" fill="#25537c"/>
<path d="M498.96 1764.88V1796.62H464.03Z" fill="#9ab3d4"/>
<path d="M568.82 1764.88H603.75L568.82 1796.62Z" fill="#7ba8ca"/>
<path d="M603.75 1764.88V1796.62H568.82Z" fill="#7ba8ca"/>
<path d="M603.75 1764.88H638.68L603.75 1796.62Z" fill="#2f7cb0"/>
<path d="M638.68 1764.88V1796.62H603.75Z" fill="#3f8ab5"/>
<path d="M673.61 1764.88H708.54L673.61 1796.62Z" fill="#3f8ab5"/>
<path d="M708.54 1764.88V1796.62H673.61Z" fill="#7ba8ca"/>
<path d="M708.54 1764.88H743.47L708.54 1796.62Z" fill="#7ba8ca"/>
<path d="M743.47 1764.88V1796.62H708.54Z" fill="#9ab3d4"/>
<path d="M813.33 1764.88H848.26L813.33 1796.62Z" fill="#25537c"/>
<path d="M848.26 1764.88V1796.62H813.33Z" fill="#2f7cb0"/>
<path d="M848.26 1764.88H883.19L848.26 1796.62Z" fill="#25537c"/>
<path d="M883.19 1764.88V1796.62H848.26Z" fill="#2f7cb0"/>
<path d="M883.19 1764.88H918.12L883.19 1796.62Z" fill="#25537c"/>
<path d="M918.12 1764.88V1796.62H883.19Z" fill="#2f7cb0"/>
<path d="M918.12 1764.88H953.05L918.12 1796.62Z" fill="#25537c"/>
<path d="M953.05 1764.88V1796.62H918.12Z" fill="#25537c"/>
<path d="M953.05 1764.88H987.98L953.05 1796.62Z" fill="#25537c"/>
<path d="M987.98 1764.88V1796.62H953.05Z" fill="#25537c"/>
<path d="M987.98 1764.88H1022.91L987.98 1796.62Z" fill="#3f8ab5"/>
<path d="M1022.91 1764.88V1796.62H987.98Z" fill="#bcc4de"/>
<path d="M1022.91 1764.88H1057.84L1022.91 1796.62Z" fill="#25537c"/>
<path d="M1057.84 1764.88V1796.62H1022.91Z" fill="#5a98bf"/>
<path d="M1057.84 1764.88H1092.77L1057.84 1796.62Z" fill="#7ba8ca"/>
<path d="M1092.77 1764.88V1796.62H1057.84Z" fill="#bcc4de"/>
<path d="M1092.77 1764.88H1127.7L1092.77 1796.62Z" fill="#3f8ab5"/>
<path d="M1127.7 1764.88V1796.62H1092.77Z" fill="#7ba8ca"/>
<path d="M1162.63 1764.88H1197.56L1162.63 1796.62Z" fill="#3f8ab5"/>
<path d="M1197.56 1764.88V1796.62H1162.63Z" fill="#9ab3d4"/>
<path d="M1267.42 1764.88H1302.35L1267.42 1796.62Z" fill="#bcc4de"/>
<path d="M1302.35 1764.88V1796.62H1267.42Z" fill="#ebe5f0"/>
<path d="M1302.35 1764.88H1337.28L1302.35 1796.62Z" fill="#7ba8ca"/>
<path d="M1337.28 1764.88V1796.62H1302.35Z" fill="#d6d6e8"/>
<path d="M1337.28 1764.88H1372.21L1337.28 1796.62Z" fill="#7ba8ca"/>
<path d="M1372.21 1764.88V1796.62H1337.28Z" fill="#d6d6e8"/>
<path d="M429.1 1796.62H464.03L429.1 1828.36Z" fill="#25537c"/>
<path d="M464.03 1796.62V1828.36H429.1Z" fill="#9ab3d4"/>
<path d="M464.03 1796.62H498.96L464.03 1828.36Z" fill="#25537c"/>
<path d="M498.96 1796.62V1828.36H464.03Z" fill="#2f7cb0"/>
<path d="M568.82 1796.62H603.75L568.82 1828.36Z" fill="#7ba8ca"/>
<path d="M603.75 1796.62V1828.36H568.82Z" fill="#7ba8ca"/>
<path d="M603.75 1796.62H638.68L603.75 1828.36Z" fill="#3f8ab5"/>
<path d="M638.68 1796.62V1828.36H603.75Z" fill="#9ab3d4"/>
<path d="M673.61 1796.62H708.54L673.61 1828.36Z" fill="#3f8ab5"/>
<path d="M708.54 1796.62V1828.36H673.61Z" fill="#bcc4de"/>
<path d="M778.4 1796.62H813.33L778.4 1828.36Z" fill="#25537c"/>
<path d="M813.33 1796.62V1828.36H778.4Z" fill="#ebe5f0"/>
<path d="M813.33 1796.62H848.26L813.33 1828.36Z" fill="#2a6da3"/>
<path d="M848.26 1796.62V1828.36H813.33Z" fill="#5a98bf"/>
<path d="M848.26 1796.62H883.19L848.26 1828.36Z" fill="#2a6da3"/>
<path d="M883.19 1796.62V1828.36H848.26Z" fill="#7ba8ca"/>
<path d="M883.19 1796.62H918.12L883.19 1828.36Z" fill="#25537c"/>
<path d="M918.12 1796.62V1828.36H883.19Z" fill="#7ba8ca"/>
<path d="M918.12 1796.62H953.05L918.12 1828.36Z" fill="#25537c"/>
<path d="M953.05 1796.62V1828.36H918.12Z" fill="#2f7cb0"/>
<path d="M953.05 1796.62H987.98L953.05 1828.36Z" fill="#25537c"/>
<path d="M987.98 1796.62V1828.36H953.05Z" fill="#9ab3d4"/>
<path d="M987.98 1796.62H1022.91L987.98 1828.36Z" fill="#25537c"/>
<path d="M1022.91 1796.62V1828.36H987.98Z" fill="#ebe5f0"/>
<path d="M1022.91 1796.62H1057.84L1022.91 1828.36Z" fill="#25537c"/>
<path d="M1057.84 1796.62V1828.36H1022.91Z" fill="#d6d6e8"/>
<path d="M1092.77 1796.62H1127.7L1092.77 1828.36Z" fill="#bcc4de"/>
<path d="M1127.7 1796.62V1828.36H1092.77Z" fill="#d6d6e8"/>
<path d="M1162.63 1796.62H1197.56L1162.63 1828.36Z" fill="#3f8ab5"/>
<path d="M1197.56 1796.62V1828.36H1162.63Z" fill="#9ab3d4"/>
<path d="M1197.56 1796.62H1232.49L1197.56 1828.36Z" fill="#25537c"/>
<path d="M1232.49 1796.62V1828.36H1197.56Z" fill="#ebe5f0"/>
<path d="M1302.35 1796.62H1337.28L1302.35 1828.36Z" fill="#2f7cb0"/>
<path d="M1337.28 1796.62V1828.36H1302.35Z" fill="#bcc4de"/>
<path d="M1337.28 1796.62H1372.21L1337.28 1828.36Z" fill="#25537c"/>
<path d="M1372.21 1796.62V1828.36H1337.28Z" fill="#9ab3d4"/>
<path d="M1372.21 1796.62H1407.14L1372.21 1828.36Z" fill="#25537c"/>
<path d="M1407.14 1796.62V1828.36H1372.21Z" fill="#7ba8ca"/>
<path d="M1407.14 1796.62H1442.07L1407.14 1828.36Z" fill="#bcc4de"/>
<path d="M1442.07 1796.62V1828.36H1407.14Z" fill="#d6d6e8"/>
<path d="M429.1 1828.36H464.03L429.1 1860.1Z" fill="#25537c"/>
<path d="M464.03 1828.36V1860.1H429.1Z" fill="#d6d6e8"/>
<path d="M568.82 1828.36H603.75L568.82 1860.1Z" fill="#7ba8ca"/>
<path d="M603.75 1828.36V1860.1H568.82Z" fill="#9ab3d4"/>
<path d="M603.75 1828.36H638.68L603.75 1860.1Z" fill="#2f7cb0"/>
<path d="M638.68 1828.36V1860.1H603.75Z" fill="#5a98bf"/>
<path d="M673.61 1828.36H708.54L673.61 1860.1Z" fill="#3f8ab5"/>
<path d="M708.54 1828.36V1860.1H673.61Z" fill="#7ba8ca"/>
<path d="M813.33 1828.36H848.26L813.33 1860.1Z" fill="#25537c"/>
<path d="M848.26 1828.36V1860.1H813.33Z" fill="#2a6da3"/>
<path d="M848.26 1828.36H883.19L848.26 1860.1Z" fill="#25537c"/>
<path d="M883.19 1828.36V1860.1H848.26Z" fill="#2f7cb0"/>
<path d="M883.19 1828.36H918.12L883.19 1860.1Z" fill="#7ba8ca"/>
<path d="M918.12 1828.36V1860.1H883.19Z" fill="#bcc4de"/>
<path d="M918.12 1828.36H953.05L918.12 1860.1Z" fill="#25537c"/>
<path d="M953.05 1828.36V1860.1H918.12Z" fill="#2f7cb0"/>
<path d="M953.05 1828.36H987.98L953.05 1860.1Z" fill="#25537c"/>
<path d="M987.98 1828.36V1860.1H953.05Z" fill="#25537c"/>
<path d="M987.98 1828.36H1022.91L987.98 1860.1Z" fill="#3f8ab5"/>
<path d="M1022.91 1828.36V1860.1H987.98Z" fill="#d6d6e8"/>
<path d="M1022.91 1828.36H1057.84L1022.91 1860.1Z" fill="#25537c"/>
<path d="M1057.84 1828.36V1860.1H1022.91Z" fill="#2a6da3"/>
<path d="M1057.84 1828.36H1092.77L1057.84 1860.1Z" fill="#7ba8ca"/>
<path d="M1092.77 1828.36V1860.1H1057.84Z" fill="#ebe5f0"/>
<path d="M1092.77 1828.36H1127.7L1092.77 1860.1Z" fill="#3f8ab5"/>
<path d="M1127.7 1828.36V1860.1H1092.77Z" fill="#9ab3d4"/>
<path d="M1127.7 1828.36H1162.63L1127.7 1860.1Z" fill="#bcc4de"/>
<path d="M1162.63 1828.36V1860.1H1127.7Z" fill="#ebe5f0"/>
<path d="M1162.63 1828.36H1197.56L1162.63 1860.1Z" fill="#3f8ab5"/>
<path d="M1197.56 1828.36V1860.1H1162.63Z" fill="#9ab3d4"/>
<path d="M1302.35 1828.36H1337.28L1302.35 1860.1Z" fill="#7ba8ca"/>
<path d="M1337.28 1828.36V1860.1H1302.35Z" fill="#ebe5f0"/>
<path d="M1337.28 1828.36H1372.21L1337.28 1860.1Z" fill="#25537c"/>
<path d="M1372.21 1828.36V1860.1H1337.28Z" fill="#7ba8ca"/>
<path d="M429.1 1860.1H464.03L429.1 1891.84Z" fill="#25537c"/>
<path d="M464.03 1860.1V1891.84H429.1Z" fill="#2f7cb0"/>
<path d="M464.03 1860.1H498.96L464.03 1891.84Z" fill="#25537c"/>
<path d="M498.96 1860.1V1891.84H464.03Z" fill="#7ba8ca"/>
<path d="M568.82 1860.1H603.75L568.82 1891.84Z" fill="#2f7cb0"/>
<path d="M603.75 1860.1V1891.84H568.82Z" fill="#9ab3d4"/>
<path d="M603.75 1860.1H638.68L603.75 1891.84Z" fill="#3f8ab5"/>
<path d="M638.68 1860.1V1891.84H603.75Z" fill="#5a98bf"/>
<path d="M673.61 1860.1H708.54L673.61 1891.84Z" fill="#3f8ab5"/>
<path d="M708.54 1860.1V1891.84H673.61Z" fill="#9ab3d4"/>
<path d="M743.47 1860.1H778.4L743.47 1891.84Z" fill="#25537c"/>
<path d="M778.4 1860.1V1891.84H743.47Z" fill="#2f7cb0"/>
<path d="M778.4 1860.1H813.33L778.4 1891.84Z" fill="#25537c"/>
<path d="M813.33 1860.1V1891.84H778.4Z" fill="#bcc4de"/>
<path d="M813.33 1860.1H848.26L813.33 1891.84Z" fill="#25537c"/>
<path d="M848.26 1860.1V1891.84H813.33Z" fill="#2f7cb0"/>
<path d="M848.26 1860.1H883.19L848.26 1891.84Z" fill="#25537c"/>
<path d="M883.19 1860.1V1891.84H848.26Z" fill="#2f7cb0"/>
<path d="M883.19 1860.1H918.12L883.19 1891.84Z" fill="#25537c"/>
<path d="M918.12 1860.1V1891.84H883.19Z" fill="#7ba8ca"/>
<path d="M918.12 1860.1H953.05L918.12 1891.84Z" fill="#25537c"/>
<path d="M953.05 1860.1V1891.84H918.12Z" fill="#25537c"/>
<path d="M953.05 1860.1H987.98L953.05 1891.84Z" fill="#25537c"/>
<path d="M987.98 1860.1V1891.84H953.05Z" fill="#25537c"/>
<path d="M987.98 1860.1H1022.91L987.98 1891.84Z" fill="#25537c"/>
<path d="M1022.91 1860.1V1891.84H987.98Z" fill="#2a6da3"/>
<path d="M1022.91 1860.1H1057.84L1022.91 1891.84Z" fill="#25537c"/>
<path d="M1057.84 1860.1V1891.84H1022.91Z" fill="#2f7cb0"/>
<path d="M1057.84 1860.1H1092.77L1057.84 1891.84Z" fill="#7ba8ca"/>
<path d="M1092.77 1860.1V1891.84H1057.84Z" fill="#9ab3d4"/>
<path d="M1092.77 1860.1H1127.7L1092.77 1891.84Z" fill="#25537c"/>
<path d="M1127.7 1860.1V1891.84H1092.77Z" fill="#5a98bf"/>
<path d="M1127.7 1860.1H1162.63L1127.7 1891.84Z" fill="#25537c"/>
<path d="M1162.63 1860.1V1891.84H1127.7Z" fill="#d6d6e8"/>
<path d="M1162.63 1860.1H1197.56L1162.63 1891.84Z" fill="#25537c"/>
<path d="M1197.56 1860.1V1891.84H1162.63Z" fill="#2a6da3"/>
<path d="M1197.56 1860.1H1232.49L1197.56 1891.84Z" fill="#25537c"/>
<path d="M1232.49 1860.1V1891.84H1197.56Z" fill="#d6d6e8"/>
<path d="M1267.42 1860.1H1302.35L1267.42 1891.84Z" fill="#bcc4de"/>
<path d="M1302.35 1860.1V1891.84H1267.42Z" fill="#ebe5f0"/>
<path d="M1302.35 1860.1H1337.28L1302.35 1891.84Z" fill="#25537c"/>
<path d="M1337.28 1860.1V1891.84H1302.35Z" fill="#7ba8ca"/>
<path d="M1337.28 1860.1H1372.21L1337.28 1891.84Z" fill="#25537c"/>
<path d="M1372.21 1860.1V1891.84H1337.28Z" fill="#3f8ab5"/>
<path d="M464.03 1891.84H498.96L464.03 1923.58Z" fill="#25537c"/>
<path d="M498.96 1891.84V1923.58H464.03Z" fill="#7ba8ca"/>
<path d="M568.82 1891.84H603.75L568.82 1923.58Z" fill="#2f7cb0"/>
<path d="M603.75 1891.84V1923.58H568.82Z" fill="#7ba8ca"/>
<path d="M603.75 1891.84H638.68L603.75 1923.58Z" fill="#9ab3d4"/>
<path d="M638.68 1891.84V1923.58H603.75Z" fill="#bcc4de"/>
<path d="M638.68 1891.84H673.61L638.68 1923.58Z" fill="#7ba8ca"/>
<path d="M673.61 1891.84V1923.58H638.68Z" fill="#9ab3d4"/>
<path d="M673.61 1891.84H708.54L673.61 1923.58Z" fill="#3f8ab5"/>
<path d="M708.54 1891.84V1923.58H673.61Z" fill="#bcc4de"/>
<path d="M708.54 1891.84H743.47L708.54 1923.58Z" fill="#25537c"/>
<path d="M743.47 1891.84V1923.58H708.54Z" fill="#2a6da3"/>
<path d="M813.33 1891.84H848.26L813.33 1923.58Z" fill="#2f7cb0"/>
<path d="M848.26 1891.84V1923.58H813.33Z" fill="#5a98bf"/>
<path d="M848.26 1891.84H883.19L848.26 1923.58Z" fill="#5a98bf"/>
<path d="M883.19 1891.84V1923.58H848.26Z" fill="#7ba8ca"/>
<path d="M883.19 1891.84H918.12L883.19 1923.58Z" fill="#25537c"/>
<path d="M918.12 1891.84V1923.58H883.19Z" fill="#5a98bf"/>
<path d="M918.12 1891.84H953.05L918.12 1923.58Z" fill="#25537c"/>
<path d="M953.05 1891.84V1923.58H918.12Z" fill="#7ba8ca"/>
<path d="M953.05 1891.84H987.98L953.05 1923.58Z" fill="#25537c"/>
<path d="M987.98 1891.84V1923.58H953.05Z" fill="#7ba8ca"/>
<path d="M1057.84 1891.84H1092.77L1057.84 1923.58Z" fill="#25537c"/>
<path d="M1092.77 1891.84V1923.58H1057.84Z" fill="#5a98bf"/>
<path d="M1092.77 1891.84H1127.7L1092.77 1923.58Z" fill="#3f8ab5"/>
<path d="M1127.7 1891.84V1923.58H1092.77Z" fill="#7ba8ca"/>
<path d="M1162.63 1891.84H1197.56L1162.63 1923.58Z" fill="#3f8ab5"/>
<path d="M1197.56 1891.84V1923.58H1162.63Z" fill="#9ab3d4"/>
<path d="M1302.35 1891.84H1337.28L1302.35 1923.58Z" fill="#7ba8ca"/>
<path d="M1337.28 1891.84V1923.58H1302.35Z" fill="#bcc4de"/>
<path d="M1337.28 1891.84H1372.21L1337.28 1923.58Z" fill="#7ba8ca"/>
<path d="M1372.21 1891.84V1923.58H1337.28Z" fill="#bcc4de"/>
<path d="M429.1 1923.58H464.03L429.1 1955.32Z" fill="#25537c"/>
<path d="M464.03 1923.58V1955.32H429.1Z" fill="#25537c"/>
<path d="M568.82 1923.58H603.75L568.82 1955.32Z" fill="#7ba8ca"/>
<path d="M603.75 1923.58V1955.32H568.82Z" fill="#7ba8ca"/>
<path d="M603.75 1923.58H638.68L603.75 1955.32Z" fill="#7ba8ca"/>
<path d="M638.68 1923.58V1955.32H603.75Z" fill="#7ba8ca"/>
<path d="M813.33 1923.58H848.26L813.33 1955.32Z" fill="#7ba8ca"/>
<path d="M848.26 1923.58V1955.32H813.33Z" fill="#7ba8ca"/>
<path d="M848.26 1923.58H883.19L848.26 1955.32Z" fill="#5a98bf"/>
<path d="M883.19 1923.58V1955.32H848.26Z" fill="#5a98bf"/>
<path d="M953.05 1923.58H987.98L953.05 1955.32Z" fill="#25537c"/>
<path d="M987.98 1923.58V1955.32H953.05Z" fill="#25537c"/>
<path d="M987.98 1923.58H1022.91L987.98 1955.32Z" fill="#bcc4de"/>
<path d="M1022.91 1923.58V1955.32H987.98Z" fill="#9ab3d4"/>
<path d="M1057.84 1923.58H1092.77L1057.84 1955.32Z" fill="#25537c"/>
<path d="M1092.77 1923.58V1955.32H1057.84Z" fill="#25537c"/>
<path d="M1092.77 1923.58H1127.7L1092.77 1955.32Z" fill="#3f8ab5"/>
<path d="M1127.7 1923.58V1955.32H1092.77Z" fill="#3f8ab5"/>
<path d="M1127.7 1923.58H1162.63L1127.7 1955.32Z" fill="#9ab3d4"/>
<path d="M1162.63 1923.58V1955.32H1127.7Z" fill="#bcc4de"/>
<path d="M1407.14 1923.58H1442.07L1407.14 1955.32Z" fill="#bcc4de"/>
<path d="M1442.07 1923.58V1955.32H1407.14Z" fill="#bcc4de"/>
<path d="M429.1 1955.32H464.03L429.1 1987.06Z" fill="#25537c"/>
<path d="M464.03 1955.32V1987.06H429.1Z" fill="#bcc4de"/>
<path d="M568.82 1955.32H603.75L568.82 1987.06Z" fill="#7ba8ca"/>
<path d="M603.75 1955.32V1987.06H568.82Z" fill="#d6d6e8"/>
<path d="M603.75 1955.32H638.68L603.75 1987.06Z" fill="#5a98bf"/>
<path d="M638.68 1955.32V1987.06H603.75Z" fill="#7ba8ca"/>
<path d="M673.61 1955.32H708.54L673.61 1987.06Z" fill="#bcc4de"/>
<path d="M708.54 1955.32V1987.06H673.61Z" fill="#ebe5f0"/>
<path d="M778.4 1955.32H813.33L778.4 1987.06Z" fill="#d6d6e8"/>
<path d="M813.33 1955.32V1987.06H778.4Z" fill="#ebe5f0"/>
<path d="M813.33 1955.32H848.26L813.33 1987.06Z" fill="#2f7cb0"/>
<path d="M848.26 1955.32V1987.06H813.33Z" fill="#7ba8ca"/>
<path d="M848.26 1955.32H883.19L848.26 1987.06Z" fill="#3f8ab5"/>
<path d="M883.19 1955.32V1987.06H848.26Z" fill="#3f8ab5"/>
<path d="M883.19 1955.32H918.12L883.19 1987.06Z" fill="#25537c"/>
<path d="M918.12 1955.32V1987.06H883.19Z" fill="#7ba8ca"/>
<path d="M918.12 1955.32H953.05L918.12 1987.06Z" fill="#25537c"/>
<path d="M953.05 1955.32V1987.06H918.12Z" fill="#7ba8ca"/>
<path d="M953.05 1955.32H987.98L953.05 1987.06Z" fill="#25537c"/>
<path d="M987.98 1955.32V1987.06H953.05Z" fill="#7ba8ca"/>
<path d="M987.98 1955.32H1022.91L987.98 1987.06Z" fill="#3f8ab5"/>
<path d="M1022.91 1955.32V1987.06H987.98Z" fill="#9ab3d4"/>
<path d="M1092.77 1955.32H1127.7L1092.77 1987.06Z" fill="#bcc4de"/>
<path d="M1127.7 1955.32V1987.06H1092.77Z" fill="#d6d6e8"/>
<path d="M1127.7 1955.32H1162.63L1127.7 1987.06Z" fill="#3f8ab5"/>
<path d="M1162.63 1955.32V1987.06H1127.7Z" fill="#9ab3d4"/>
<path d="M1162.63 1955.32H1197.56L1162.63 1987.06Z" fill="#25537c"/>
<path d="M1197.56 1955.32V1987.06H1162.63Z" fill="#5a98bf"/>
<path d="M568.82 1987.06H603.75L568.82 2018.8Z" fill="#7ba8ca"/>
<path d="M603.75 1987.06V2018.8H568.82Z" fill="#9ab3d4"/>
<path d="M603.75 1987.06H638.68L603.75 2018.8Z" fill="#5a98bf"/>
<path d="M638.68 1987.06V2018.8H603.75Z" fill="#7ba8ca"/>
<path d="M673.61 1987.06H708.54L673.61 2018.8Z" fill="#3f8ab5"/>
<path d="M708.54 1987.06V2018.8H673.61Z" fill="#9ab3d4"/>
<path d="M708.54 1987.06H743.47L708.54 2018.8Z" fill="#bcc4de"/>
<path d="M743.47 1987.06V2018.8H708.54Z" fill="#d6d6e8"/>
<path d="M813.33 1987.06H848.26L813.33 2018.8Z" fill="#2f7cb0"/>
<path d="M848.26 1987.06V2018.8H813.33Z" fill="#3f8ab5"/>
<path d="M848.26 1987.06H883.19L848.26 2018.8Z" fill="#3f8ab5"/>
<path d="M883.19 1987.06V2018.8H848.26Z" fill="#9ab3d4"/>
<path d="M883.19 1987.06H918.12L883.19 2018.8Z" fill="#7ba8ca"/>
<path d="M918.12 1987.06V2018.8H883.19Z" fill="#7ba8ca"/>
<path d="M918.12 1987.06H953.05L918.12 2018.8Z" fill="#25537c"/>
<path d="M953.05 1987.06V2018.8H918.12Z" fill="#7ba8ca"/>
<path d="M953.05 1987.06H987.98L953.05 2018.8Z" fill="#25537c"/>
<path d="M987.98 1987.06V2018.8H953.05Z" fill="#25537c"/>
<path d="M987.98 1987.06H1022.91L987.98 2018.8Z" fill="#bcc4de"/>
<path d="M1022.91 1987.06V2018.8H987.98Z" fill="#d6d6e8"/>
<path d="M1022.91 1987.06H1057.84L1022.91 2018.8Z" fill="#25537c"/>
<path d="M1057.84 1987.06V2018.8H1022.91Z" fill="#2f7cb0"/>
<path d="M1057.84 1987.06H1092.77L1057.84 2018.8Z" fill="#7ba8ca"/>
<path d="M1092.77 1987.06V2018.8H1057.84Z" fill="#d6d6e8"/>
<path d="M1092.77 1987.06H1127.7L1092.77 2018.8Z" fill="#bcc4de"/>
<path d="M1127.7 1987.06V2018.8H1092.77Z" fill="#d6d6e8"/>
<path d="M1127.7 1987.06H1162.63L1127.7 2018.8Z" fill="#bcc4de"/>
<path d="M1162.63 1987.06V2018.8H1127.7Z" fill="#d6d6e8"/>
<path d="M1162.63 1987.06H1197.56L1162.63 2018.8Z" fill="#3f8ab5"/>
<path d="M1197.56 1987.06V2018.8H1162.63Z" fill="#bcc4de"/>
<path d="M1232.49 1987.06H1267.42L1232.49 2018.8Z" fill="#7ba8ca"/>
<path d="M1267.42 1987.06V2018.8H1232.49Z" fill="#bcc4de"/>
<path d="M1267.42 1987.06H1302.35L1267.42 2018.8Z" fill="#bcc4de"/>
<path d="M1302.35 1987.06V2018.8H1267.42Z" fill="#d6d6e8"/>
<path d="M429.1 2018.8H464.03L429.1 2050.54Z" fill="#25537c"/>
<path d="M464.03 2018.8V2050.54H429.1Z" fill="#3f8ab5"/>
<path d="M464.03 2018.8H498.96L464.03 2050.54Z" fill="#25537c"/>
<path d="M498.96 2018.8V2050.54H464.03Z" fill="#bcc4de"/>
<path d="M568.82 2018.8H603.75L568.82 2050.54Z" fill="#7ba8ca"/>
<path d="M603.75 2018.8V2050.54H568.82Z" fill="#9ab3d4"/>
<path d="M603.75 2018.8H638.68L603.75 2050.54Z" fill="#2f7cb0"/>
<path d="M638.68 2018.8V2050.54H603.75Z" fill="#3f8ab5"/>
<path d="M743.47 2018.8H778.4L743.47 2050.54Z" fill="#7ba8ca"/>
<path d="M778.4 2018.8V2050.54H743.47Z" fill="#d6d6e8"/>
<path d="M778.4 2018.8H813.33L778.4 2050.54Z" fill="#25537c"/>
<path d="M813.33 2018.8V2050.54H778.4Z" fill="#7ba8ca"/>
<path d="M813.33 2018.8H848.26L813.33 2050.54Z" fill="#2a6da3"/>
<path d="M848.26 2018.8V2050.54H813.33Z" fill="#2f7cb0"/>
<path d="M848.26 2018.8H883.19L848.26 2050.54Z" fill="#25537c"/>
<path d="M883.19 2018.8V2050.54H848.26Z" fill="#2a6da3"/>
<path d="M883.19 2018.8H918.12L883.19 2050.54Z" fill="#25537c"/>
<path d="M918.12 2018.8V2050.54H883.19Z" fill="#2f7cb0"/>
<path d="M918.12 2018.8H953.05L918.12 2050.54Z" fill="#25537c"/>
<path d="M953.05 2018.8V2050.54H918.12Z" fill="#25537c"/>
<path d="M953.05 2018.8H987.98L953.05 2050.54Z" fill="#25537c"/>
<path d="M987.98 2018.8V2050.54H953.05Z" fill="#25537c"/>
<path d="M987.98 2018.8H1022.91L987.98 2050.54Z" fill="#3f8ab5"/>
<path d="M1022.91 2018.8V2050.54H987.98Z" fill="#3f8ab5"/>
<path d="M1057.84 2018.8H1092.77L1057.84 2050.54Z" fill="#7ba8ca"/>
<path d="M1092.77 2018.8V2050.54H1057.84Z" fill="#d6d6e8"/>
<path d="M1162.63 2018.8H1197.56L1162.63 2050.54Z" fill="#25537c"/>
<path d="M1197.56 2018.8V2050.54H1162.63Z" fill="#3f8ab5"/>
<path d="M429.1 2050.54H464.03L429.1 2082.28Z" fill="#25537c"/>
<path d="M464.03 2050.54V2082.28H429.1Z" fill="#25537c"/>
<path d="M568.82 2050.54H603.75L568.82 2082.28Z" fill="#7ba8ca"/>
<path d="M603.75 2050.54V2082.28H568.82Z" fill="#7ba8ca"/>
<path d="M603.75 2050.54H638.68L603.75 2082.28Z" fill="#3f8ab5"/>
<path d="M638.68 2050.54V2082.28H603.75Z" fill="#3f8ab5"/>
<path d="M673.61 2050.54H708.54L673.61 2082.28Z" fill="#bcc4de"/>
<path d="M708.54 2050.54V2082.28H673.61Z" fill="#bcc4de"/>
<path d="M778.4 2050.54H813.33L778.4 2082.28Z" fill="#25537c"/>
<path d="M813.33 2050.54V2082.28H778.4Z" fill="#25537c"/>
<path d="M813.33 2050.54H848.26L813.33 2082.28Z" fill="#2f7cb0"/>
<path d="M848.26 2050.54V2082.28H813.33Z" fill="#2f7cb0"/>
<path d="M848.26 2050.54H883.19L848.26 2082.28Z" fill="#25537c"/>
<path d="M883.19 2050.54V2082.28H848.26Z" fill="#25537c"/>
<path d="M883.19 2050.54H918.12L883.19 2082.28Z" fill="#25537c"/>
<path d="M918.12 2050.54V2082.28H883.19Z" fill="#25537c"/>
<path d="M918.12 2050.54H953.05L918.12 2082.28Z" fill="#25537c"/>
<path d="M953.05 2050.54V2082.28H918.12Z" fill="#25537c"/>
<path d="M953.05 2050.54H987.98L953.05 2082.28Z" fill="#25537c"/>
<path d="M987.98 2050.54V2082.28H953.05Z" fill="#25537c"/>
<path d="M987.98 2050.54H1022.91L987.98 2082.28Z" fill="#25537c"/>
<path d="M1022.91 2050.54V2082.28H987.98Z" fill="#25537c"/>
<path d="M1092.77 2050.54H1127.7L1092.77 2082.28Z" fill="#bcc4de"/>
<path d="M1127.7 2050.54V2082.28H1092.77Z" fill="#bcc4de"/>
<path d="M1162.63 2050.54H1197.56L1162.63 2082.28Z" fill="#3f8ab5"/>
<path d="M1197.56 2050.54V2082.28H1162.63Z" fill="#3f8ab5"/>
<path d="M1372.21 2050.54H1407.14L1372.21 2082.28Z" fill="#25537c"/>
<path d="M1407.14 2050.54V2082.28H1372.21Z" fill="#25537c"/>
<path d="M429.1 2082.28H464.03L429.1 2114.02Z" fill="#25537c"/>
<path d="M464.03 2082.28V2114.02H429.1Z" fill="#bcc4de"/>
<path d="M568.82 2082.28H603.75L568.82 2114.02Z" fill="#7ba8ca"/>
<path d="M603.75 2082.28V2114.02H568.82Z" fill="#7ba8ca"/>
<path d="M603.75 2082.28H638.68L603.75 2114.02Z" fill="#3f8ab5"/>
<path d="M638.68 2082.28V2114.02H603.75Z" fill="#7ba8ca"/>
<path d="M813.33 2082.28H848.26L813.33 2114.02Z" fill="#2f7cb0"/>
<path d="M848.26 2082.28V2114.02H813.33Z" fill="#2f7cb0"/>
<path d="M848.26 2082.28H883.19L848.26 2114.02Z" fill="#3f8ab5"/>
<path d="M883.19 2082.28V2114.02H848.26Z" fill="#5a98bf"/>
<path d="M883.19 2082.28H918.12L883.19 2114.02Z" fill="#7ba8ca"/>
<path d="M918.12 2082.28V2114.02H883.19Z" fill="#d6d6e8"/>
<path d="M953.05 2082.28H987.98L953.05 2114.02Z" fill="#25537c"/>
<path d="M987.98 2082.28V2114.02H953.05Z" fill="#3f8ab5"/>
<path d="M987.98 2082.28H1022.91L987.98 2114.02Z" fill="#3f8ab5"/>
<path d="M1022.91 2082.28V2114.02H987.98Z" fill="#5a98bf"/>
<path d="M1127.7 2082.28H1162.63L1127.7 2114.02Z" fill="#3f8ab5"/>
<path d="M1162.63 2082.28V2114.02H1127.7Z" fill="#9ab3d4"/>
<path d="M1162.63 2082.28H1197.56L1162.63 2114.02Z" fill="#3f8ab5"/>
<path d="M1197.56 2082.28V2114.02H1162.63Z" fill="#bcc4de"/>
<path d="M429.1 2114.02H464.03L429.1 2145.76Z" fill="#25537c"/>
<path d="M464.03 2114.02V2145.76H429.1Z" fill="#25537c"/>
<path d="M464.03 2114.02H498.96L464.03 2145.76Z" fill="#25537c"/>
<path d="M498.96 2114.02V2145.76H464.03Z" fill="#bcc4de"/>
<path d="M568.82 2114.02H603.75L568.82 2145.76Z" fill="#2f7cb0"/>
<path d="M603.75 2114.02V2145.76H568.82Z" fill="#2f7cb0"/>
<path d="M603.75 2114.02H638.68L603.75 2145.76Z" fill="#3f8ab5"/>
<path d="M638.68 2114.02V2145.76H603.75Z" fill="#7ba8ca"/>
<path d="M673.61 2114.02H708.54L673.61 2145.76Z" fill="#3f8ab5"/>
<path d="M708.54 2114.02V2145.76H673.61Z" fill="#9ab3d4"/>
<path d="M813.33 2114.02H848.26L813.33 2145.76Z" fill="#25537c"/>
<path d="M848.26 2114.02V2145.76H813.33Z" fill="#25537c"/>
<path d="M848.26 2114.02H883.19L848.26 2145.76Z" fill="#25537c"/>
<path d="M883.19 2114.02V2145.76H848.26Z" fill="#2f7cb0"/>
<path d="M883.19 2114.02H918.12L883.19 2145.76Z" fill="#25537c"/>
<path d="M918.12 2114.02V2145.76H883.19Z" fill="#2f7cb0"/>
<path d="M918.12 2114.02H953.05L918.12 2145.76Z" fill="#25537c"/>
<path d="M953.05 2114.02V2145.76H918.12Z" fill="#3f8ab5"/>
<path d="M953.05 2114.02H987.98L953.05 2145.76Z" fill="#25537c"/>
<path d="M987.98 2114.02V2145.76H953.05Z" fill="#25537c"/>
<path d="M987.98 2114.02H1022.91L987.98 2145.76Z" fill="#25537c"/>
<path d="M1022.91 2114.02V2145.76H987.98Z" fill="#25537c"/>
<path d="M1022.91 2114.02H1057.84L1022.91 2145.76Z" fill="#25537c"/>
<path d="M1057.84 2114.02V2145.76H1022.91Z" fill="#3f8ab5"/>
<path d="M1057.84 2114.02H1092.77L1057.84 2145.76Z" fill="#25537c"/>
<path d="M1092.77 2114.02V2145.76H1057.84Z" fill="#2f7cb0"/>
<path d="M1092.77 2114.02H1127.7L1092.77 2145.76Z" fill="#25537c"/>
<path d="M1127.7 2114.02V2145.76H1092.77Z" fill="#2a6da3"/>
<path d="M1162.63 2114.02H1197.56L1162.63 2145.76Z" fill="#25537c"/>
<path d="M1197.56 2114.02V2145.76H1162.63Z" fill="#2f7cb0"/>
<path d="M1267.42 2114.02H1302.35L1267.42 2145.76Z" fill="#bcc4de"/>
<path d="M1302.35 2114.02V2145.76H1267.42Z" fill="#d6d6e8"/>
<path d="M1302.35 2114.02H1337.28L1302.35 2145.76Z" fill="#7ba8ca"/>
<path d="M1337.28 2114.02V2145.76H1302.35Z" fill="#d6d6e8"/>
<path d="M1337.28 2114.02H1372.21L1337.28 2145.76Z" fill="#25537c"/>
<path d="M1372.21 2114.02V2145.76H1337.28Z" fill="#2f7cb0"/>
<path d="M568.82 2145.76H603.75L568.82 2177.5Z" fill="#7ba8ca"/>
<path d="M603.75 2145.76V2177.5H568.82Z" fill="#7ba8ca"/>
<path d="M673.61 2145.76H708.54L673.61 2177.5Z" fill="#3f8ab5"/>
<path d="M708.54 2145.76V2177.5H673.61Z" fill="#3f8ab5"/>
<path d="M813.33 2145.76H848.26L813.33 2177.5Z" fill="#2a6da3"/>
<path d="M848.26 2145.76V2177.5H813.33Z" fill="#2a6da3"/>
<path d="M1022.91 2145.76H1057.84L1022.91 2177.5Z" fill="#25537c"/>
<path d="M1057.84 2145.76V2177.5H1022.91Z" fill="#3f8ab5"/>
<path d="M1162.63 2145.76H1197.56L1162.63 2177.5Z" fill="#bcc4de"/>
<path d="M1197.56 2145.76V2177.5H1162.63Z" fill="#bcc4de"/>
<path d="M464.03 1701.4V2177.5M498.96 1701.4V2177.5M533.89 1701.4V2177.5M568.82 1701.4V2177.5M603.75 1701.4V2177.5M638.68 1701.4V2177.5M673.61 1701.4V2177.5M708.54 1701.4V2177.5M743.47 1701.4V2177.5M778.4 1701.4V2177.5M813.33 1701.4V2177.5M848.26 1701.4V2177.5M883.19 1701.4V2177.5M918.12 1701.4V2177.5M953.05 1701.4V2177.5M987.98 1701.4V2177.5M1022.91 1701.4V2177.5M1057.84 1701.4V2177.5M1092.77 1701.4V2177.5M1127.7 1701.4V2177.5M1162.63 1701.4V2177.5M1197.56 1701.4V2177.5M1232.49 1701.4V2177.5M1267.42 1701.4V2177.5M1302.35 1701.4V2177.5M1337.28 1701.4V2177.5M1372.21 1701.4V2177.5M1407.14 1701.4V2177.5M429.1 1733.14H1442.07M429.1 1764.88H1442.07M429.1 1796.62H1442.07M429.1 1828.36H1442.07M429.1 1860.1H1442.07M429.1 1891.84H1442.07M429.1 1923.58H1442.07M429.1 1955.32H1442.07M429.1 1987.06H1442.07M429.1 2018.8H1442.07M429.1 2050.54H1442.07M429.1 2082.28H1442.07M429.1 2114.02H1442.07M429.1 2145.76H1442.07M429.1 1733.14L464.03 1701.4M429.1 1764.88L498.96 1701.4M429.1 1796.62L533.89 1701.4M429.1 1828.36L568.82 1701.4M429.1 1860.1L603.75 1701.4M429.1 1891.84L638.68 1701.4M429.1 1923.58L673.61 1701.4M429.1 1955.32L708.54 1701.4M429.1 1987.06L743.47 1701.4M429.1 2018.8L778.4 1701.4M429.1 2050.54L813.33 1701.4M429.1 2082.28L848.26 1701.4M429.1 2114.02L883.19 1701.4M429.1 2145.76L918.12 1701.4M429.1 2177.5L953.05 1701.4M464.03 2177.5L987.98 1701.4M498.96 2177.5L1022.91 1701.4M533.89 2177.5L1057.84 1701.4M568.82 2177.5L1092.77 1701.4M603.75 2177.5L1127.7 1701.4M638.68 2177.5L1162.63 1701.4M673.61 2177.5L1197.56 1701.4M708.54 2177.5L1232.49 1701.4M743.47 2177.5L1267.42 1701.4M778.4 2177.5L1302.35 1701.4M813.33 2177.5L1337.28 1701.4M848.26 2177.5L1372.21 1701.4M883.19 2177.5L1407.14 1701.4M918.12 2177.5L1442.07 1701.4M953.05 2177.5L1442.07 1733.14M987.98 2177.5L1442.07 1764.88M1022.91 2177.5L1442.07 1796.62M1057.84 2177.5L1442.07 1828.36M1092.77 2177.5L1442.07 1860.1M1127.7 2177.5L1442.07 1891.84M1162.63 2177.5L1442.07 1923.58M1197.56 2177.5L1442.07 1955.32M1232.49 2177.5L1442.07 1987.06M1267.42 2177.5L1442.07 2018.8M1302.35 2177.5L1442.07 2050.54M1337.28 2177.5L1442.07 2082.28M1372.21 2177.5L1442.07 2114.02M1407.14 2177.5L1442.07 2145.76" fill="none" stroke="#999b9d" stroke-width="2"/>
<path d="M421 1701.4H429.1M421 1733.14H429.1M421 1764.88H429.1M421 1796.62H429.1M421 1828.36H429.1M421 1860.1H429.1M421 1891.84H429.1M421 1923.58H429.1M421 1955.32H429.1M421 1987.06H429.1M421 2018.8H429.1M421 2050.54H429.1M421 2082.28H429.1M421 2114.02H429.1M421 2145.76H429.1" fill="none" stroke="#231f20" stroke-width="2.7"/>
<path d="M429.1 2177.5V2180.8M464.03 2177.5V2180.8M498.96 2177.5V2180.8M533.89 2177.5V2180.8M568.82 2177.5V2180.8M603.75 2177.5V2180.8M638.68 2177.5V2180.8M673.61 2177.5V2180.8M708.54 2177.5V2180.8M743.47 2177.5V2180.8M778.4 2177.5V2180.8M813.33 2177.5V2180.8M848.26 2177.5V2180.8M883.19 2177.5V2180.8M918.12 2177.5V2180.8M953.05 2177.5V2180.8M987.98 2177.5V2180.8M1022.91 2177.5V2180.8M1057.84 2177.5V2180.8M1092.77 2177.5V2180.8M1127.7 2177.5V2180.8M1162.63 2177.5V2180.8M1197.56 2177.5V2180.8M1232.49 2177.5V2180.8M1267.42 2177.5V2180.8M1302.35 2177.5V2180.8M1337.28 2177.5V2180.8M1372.21 2177.5V2180.8M1407.14 2177.5V2180.8M398.75 2179V2183.7" fill="none" stroke="#231f20" stroke-width="2.7"/>
<rect x="429.1" y="1701.4" width="1012.97" height="476.1" fill="none" stroke="#231f20" stroke-width="3.1"/>
</g>
<g id="b-rowlab" font-size="24.8" font-weight="bold" text-anchor="end" stroke="#231f20" stroke-width="0.6">
<text x="367" y="755.16">Poseidoniales</text>
<text x="367" y="787.8">Acidimicrobiales</text>
<text x="367" y="821.12">PCC-6307</text>
<text x="367" y="851.16">Pseudomonadales</text>
<text x="367" y="882.08">Puniceispirillales</text>
<text x="367" y="914.31">Pedosphaerales</text>
<text x="367" y="948.1">UBA1151</text>
<text x="367" y="978.27">Sphingomonadales</text>
<text x="367" y="1009.3">Marinisomatales</text>
<text x="367" y="1041.63">SAR324</text>
<text x="367" y="1075.16">Pirellulales</text>
<text x="367" y="1103.1">Verrucomicrobiales</text>
<text x="367" y="1136.33">UBA8231</text>
<text x="367" y="1168.76">UBA8366</text>
<text x="367" y="1196.09">Nanopelagicales</text>
<text x="369.7" y="1238.85">Acidimicrobiales</text>
<text x="369.7" y="1271.45">SAR324</text>
<text x="369.7" y="1304.75">Enterobacterales</text>
<text x="369.7" y="1334.75">Marinisomatales</text>
<text x="369.7" y="1365.65">Pseudomonadales</text>
<text x="369.7" y="1397.85">Pedosphaerales</text>
<text x="369.7" y="1431.6">HIMB59</text>
<text x="369.7" y="1461.75">Poseidoniales</text>
<text x="369.7" y="1492.75">Methylococcales</text>
<text x="369.7" y="1525.05">Nitrososphaerales</text>
<text x="369.7" y="1558.55">Arenicellales</text>
<text x="369.7" y="1586.45">Vicinamibacterales</text>
<text x="369.7" y="1619.65">UBA3495</text>
<text x="369.7" y="1652.05">Longimicrobiales</text>
<text x="369.7" y="1679.35">SAR202</text>
<text x="369.7" y="1719.65">Methylococcales</text>
<text x="369.7" y="1752.25">Thiotrichales</text>
<text x="369.7" y="1785.55">Flavobacteriales</text>
<text x="369.7" y="1815.55">Campylobacterales</text>
<text x="369.7" y="1846.45">Bacteroidales</text>
<text x="369.7" y="1878.65">Pseudomonadales</text>
<text x="369.7" y="1912.4">Nitrosococcales</text>
<text x="369.7" y="1942.55">SAR324</text>
<text x="369.7" y="1973.55">Marinisomatales</text>
<text x="369.7" y="2005.85">Desulfuromonadales</text>
<text x="369.7" y="2039.35">Sphingomonadales</text>
<text x="369.7" y="2067.25">Burkholderiales</text>
<text x="369.7" y="2100.45">Acidimicrobiales</text>
<text x="369.7" y="2132.85">Enterobacterales</text>
<text x="369.7" y="2160.15">Mycoplasmatales</text>
</g>
<g id="b-grplab" font-size="32" font-weight="bold" text-anchor="middle" stroke="#231f20" stroke-width="0.6">
<text transform="translate(85 928) rotate(90)">Surface</text>
<text transform="translate(85 1401.2) rotate(90)">Mesopelagic</text>
<text transform="translate(85 1920.5) rotate(90)">BWI</text>
</g>
<g id="b-collab" font-size="25" font-weight="bold" stroke="#231f20" stroke-width="0.6">
<text transform="translate(384.94 2207.26) rotate(45)">Relative abundance</text>
<text transform="translate(432.74 2207.26) rotate(45)">M00155 COX</text>
<text transform="translate(473.74 2207.26) rotate(45)">M00156 cbb3</text>
<text transform="translate(512.04 2207.26) rotate(45)">M00161 Photosystem II</text>
<text transform="translate(550.54 2207.26) rotate(45)">M00163 Photosystem I</text>
<text transform="translate(586.84 2207.26) rotate(45)">M00166 partial CBB</text>
<text transform="translate(622.94 2207.26) rotate(45)">M00173 rTCA</text>
<text transform="translate(660.04 2207.26) rotate(45)">M00174 MOX</text>
<text transform="translate(696.74 2207.26) rotate(45)">M00345 RMP methane assimilation</text>
<text transform="translate(733.04 2207.26) rotate(45)">M00935 Methanofuran biosynthesis</text>
<text transform="translate(767.04 2207.26) rotate(45)">M00551 Benzoate degradation</text>
<text transform="translate(802.74 2207.26) rotate(45)">M00569 Catechol meta-cleavage</text>
<text transform="translate(836.94 2207.26) rotate(45)">M00001 Glycolysis</text>
<text transform="translate(868.34 2207.26) rotate(45)">M00009 TCA</text>
<text transform="translate(899.94 2207.26) rotate(45)">M00082 FA biosynthesis ini</text>
<text transform="translate(934.74 2207.26) rotate(45)">M00083 FA biosynthesis elo</text>
<text transform="translate(966.84 2207.26) rotate(45)">M00086 acyl-CoA synthesis</text>
<text transform="translate(1001.74 2207.26) rotate(45)">M00087 beta oxidation</text>
<text transform="translate(1037.34 2207.26) rotate(45)">M00579 Acetate switch</text>
<text transform="translate(1071.14 2207.26) rotate(45)">M00854 Glycogen biosynthesis</text>
<text transform="translate(1106.74 2207.26) rotate(45)">M00855 Glycogen degradation</text>
<text transform="translate(1140.84 2207.26) rotate(45)">M00046 Pyrimidine degradation</text>
<text transform="translate(1177.14 2207.26) rotate(45)">M00958 Adenine degradation</text>
<text transform="translate(1213.24 2207.26) rotate(45)">M00175 Nitrogen fixation</text>
<text transform="translate(1249.34 2207.26) rotate(45)">M00528 Nitrification partial</text>
<text transform="translate(1283.24 2207.26) rotate(45)">M00804 Nitrification complete</text>
<text transform="translate(1319.54 2207.26) rotate(45)">M00529 Denitrification</text>
<text transform="translate(1355.64 2207.26) rotate(45)">M00530 DNRA</text>
<text transform="translate(1389.94 2207.26) rotate(45)">M00595 SOX</text>
<text transform="translate(1426.04 2207.26) rotate(45)">M00596 DSR</text>
</g>
<rect x="1479.7" y="819.2" width="49.1" height="603.1" fill="url(#gb)" stroke="#231f20" stroke-width="3"/>
<path d="M1530 819.2H1535.5M1530 939.76H1535.5M1530 1060.32H1535.5M1530 1180.88H1535.5M1530 1301.44H1535.5M1530 1422H1535.5" fill="none" stroke="#231f20" stroke-width="2.7"/>
<g id="b-cb1" font-size="24.5" font-weight="bold" stroke="#231f20" stroke-width="0.6">
<text x="1545.8" y="829.4">1.0</text>
<text x="1545.8" y="948.8">0.8</text>
<text x="1545.8" y="1070.1">0.6</text>
<text x="1545.8" y="1189.9">0.4</text>
<text x="1545.8" y="1309.3">0.2</text>
<text x="1545.8" y="1423.5">0.0</text>
</g>
<rect x="1479.1" y="1514" width="51.9" height="611.7" fill="url(#gc)"/>
<path d="M1529.5 1572.3H1538M1529.5 1642.19H1538M1529.5 1712.08H1538M1529.5 1781.97H1538M1529.5 1851.86H1538M1529.5 1921.75H1538M1529.5 1991.64H1538M1529.5 2061.53H1538" fill="none" stroke="#231f20" stroke-width="2.7"/>
<g id="b-cb2" font-size="24.5" font-weight="bold" stroke="#231f20" stroke-width="0.6">
<text x="1547.3" y="1584.4">0.200</text>
<text x="1547.3" y="1655.3">0.175</text>
<text x="1547.3" y="1726.3">0.150</text>
<text x="1547.3" y="1792.3">0.125</text>
<text x="1547.3" y="1863.3">0.100</text>
<text x="1547.3" y="1927.5">0.075</text>
<text x="1547.3" y="1999.1">0.050</text>
<text x="1547.3" y="2070.1">0.025</text>
</g>
</svg>
</body>
</html>
